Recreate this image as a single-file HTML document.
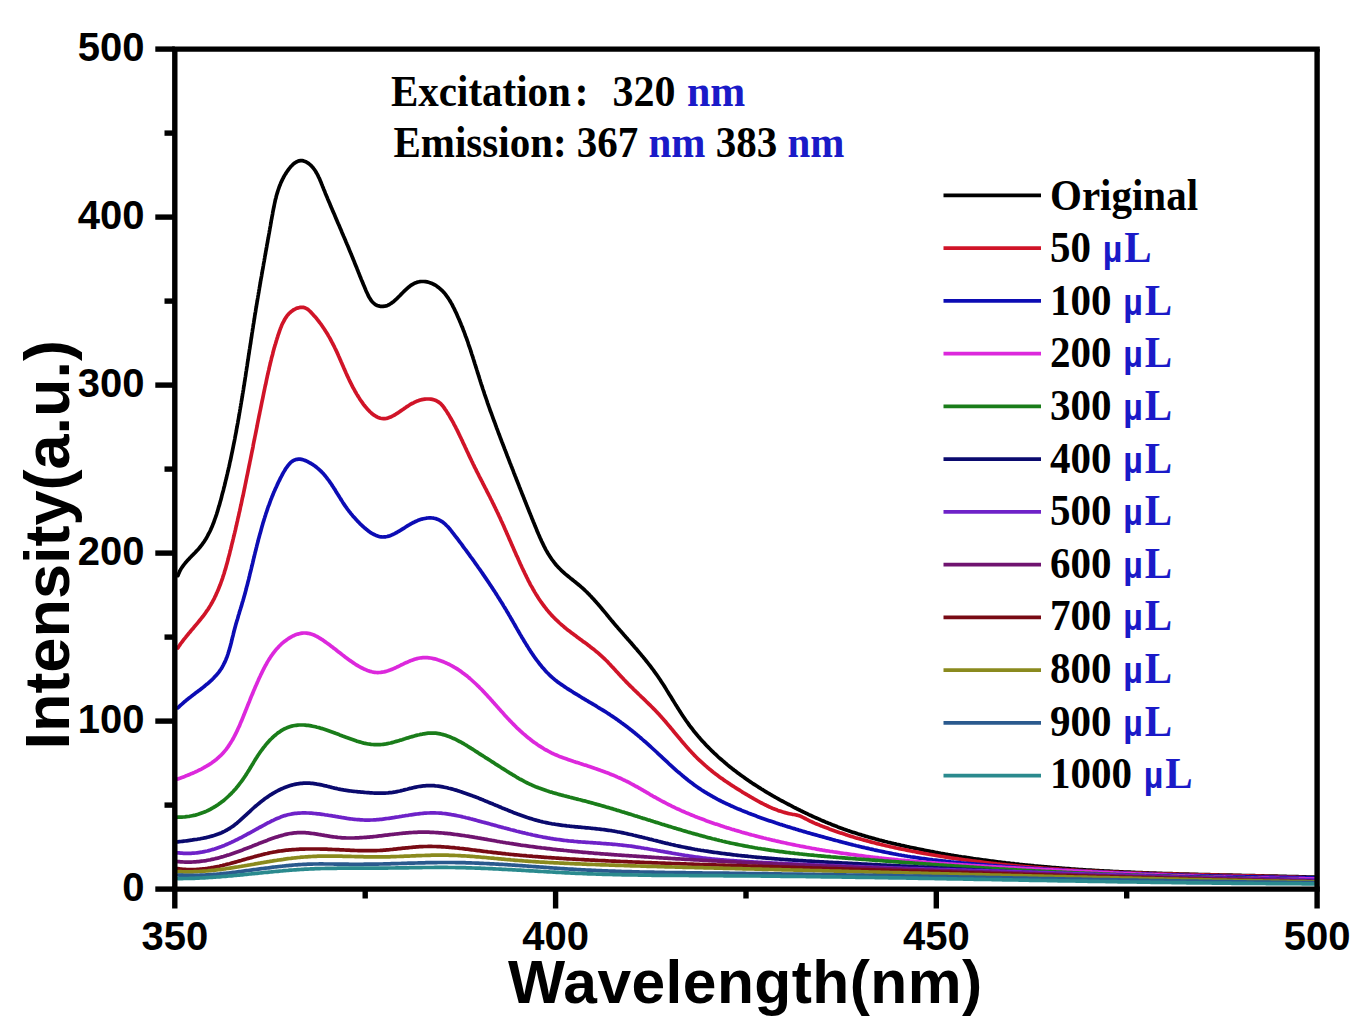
<!DOCTYPE html>
<html><head><meta charset="utf-8"><style>
html,body{margin:0;padding:0;background:#fff;}
body{width:1360px;height:1030px;overflow:hidden;}
svg{display:block;}
.sans{font-family:"Liberation Sans",sans-serif;font-weight:bold;}
.serif{font-family:"Liberation Serif",serif;font-weight:bold;}
.mu{font-family:"Liberation Sans",sans-serif;font-size:34px;}
</style></head><body>
<svg width="1360" height="1030" viewBox="0 0 1360 1030">
<rect width="1360" height="1030" fill="#fff"/>
<g fill="none" stroke-width="3.7" stroke-linejoin="round" stroke-linecap="round">
<path d="M177.9 575.7L178.4 574.3 179.0 572.9 179.6 571.5 180.3 570.2 181.0 568.9 181.8 567.6 182.7 566.4 183.6 565.2 184.5 564.0 185.4 562.8 186.4 561.7 187.4 560.6 188.4 559.5 189.4 558.4 190.5 557.3 191.5 556.2 192.6 555.2 193.6 554.1 194.7 553.0 195.7 551.9 196.7 550.9 197.8 549.8 198.8 548.6 199.7 547.5 200.7 546.3 201.6 545.2 202.5 543.9 203.4 542.7 204.2 541.5 205.0 540.2 205.8 539.0 206.6 537.7 207.3 536.4 208.0 535.0 208.7 533.7 209.4 532.4 210.1 531.0 210.7 529.7 211.3 528.3 211.9 526.9 212.5 525.5 213.0 524.2 213.6 522.8 214.1 521.4 214.6 519.9 215.1 518.5 215.6 517.1 216.1 515.7 216.6 514.3 217.0 512.8 217.5 511.4 217.9 510.0 218.3 508.5 218.7 507.1 219.2 505.7 219.6 504.2 220.0 502.8 220.4 501.3 220.8 499.9 221.2 498.4 221.6 497.0 221.9 495.5 222.3 494.1 222.7 492.6 223.1 491.2 223.5 489.7 223.8 488.3 224.2 486.8 224.6 485.4 224.9 483.9 225.3 482.5 225.6 481.0 226.0 479.6 226.4 478.1 226.7 476.6 227.0 475.2 227.4 473.7 227.7 472.3 228.1 470.8 228.4 469.3 228.7 467.9 229.1 466.4 229.4 465.0 229.7 463.5 230.0 462.0 230.4 460.6 230.7 459.1 231.0 457.6 231.3 456.2 231.6 454.7 231.9 453.2 232.2 451.8 232.5 450.3 232.8 448.8 233.1 447.4 233.4 445.9 233.7 444.4 234.0 442.9 234.3 441.5 234.6 440.0 234.9 438.5 235.1 437.1 235.4 435.6 235.7 434.1 236.0 432.6 236.3 431.2 236.5 429.7 236.8 428.2 237.1 426.7 237.3 425.3 237.6 423.8 237.9 422.3 238.1 420.8 238.4 419.4 238.7 417.9 238.9 416.4 239.2 414.9 239.4 413.5 239.7 412.0 239.9 410.5 240.2 409.0 240.4 407.5 240.7 406.1 240.9 404.6 241.2 403.1 241.4 401.6 241.7 400.2 241.9 398.7 242.2 397.2 242.4 395.7 242.6 394.2 242.9 392.8 243.1 391.3 243.4 389.8 243.6 388.3 243.8 386.8 244.1 385.4 244.3 383.9 244.5 382.4 244.8 380.9 245.0 379.4 245.2 378.0 245.5 376.5 245.7 375.0 245.9 373.5 246.1 372.0 246.4 370.5 246.6 369.1 246.8 367.6 247.1 366.1 247.3 364.6 247.5 363.1 247.7 361.7 248.0 360.2 248.2 358.7 248.4 357.2 248.6 355.7 248.9 354.2 249.1 352.8 249.3 351.3 249.5 349.8 249.8 348.3 250.0 346.8 250.2 345.4 250.5 343.9 250.7 342.4 250.9 340.9 251.1 339.4 251.4 337.9 251.6 336.5 251.8 335.0 252.0 333.5 252.3 332.0 252.5 330.5 252.7 329.1 253.0 327.6 253.2 326.1 253.4 324.6 253.7 323.1 253.9 321.7 254.1 320.2 254.4 318.7 254.6 317.2 254.8 315.7 255.1 314.2 255.3 312.8 255.6 311.3 255.8 309.8 256.0 308.3 256.3 306.9 256.5 305.4 256.8 303.9 257.0 302.4 257.3 300.9 257.5 299.5 257.8 298.0 258.0 296.5 258.3 295.0 258.5 293.5 258.8 292.1 259.0 290.6 259.3 289.1 259.5 287.6 259.8 286.2 260.0 284.7 260.3 283.2 260.5 281.7 260.8 280.2 261.0 278.8 261.3 277.3 261.6 275.8 261.8 274.3 262.1 272.9 262.3 271.4 262.6 269.9 262.9 268.4 263.1 267.0 263.4 265.5 263.6 264.0 263.9 262.5 264.2 261.1 264.4 259.6 264.7 258.1 264.9 256.6 265.2 255.1 265.5 253.7 265.7 252.2 266.0 250.7 266.3 249.2 266.5 247.8 266.8 246.3 267.0 244.8 267.3 243.3 267.6 241.9 267.8 240.4 268.1 238.9 268.4 237.4 268.6 236.0 268.9 234.5 269.2 233.0 269.4 231.5 269.7 230.1 269.9 228.6 270.2 227.1 270.5 225.6 270.7 224.2 271.0 222.7 271.2 221.2 271.5 219.7 271.8 218.2 272.0 216.8 272.3 215.3 272.6 213.8 272.8 212.3 273.1 210.9 273.4 209.4 273.7 207.9 274.0 206.5 274.3 205.0 274.6 203.5 274.9 202.1 275.2 200.6 275.6 199.1 276.0 197.7 276.3 196.2 276.7 194.8 277.1 193.4 277.6 191.9 278.0 190.5 278.5 189.1 279.0 187.7 279.5 186.2 280.1 184.9 280.6 183.5 281.2 182.1 281.9 180.7 282.5 179.4 283.2 178.0 283.9 176.7 284.6 175.4 285.4 174.1 286.2 172.9 287.0 171.6 287.9 170.4 288.8 169.2 289.7 168.0 290.6 166.8 291.7 165.7 292.7 164.7 293.8 163.7 295.0 162.8 296.3 162.0 297.7 161.3 299.1 160.9 300.6 160.6 302.1 160.7 303.5 160.9 305.0 161.4 306.3 162.0 307.6 162.8 308.8 163.6 310.0 164.6 311.1 165.6 312.1 166.7 313.1 167.8 314.0 169.0 314.9 170.3 315.7 171.5 316.4 172.8 317.2 174.1 317.9 175.4 318.5 176.8 319.2 178.1 319.8 179.5 320.4 180.9 321.0 182.3 321.5 183.7 322.1 185.1 322.6 186.4 323.2 187.8 323.7 189.2 324.3 190.6 324.9 192.0 325.4 193.4 326.0 194.8 326.6 196.2 327.2 197.6 327.7 198.9 328.3 200.3 328.9 201.7 329.5 203.1 330.1 204.5 330.6 205.8 331.2 207.2 331.8 208.6 332.4 210.0 333.0 211.4 333.6 212.7 334.2 214.1 334.8 215.5 335.4 216.9 335.9 218.3 336.5 219.6 337.1 221.0 337.7 222.4 338.3 223.8 338.9 225.1 339.5 226.5 340.1 227.9 340.7 229.3 341.3 230.7 341.8 232.0 342.4 233.4 343.0 234.8 343.6 236.2 344.2 237.5 344.8 238.9 345.4 240.3 345.9 241.7 346.5 243.1 347.1 244.5 347.7 245.8 348.3 247.2 348.8 248.6 349.4 250.0 350.0 251.4 350.6 252.8 351.1 254.1 351.7 255.5 352.3 256.9 352.8 258.3 353.4 259.7 354.0 261.1 354.5 262.5 355.1 263.9 355.6 265.3 356.2 266.6 356.8 268.0 357.3 269.4 357.9 270.8 358.4 272.2 359.0 273.6 359.5 275.0 360.1 276.4 360.7 277.8 361.2 279.2 361.8 280.6 362.4 281.9 362.9 283.3 363.5 284.7 364.1 286.1 364.7 287.5 365.3 288.9 365.8 290.2 366.4 291.6 367.1 293.0 367.7 294.3 368.3 295.7 369.0 297.0 369.8 298.3 370.6 299.6 371.5 300.8 372.4 302.0 373.5 303.0 374.6 304.0 375.9 304.8 377.2 305.5 378.6 305.9 380.1 306.3 381.6 306.4 383.1 306.4 384.6 306.2 386.0 305.9 387.5 305.4 388.8 304.8 390.1 304.0 391.4 303.2 392.6 302.3 393.8 301.4 394.9 300.4 396.0 299.4 397.1 298.4 398.2 297.3 399.2 296.3 400.3 295.2 401.3 294.1 402.4 293.0 403.4 292.0 404.5 290.9 405.6 289.9 406.7 288.9 407.8 287.9 408.9 286.9 410.1 286.0 411.3 285.1 412.6 284.3 413.9 283.6 415.2 282.9 416.7 282.4 418.1 282.0 419.6 281.7 421.1 281.5 422.6 281.5 424.0 281.5 425.5 281.7 427.0 281.9 428.5 282.3 429.9 282.7 431.3 283.2 432.7 283.8 434.0 284.5 435.3 285.2 436.6 286.0 437.8 286.9 439.0 287.8 440.2 288.8 441.3 289.8 442.4 290.8 443.4 291.9 444.4 293.0 445.3 294.2 446.2 295.4 447.1 296.6 448.0 297.8 448.8 299.1 449.6 300.4 450.4 301.6 451.1 302.9 451.9 304.2 452.6 305.6 453.2 306.9 453.9 308.2 454.6 309.6 455.2 310.9 455.9 312.3 456.5 313.6 457.1 315.0 457.7 316.4 458.3 317.8 458.9 319.1 459.5 320.5 460.1 321.9 460.7 323.3 461.2 324.7 461.8 326.1 462.4 327.4 462.9 328.8 463.4 330.2 464.0 331.6 464.5 333.0 465.0 334.4 465.5 335.9 466.1 337.3 466.6 338.7 467.1 340.1 467.6 341.5 468.1 342.9 468.5 344.3 469.0 345.8 469.5 347.2 470.0 348.6 470.5 350.0 470.9 351.4 471.4 352.9 471.8 354.3 472.3 355.7 472.8 357.1 473.2 358.6 473.7 360.0 474.1 361.4 474.6 362.9 475.0 364.3 475.5 365.7 475.9 367.2 476.4 368.6 476.8 370.0 477.3 371.4 477.7 372.9 478.2 374.3 478.6 375.7 479.1 377.2 479.5 378.6 480.0 380.0 480.4 381.5 480.9 382.9 481.3 384.3 481.8 385.7 482.3 387.2 482.7 388.6 483.2 390.0 483.7 391.4 484.2 392.9 484.6 394.3 485.1 395.7 485.6 397.1 486.1 398.5 486.6 400.0 487.1 401.4 487.5 402.8 488.0 404.2 488.5 405.6 489.0 407.0 489.5 408.4 490.0 409.9 490.5 411.3 491.1 412.7 491.6 414.1 492.1 415.5 492.6 416.9 493.1 418.3 493.6 419.7 494.1 421.1 494.7 422.5 495.2 423.9 495.7 425.3 496.2 426.7 496.7 428.2 497.3 429.6 497.8 431.0 498.3 432.4 498.8 433.8 499.4 435.2 499.9 436.6 500.4 438.0 501.0 439.4 501.5 440.8 502.0 442.2 502.6 443.6 503.1 445.0 503.7 446.4 504.2 447.8 504.7 449.2 505.3 450.6 505.8 452.0 506.4 453.4 506.9 454.8 507.4 456.2 508.0 457.6 508.5 459.0 509.1 460.4 509.6 461.8 510.1 463.2 510.7 464.5 511.2 465.9 511.8 467.3 512.3 468.7 512.9 470.1 513.4 471.5 513.9 472.9 514.5 474.3 515.0 475.7 515.6 477.1 516.1 478.5 516.7 479.9 517.2 481.3 517.8 482.7 518.3 484.1 518.9 485.5 519.4 486.9 520.0 488.3 520.5 489.7 521.1 491.1 521.6 492.5 522.2 493.9 522.7 495.3 523.3 496.6 523.8 498.0 524.4 499.4 524.9 500.8 525.5 502.2 526.0 503.6 526.6 505.0 527.2 506.4 527.7 507.8 528.3 509.2 528.8 510.6 529.4 512.0 530.0 513.4 530.5 514.7 531.1 516.1 531.6 517.5 532.2 518.9 532.8 520.3 533.3 521.7 533.9 523.1 534.5 524.5 535.0 525.8 535.6 527.2 536.2 528.6 536.7 530.0 537.3 531.4 537.9 532.8 538.5 534.2 539.1 535.5 539.7 536.9 540.3 538.3 540.9 539.6 541.5 541.0 542.2 542.4 542.8 543.7 543.5 545.1 544.1 546.4 544.8 547.7 545.5 549.1 546.2 550.4 547.0 551.7 547.7 553.0 548.5 554.3 549.3 555.5 550.1 556.8 550.9 558.0 551.8 559.3 552.7 560.5 553.6 561.7 554.5 562.9 555.4 564.0 556.4 565.2 557.4 566.3 558.4 567.4 559.5 568.5 560.5 569.5 561.6 570.6 562.7 571.6 563.8 572.6 564.9 573.6 566.1 574.6 567.2 575.5 568.4 576.5 569.5 577.4 570.7 578.4 571.9 579.3 573.0 580.2 574.2 581.2 575.4 582.1 576.5 583.1 577.7 584.0 578.9 585.0 580.0 585.9 581.1 586.9 582.3 587.9 583.4 588.9 584.5 589.9 585.6 591.0 586.7 592.0 587.7 593.1 588.8 594.1 589.8 595.2 590.9 596.3 591.9 597.4 592.9 598.5 593.9 599.6 594.9 600.7 595.9 601.8 596.9 602.9 597.9 604.1 598.9 605.2 599.9 606.3 600.8 607.5 601.8 608.6 602.7 609.8 603.7 610.9 604.7 612.1 605.6 613.2 606.6 614.4 607.5 615.6 608.5 616.7 609.4 617.9 610.4 619.0 611.3 620.2 612.3 621.3 613.3 622.5 614.2 623.6 615.2 624.8 616.2 625.9 617.2 627.0 618.1 628.2 619.1 629.3 620.1 630.4 621.1 631.6 622.1 632.7 623.1 633.8 624.0 635.0 625.0 636.1 626.0 637.2 627.0 638.3 628.0 639.5 629.0 640.6 630.0 641.7 631.0 642.8 632.0 644.0 632.9 645.1 633.9 646.2 634.9 647.4 635.9 648.5 636.9 649.6 637.8 650.8 638.8 651.9 639.8 653.1 640.7 654.2 641.7 655.4 642.7 656.5 643.6 657.7 644.6 658.8 645.5 660.0 646.5 661.2 647.4 662.3 648.3 663.5 649.2 664.7 650.2 665.9 651.1 667.1 652.0 668.3 652.9 669.5 653.8 670.7 654.6 671.9 655.5 673.1 656.4 674.3 657.2 675.5 658.1 676.8 658.9 678.0 659.8 679.3 660.6 680.5 661.4 681.8 662.2 683.0 663.1 684.3 663.9 685.5 664.7 686.8 665.5 688.1 666.3 689.4 667.0 690.6 667.8 691.9 668.6 693.2 669.4 694.5 670.2 695.7 671.0 697.0 671.8 698.3 672.5 699.6 673.3 700.8 674.1 702.1 674.9 703.4 675.7 704.7 676.5 705.9 677.3 707.2 678.1 708.5 678.9 709.8 679.7 711.0 680.5 712.3 681.3 713.5 682.1 714.8 682.9 716.0 683.8 717.3 684.6 718.5 685.5 719.8 686.3 721.0 687.2 722.2 688.1 723.4 688.9 724.6 689.8 725.9 690.7 727.0 691.7 728.2 692.6 729.4 693.5 730.6 694.4 731.8 695.4 732.9 696.3 734.1 697.3 735.2 698.3 736.4 699.3 737.5 700.2 738.6 701.2 739.8 702.2 740.9 703.3 742.0 704.3 743.1 705.3 744.2 706.3 745.3 707.4 746.3 708.4 747.4 709.5 748.5 710.5 749.5 711.6 750.6 712.7 751.6 713.8 752.7 714.8 753.7 715.9 754.7 717.0 755.7 718.1 756.8 719.3 757.8 720.4 758.8 721.5 759.7 722.6 760.7 723.8 761.7 724.9 762.7 726.1 763.6 727.2 764.6 728.4 765.6 729.5 766.5 730.7 767.4 731.9 768.4 733.1 769.3 734.2 770.2 735.4 771.1 736.6 772.0 737.8 772.9 739.0 773.8 740.2 774.7 741.4 775.6 742.7 776.5 743.9 777.3 745.1 778.2 746.3 779.1 747.6 779.9 748.8 780.8 750.0 781.6 751.3 782.5 752.5 783.3 753.8 784.1 755.0 784.9 756.3 785.7 757.6 786.6 758.8 787.4 760.1 788.2 761.4 789.0 762.6 789.7 763.9 790.5 765.2 791.3 766.5 792.1 767.8 792.9 769.1 793.6 770.4 794.4 771.6 795.1 772.9 795.9 774.2 796.6 775.5 797.4 776.9 798.1 778.2 798.8 779.5 799.6 780.8 800.3 782.1 801.0 783.4 801.7 784.7 802.4 786.1 803.1 787.4 803.8 788.7 804.5 790.0 805.2 791.4 805.9 792.7 806.6 794.0 807.3 795.4 808.0 796.7 808.7 798.0 809.3 799.4 810.0 800.7 810.7 802.1 811.3 803.4 812.0 804.8 812.6 806.1 813.3 807.5 813.9 808.8 814.6 810.2 815.2 811.6 815.8 812.9 816.5 814.3 817.1 815.7 817.7 817.0 818.3 818.4 818.9 819.8 819.5 821.1 820.1 822.5 820.7 823.9 821.3 825.3 821.9 826.7 822.4 828.0 823.0 829.4 823.6 830.8 824.1 832.2 824.7 833.6 825.2 835.0 825.8 836.4 826.3 837.8 826.9 839.2 827.4 840.6 827.9 842.0 828.4 843.4 829.0 844.8 829.5 846.3 830.0 847.7 830.5 849.1 830.9 850.5 831.4 851.9 831.9 853.3 832.4 854.8 832.8 856.2 833.3 857.6 833.8 859.1 834.2 860.5 834.6 861.9 835.1 863.4 835.5 864.8 835.9 866.2 836.4 867.7 836.8 869.1 837.2 870.6 837.6 872.0 838.0 873.4 838.4 874.9 838.8 876.3 839.2 877.8 839.6 879.2 840.0 880.7 840.3 882.1 840.7 883.6 841.1 885.0 841.5 886.5 841.8 888.0 842.2 889.4 842.5 890.9 842.9 892.3 843.2 893.8 843.6 895.2 843.9 896.7 844.3 898.2 844.6 899.6 844.9 901.1 845.3 902.6 845.6 904.0 845.9 905.5 846.2 906.9 846.6 908.4 846.9 909.9 847.2 911.3 847.5 912.8 847.8 914.3 848.1 915.7 848.4 917.2 848.7 918.7 849.0 920.1 849.3 921.6 849.6 923.1 849.9 924.6 850.2 926.0 850.5 927.5 850.8 929.0 851.1 930.4 851.4 931.9 851.6 933.4 851.9 934.9 852.2 936.3 852.5 937.8 852.7 939.3 853.0 940.8 853.3 942.2 853.5 943.7 853.8 945.2 854.1 946.7 854.3 948.1 854.6 949.6 854.8 951.1 855.1 952.6 855.3 954.1 855.6 955.5 855.8 957.0 856.0 958.5 856.3 960.0 856.5 961.5 856.8 962.9 857.0 964.4 857.2 965.9 857.4 967.4 857.7 968.9 857.9 970.3 858.1 971.8 858.3 973.3 858.6 974.8 858.8 976.3 859.0 977.8 859.2 979.3 859.4 980.7 859.6 982.2 859.8 983.7 860.0 985.2 860.2 986.7 860.4 988.2 860.6 989.6 860.8 991.1 861.0 992.6 861.2 994.1 861.4 995.6 861.6 997.1 861.8 998.6 862.0 1000.1 862.1 1001.5 862.3 1003.0 862.5 1004.5 862.7 1006.0 862.9 1007.5 863.0 1009.0 863.2 1010.5 863.4 1012.0 863.5 1013.5 863.7 1014.9 863.9 1016.4 864.0 1017.9 864.2 1019.4 864.4 1020.9 864.5 1022.4 864.7 1023.9 864.8 1025.4 865.0 1026.9 865.1 1028.4 865.3 1029.9 865.4 1031.4 865.6 1032.8 865.7 1034.3 865.9 1035.8 866.0 1037.3 866.1 1038.8 866.3 1040.3 866.4 1041.8 866.6 1043.3 866.7 1044.8 866.8 1046.3 866.9 1047.8 867.1 1049.3 867.2 1050.8 867.3 1052.3 867.5 1053.7 867.6 1055.2 867.7 1056.7 867.8 1058.2 867.9 1059.7 868.1 1061.2 868.2 1062.7 868.3 1064.2 868.4 1065.7 868.5 1067.2 868.6 1068.7 868.7 1070.2 868.8 1071.7 869.0 1073.2 869.1 1074.7 869.2 1076.2 869.3 1077.7 869.4 1079.2 869.5 1080.7 869.6 1082.2 869.7 1083.6 869.8 1085.1 869.9 1086.6 870.0 1088.1 870.1 1089.6 870.1 1091.1 870.2 1092.6 870.3 1094.1 870.4 1095.6 870.5 1097.1 870.6 1098.6 870.7 1100.1 870.8 1101.6 870.8 1103.1 870.9 1104.6 871.0 1106.1 871.1 1107.6 871.2 1109.1 871.2 1110.6 871.3 1112.1 871.4 1113.6 871.5 1115.1 871.5 1116.6 871.6 1118.1 871.7 1119.6 871.8 1121.1 871.8 1122.6 871.9 1124.1 872.0 1125.6 872.0 1127.1 872.1 1128.6 872.2 1130.1 872.2 1131.6 872.3 1133.1 872.4 1134.5 872.4 1136.0 872.5 1137.5 872.5 1139.0 872.6 1140.5 872.7 1142.0 872.7 1143.5 872.8 1145.0 872.8 1146.5 872.9 1148.0 872.9 1149.5 873.0 1151.0 873.1 1152.5 873.1 1154.0 873.2 1155.5 873.2 1157.0 873.3 1158.5 873.3 1160.0 873.4 1161.5 873.4 1163.0 873.5 1164.5 873.5 1166.0 873.6 1167.5 873.6 1169.0 873.7 1170.5 873.7 1172.0 873.7 1173.5 873.8 1175.0 873.8 1176.5 873.9 1178.0 873.9 1179.5 874.0 1181.0 874.0 1182.5 874.0 1184.0 874.1 1185.5 874.1 1187.0 874.2 1188.5 874.2 1190.0 874.3 1191.5 874.3 1193.0 874.3 1194.5 874.4 1196.0 874.4 1197.5 874.4 1199.0 874.5 1200.5 874.5 1202.0 874.6 1203.5 874.6 1205.0 874.6 1206.5 874.7 1208.0 874.7 1209.5 874.7 1211.0 874.8 1212.5 874.8 1214.0 874.8 1215.5 874.9 1217.0 874.9 1218.5 874.9 1220.0 875.0 1221.5 875.0 1223.0 875.0 1224.5 875.1 1226.0 875.1 1227.5 875.1 1228.9 875.2 1230.4 875.2 1231.9 875.2 1233.4 875.3 1234.9 875.3 1236.4 875.3 1237.9 875.4 1239.4 875.4 1240.9 875.4 1242.4 875.5 1243.9 875.5 1245.4 875.5 1246.9 875.6 1248.4 875.6 1249.9 875.6 1251.4 875.7 1252.9 875.7 1254.4 875.7 1255.9 875.8 1257.4 875.8 1258.9 875.8 1260.4 875.9 1261.9 875.9 1263.4 875.9 1264.9 876.0 1266.4 876.0 1267.9 876.0 1269.4 876.1 1270.9 876.1 1272.4 876.1 1273.9 876.2 1275.4 876.2 1276.9 876.2 1278.4 876.3 1279.9 876.3 1281.4 876.3 1282.9 876.4 1284.4 876.4 1285.9 876.4 1287.4 876.5 1288.9 876.5 1290.4 876.6 1291.9 876.6 1293.4 876.6 1294.9 876.7 1296.4 876.7 1297.9 876.7 1299.4 876.8 1300.9 876.8 1302.4 876.9 1303.9 876.9 1305.4 876.9 1306.9 877.0 1308.4 877.0 1309.9 877.1 1311.4 877.1 1312.9 877.2 1314.4 877.2 1315.9 877.3" stroke="#000000"/>
<path d="M177.8 648.0L178.6 646.7 179.5 645.5 180.3 644.2 181.2 643.0 182.1 641.8 183.0 640.6 183.9 639.4 184.8 638.3 185.8 637.1 186.7 635.9 187.7 634.8 188.6 633.6 189.6 632.5 190.6 631.3 191.5 630.2 192.5 629.0 193.5 627.9 194.4 626.7 195.4 625.6 196.4 624.4 197.3 623.3 198.3 622.1 199.2 621.0 200.2 619.8 201.1 618.6 202.0 617.5 203.0 616.3 203.9 615.1 204.8 613.9 205.6 612.7 206.5 611.4 207.4 610.2 208.2 609.0 209.0 607.7 209.8 606.4 210.6 605.1 211.3 603.8 212.1 602.5 212.8 601.2 213.5 599.9 214.2 598.6 214.8 597.2 215.5 595.9 216.1 594.5 216.7 593.1 217.3 591.8 217.9 590.4 218.5 589.0 219.1 587.6 219.6 586.2 220.2 584.8 220.7 583.4 221.2 582.0 221.7 580.6 222.2 579.2 222.7 577.8 223.1 576.3 223.6 574.9 224.1 573.5 224.5 572.0 224.9 570.6 225.4 569.2 225.8 567.7 226.2 566.3 226.6 564.8 227.0 563.4 227.4 562.0 227.8 560.5 228.2 559.1 228.5 557.6 228.9 556.2 229.3 554.7 229.7 553.2 230.0 551.8 230.4 550.3 230.8 548.9 231.1 547.4 231.5 546.0 231.8 544.5 232.2 543.1 232.6 541.6 232.9 540.1 233.3 538.7 233.6 537.2 234.0 535.8 234.3 534.3 234.7 532.9 235.0 531.4 235.4 529.9 235.7 528.5 236.0 527.0 236.4 525.6 236.7 524.1 237.0 522.6 237.4 521.2 237.7 519.7 238.0 518.2 238.4 516.8 238.7 515.3 239.0 513.9 239.3 512.4 239.7 510.9 240.0 509.5 240.3 508.0 240.6 506.5 241.0 505.1 241.3 503.6 241.6 502.1 241.9 500.7 242.2 499.2 242.5 497.7 242.9 496.3 243.2 494.8 243.5 493.3 243.8 491.9 244.1 490.4 244.4 488.9 244.7 487.5 245.0 486.0 245.3 484.5 245.6 483.1 245.9 481.6 246.2 480.1 246.5 478.7 246.8 477.2 247.1 475.7 247.4 474.3 247.7 472.8 248.0 471.3 248.3 469.8 248.6 468.4 248.9 466.9 249.2 465.4 249.5 464.0 249.8 462.5 250.1 461.0 250.4 459.6 250.7 458.1 251.0 456.6 251.3 455.1 251.6 453.7 251.9 452.2 252.2 450.7 252.5 449.3 252.8 447.8 253.1 446.3 253.3 444.8 253.6 443.4 253.9 441.9 254.2 440.4 254.5 439.0 254.8 437.5 255.1 436.0 255.4 434.6 255.7 433.1 256.0 431.6 256.3 430.1 256.6 428.7 256.9 427.2 257.2 425.7 257.4 424.3 257.7 422.8 258.0 421.3 258.3 419.8 258.6 418.4 258.9 416.9 259.2 415.4 259.5 414.0 259.8 412.5 260.1 411.0 260.4 409.6 260.7 408.1 261.0 406.6 261.3 405.1 261.6 403.7 261.9 402.2 262.2 400.7 262.5 399.3 262.8 397.8 263.1 396.3 263.4 394.9 263.7 393.4 264.0 391.9 264.3 390.5 264.6 389.0 264.9 387.5 265.2 386.1 265.6 384.6 265.9 383.1 266.2 381.7 266.5 380.2 266.8 378.7 267.1 377.3 267.4 375.8 267.8 374.3 268.1 372.9 268.4 371.4 268.8 369.9 269.1 368.5 269.4 367.0 269.8 365.6 270.1 364.1 270.5 362.6 270.8 361.2 271.2 359.7 271.5 358.3 271.9 356.8 272.3 355.4 272.7 353.9 273.0 352.5 273.4 351.0 273.8 349.6 274.2 348.1 274.6 346.7 275.0 345.2 275.5 343.8 275.9 342.4 276.3 340.9 276.8 339.5 277.2 338.1 277.7 336.6 278.1 335.2 278.6 333.8 279.1 332.4 279.6 330.9 280.1 329.5 280.6 328.1 281.2 326.7 281.7 325.3 282.3 324.0 283.0 322.6 283.7 321.3 284.4 320.0 285.1 318.7 286.0 317.4 286.8 316.2 287.7 315.0 288.7 313.9 289.8 312.8 290.9 311.8 292.1 310.9 293.3 310.0 294.6 309.3 296.0 308.6 297.4 308.1 298.8 307.7 300.3 307.4 301.8 307.3 303.3 307.4 304.7 307.8 306.1 308.4 307.4 309.1 308.6 310.0 309.7 311.0 310.8 312.1 311.8 313.2 312.8 314.3 313.8 315.4 314.8 316.5 315.8 317.6 316.8 318.8 317.7 320.0 318.6 321.1 319.5 322.3 320.4 323.5 321.3 324.7 322.2 326.0 323.0 327.2 323.9 328.5 324.7 329.7 325.5 331.0 326.3 332.2 327.1 333.5 327.9 334.8 328.6 336.1 329.4 337.4 330.1 338.7 330.8 340.0 331.5 341.3 332.2 342.7 332.9 344.0 333.6 345.3 334.3 346.7 334.9 348.0 335.6 349.4 336.2 350.7 336.9 352.1 337.5 353.4 338.1 354.8 338.7 356.2 339.3 357.5 339.9 358.9 340.5 360.3 341.1 361.7 341.7 363.0 342.3 364.4 342.9 365.8 343.5 367.2 344.1 368.6 344.7 369.9 345.3 371.3 345.9 372.7 346.5 374.0 347.1 375.4 347.8 376.8 348.4 378.1 349.0 379.5 349.7 380.9 350.3 382.2 351.0 383.5 351.7 384.9 352.3 386.2 353.0 387.5 353.8 388.9 354.5 390.2 355.2 391.5 356.0 392.8 356.7 394.1 357.5 395.4 358.3 396.6 359.1 397.9 359.9 399.2 360.7 400.4 361.6 401.6 362.5 402.9 363.3 404.1 364.2 405.3 365.2 406.5 366.1 407.6 367.1 408.7 368.1 409.9 369.2 410.9 370.2 412.0 371.3 413.0 372.5 414.0 373.7 414.9 374.9 415.7 376.2 416.5 377.5 417.2 378.9 417.7 380.4 418.2 381.8 418.5 383.3 418.6 384.8 418.6 386.3 418.4 387.8 418.1 389.2 417.6 390.6 417.1 391.9 416.4 393.3 415.7 394.6 415.0 395.8 414.2 397.1 413.4 398.4 412.6 399.6 411.7 400.8 410.9 402.1 410.0 403.3 409.2 404.5 408.3 405.8 407.5 407.0 406.6 408.3 405.8 409.5 405.0 410.8 404.2 412.1 403.5 413.5 402.8 414.8 402.1 416.2 401.5 417.5 400.9 419.0 400.4 420.4 400.0 421.9 399.6 423.3 399.4 424.8 399.2 426.3 399.0 427.8 399.0 429.3 399.0 430.8 399.2 432.3 399.4 433.7 399.8 435.2 400.3 436.5 400.8 437.9 401.6 439.1 402.4 440.3 403.3 441.4 404.4 442.4 405.5 443.3 406.6 444.2 407.9 445.0 409.1 445.9 410.3 446.7 411.6 447.5 412.9 448.3 414.1 449.1 415.4 449.8 416.7 450.6 418.0 451.3 419.3 452.1 420.6 452.8 421.9 453.5 423.2 454.2 424.6 454.9 425.9 455.6 427.2 456.3 428.6 457.0 429.9 457.6 431.2 458.3 432.6 458.9 433.9 459.6 435.3 460.2 436.6 460.9 438.0 461.5 439.3 462.2 440.7 462.8 442.1 463.4 443.4 464.1 444.8 464.7 446.1 465.3 447.5 466.0 448.9 466.6 450.2 467.2 451.6 467.9 452.9 468.5 454.3 469.1 455.7 469.8 457.0 470.4 458.4 471.1 459.7 471.7 461.1 472.4 462.4 473.0 463.8 473.7 465.1 474.3 466.5 475.0 467.8 475.7 469.1 476.3 470.5 477.0 471.8 477.7 473.2 478.4 474.5 479.0 475.8 479.7 477.2 480.4 478.5 481.1 479.8 481.8 481.2 482.5 482.5 483.1 483.9 483.8 485.2 484.5 486.5 485.2 487.9 485.9 489.2 486.6 490.5 487.2 491.9 487.9 493.2 488.6 494.5 489.3 495.9 490.0 497.2 490.6 498.5 491.3 499.9 492.0 501.2 492.6 502.6 493.3 503.9 494.0 505.3 494.6 506.6 495.3 508.0 495.9 509.3 496.6 510.7 497.2 512.0 497.9 513.4 498.5 514.7 499.1 516.1 499.8 517.4 500.4 518.8 501.0 520.2 501.6 521.5 502.3 522.9 502.9 524.3 503.5 525.6 504.1 527.0 504.7 528.4 505.3 529.8 505.9 531.1 506.5 532.5 507.1 533.9 507.7 535.2 508.3 536.6 508.9 538.0 509.5 539.4 510.1 540.7 510.7 542.1 511.3 543.5 511.9 544.9 512.5 546.2 513.1 547.6 513.7 549.0 514.3 550.4 514.9 551.7 515.5 553.1 516.1 554.5 516.7 555.9 517.4 557.2 518.0 558.6 518.6 560.0 519.2 561.3 519.8 562.7 520.4 564.1 521.1 565.4 521.7 566.8 522.3 568.1 523.0 569.5 523.6 570.9 524.3 572.2 524.9 573.6 525.6 574.9 526.2 576.2 526.9 577.6 527.6 578.9 528.2 580.3 528.9 581.6 529.6 582.9 530.3 584.3 531.0 585.6 531.8 586.9 532.5 588.2 533.2 589.5 534.0 590.8 534.7 592.1 535.5 593.4 536.3 594.7 537.1 595.9 537.9 597.2 538.7 598.5 539.5 599.7 540.4 601.0 541.2 602.2 542.1 603.4 543.0 604.6 543.8 605.8 544.8 607.0 545.7 608.2 546.6 609.4 547.6 610.5 548.5 611.7 549.5 612.8 550.5 613.9 551.5 615.1 552.5 616.1 553.6 617.2 554.6 618.3 555.7 619.4 556.8 620.4 557.9 621.4 559.0 622.5 560.1 623.5 561.2 624.5 562.3 625.4 563.5 626.4 564.6 627.4 565.8 628.3 567.0 629.3 568.1 630.2 569.3 631.1 570.5 632.0 571.7 632.9 572.9 633.8 574.1 634.7 575.3 635.6 576.5 636.5 577.7 637.4 578.9 638.3 580.1 639.2 581.3 640.1 582.5 641.0 583.7 641.9 585.0 642.7 586.2 643.6 587.4 644.5 588.6 645.4 589.8 646.3 590.9 647.3 592.1 648.2 593.3 649.1 594.5 650.0 595.6 651.0 596.8 651.9 598.0 652.9 599.1 653.9 600.2 654.9 601.3 655.9 602.4 656.9 603.5 657.9 604.6 658.9 605.7 660.0 606.8 661.0 607.8 662.1 608.8 663.2 609.9 664.3 610.9 665.4 611.9 666.5 613.0 667.6 614.0 668.7 615.0 669.8 616.0 670.9 617.0 672.0 618.0 673.1 619.0 674.2 620.0 675.3 621.0 676.4 622.1 677.5 623.1 678.6 624.1 679.7 625.2 680.8 626.2 681.9 627.2 682.9 628.3 684.0 629.4 685.1 630.4 686.1 631.5 687.2 632.6 688.2 633.6 689.3 634.7 690.3 635.8 691.4 636.9 692.4 637.9 693.4 639.0 694.5 640.1 695.5 641.2 696.6 642.3 697.6 643.4 698.6 644.4 699.7 645.5 700.7 646.6 701.8 647.7 702.8 648.7 703.9 649.8 704.9 650.9 706.0 651.9 707.0 653.0 708.1 654.0 709.2 655.1 710.2 656.1 711.3 657.2 712.4 658.2 713.5 659.2 714.6 660.2 715.7 661.2 716.8 662.2 717.9 663.2 719.1 664.2 720.2 665.2 721.3 666.2 722.5 667.1 723.6 668.1 724.8 669.1 725.9 670.0 727.0 671.0 728.2 672.0 729.3 672.9 730.5 673.9 731.7 674.8 732.8 675.8 734.0 676.7 735.1 677.7 736.3 678.7 737.4 679.6 738.6 680.6 739.7 681.5 740.9 682.5 742.0 683.5 743.2 684.5 744.3 685.4 745.4 686.4 746.6 687.4 747.7 688.4 748.8 689.4 749.9 690.4 751.0 691.4 752.1 692.5 753.2 693.5 754.3 694.5 755.4 695.6 756.5 696.6 757.5 697.7 758.6 698.8 759.6 699.9 760.7 701.0 761.7 702.1 762.7 703.2 763.7 704.3 764.7 705.4 765.7 706.6 766.7 707.7 767.7 708.9 768.6 710.0 769.6 711.2 770.5 712.4 771.5 713.5 772.4 714.7 773.3 715.9 774.2 717.1 775.1 718.3 776.0 719.5 776.9 720.7 777.8 722.0 778.6 723.2 779.5 724.4 780.4 725.6 781.2 726.9 782.1 728.1 782.9 729.4 783.7 730.6 784.6 731.9 785.4 733.1 786.2 734.4 787.0 735.7 787.8 736.9 788.6 738.2 789.4 739.5 790.2 740.8 791.0 742.0 791.8 743.3 792.6 744.6 793.3 745.9 794.1 747.2 794.9 748.5 795.6 749.7 796.4 751.0 797.2 752.3 797.9 753.6 798.7 754.9 799.4 756.2 800.1 757.6 800.9 758.9 801.6 760.2 802.3 761.5 803.0 762.8 803.7 764.2 804.4 765.5 805.0 766.9 805.7 768.2 806.3 769.6 807.0 771.0 807.6 772.3 808.2 773.7 808.7 775.1 809.3 776.5 809.8 777.9 810.4 779.3 810.9 780.8 811.3 782.2 811.8 783.6 812.2 785.1 812.6 786.5 813.0 788.0 813.4 789.4 813.7 790.9 814.0 792.4 814.3 793.9 814.5 795.3 814.8 796.8 815.1 798.3 815.5 799.7 815.9 801.1 816.5 802.4 817.1 803.8 817.8 805.1 818.5 806.4 819.2 807.8 819.9 809.1 820.6 810.4 821.2 811.8 821.8 813.2 822.5 814.5 823.1 815.9 823.7 817.3 824.3 818.7 824.8 820.1 825.4 821.5 825.9 822.9 826.5 824.3 827.0 825.7 827.6 827.1 828.1 828.5 828.6 829.9 829.2 831.3 829.7 832.7 830.2 834.1 830.7 835.5 831.2 836.9 831.7 838.3 832.2 839.8 832.7 841.2 833.1 842.6 833.6 844.0 834.1 845.5 834.6 846.9 835.0 848.3 835.5 849.7 835.9 851.2 836.4 852.6 836.8 854.0 837.2 855.5 837.7 856.9 838.1 858.4 838.5 859.8 838.9 861.2 839.3 862.7 839.7 864.1 840.1 865.6 840.5 867.0 840.9 868.5 841.3 869.9 841.7 871.4 842.1 872.8 842.5 874.3 842.8 875.7 843.2 877.2 843.6 878.6 843.9 880.1 844.3 881.6 844.6 883.0 845.0 884.5 845.3 885.9 845.7 887.4 846.0 888.9 846.3 890.3 846.7 891.8 847.0 893.2 847.3 894.7 847.6 896.2 848.0 897.6 848.3 899.1 848.6 900.6 848.9 902.0 849.2 903.5 849.5 905.0 849.8 906.5 850.1 907.9 850.4 909.4 850.7 910.9 851.0 912.3 851.3 913.8 851.5 915.3 851.8 916.8 852.1 918.2 852.4 919.7 852.6 921.2 852.9 922.7 853.2 924.1 853.5 925.6 853.7 927.1 854.0 928.6 854.2 930.0 854.5 931.5 854.7 933.0 855.0 934.5 855.2 936.0 855.5 937.4 855.7 938.9 856.0 940.4 856.2 941.9 856.5 943.4 856.7 944.8 856.9 946.3 857.2 947.8 857.4 949.3 857.6 950.8 857.9 952.3 858.1 953.7 858.3 955.2 858.5 956.7 858.7 958.2 858.9 959.7 859.2 961.2 859.4 962.6 859.6 964.1 859.8 965.6 860.0 967.1 860.2 968.6 860.4 970.1 860.6 971.6 860.8 973.0 861.0 974.5 861.2 976.0 861.4 977.5 861.6 979.0 861.7 980.5 861.9 982.0 862.1 983.5 862.3 984.9 862.5 986.4 862.7 987.9 862.8 989.4 863.0 990.9 863.2 992.4 863.3 993.9 863.5 995.4 863.7 996.9 863.9 998.4 864.0 999.8 864.2 1001.3 864.3 1002.8 864.5 1004.3 864.6 1005.8 864.8 1007.3 865.0 1008.8 865.1 1010.3 865.3 1011.8 865.4 1013.3 865.6 1014.8 865.7 1016.3 865.8 1017.8 866.0 1019.2 866.1 1020.7 866.3 1022.2 866.4 1023.7 866.5 1025.2 866.7 1026.7 866.8 1028.2 866.9 1029.7 867.1 1031.2 867.2 1032.7 867.3 1034.2 867.4 1035.7 867.6 1037.2 867.7 1038.7 867.8 1040.2 867.9 1041.7 868.0 1043.2 868.2 1044.6 868.3 1046.1 868.4 1047.6 868.5 1049.1 868.6 1050.6 868.7 1052.1 868.8 1053.6 868.9 1055.1 869.0 1056.6 869.1 1058.1 869.2 1059.6 869.3 1061.1 869.4 1062.6 869.5 1064.1 869.6 1065.6 869.7 1067.1 869.8 1068.6 869.9 1070.1 870.0 1071.6 870.1 1073.1 870.2 1074.6 870.3 1076.1 870.4 1077.6 870.5 1079.1 870.5 1080.6 870.6 1082.1 870.7 1083.6 870.8 1085.1 870.9 1086.6 871.0 1088.0 871.0 1089.5 871.1 1091.0 871.2 1092.5 871.3 1094.0 871.3 1095.5 871.4 1097.0 871.5 1098.5 871.6 1100.0 871.6 1101.5 871.7 1103.0 871.8 1104.5 871.8 1106.0 871.9 1107.5 872.0 1109.0 872.0 1110.5 872.1 1112.0 872.2 1113.5 872.2 1115.0 872.3 1116.5 872.4 1118.0 872.4 1119.5 872.5 1121.0 872.5 1122.5 872.6 1124.0 872.7 1125.5 872.7 1127.0 872.8 1128.5 872.8 1130.0 872.9 1131.5 872.9 1133.0 873.0 1134.5 873.0 1136.0 873.1 1137.5 873.1 1139.0 873.2 1140.5 873.2 1142.0 873.3 1143.5 873.3 1145.0 873.4 1146.5 873.4 1148.0 873.5 1149.5 873.5 1151.0 873.6 1152.5 873.6 1154.0 873.7 1155.5 873.7 1157.0 873.8 1158.5 873.8 1160.0 873.8 1161.5 873.9 1163.0 873.9 1164.5 874.0 1166.0 874.0 1167.5 874.0 1169.0 874.1 1170.5 874.1 1172.0 874.2 1173.5 874.2 1175.0 874.2 1176.5 874.3 1178.0 874.3 1179.5 874.4 1181.0 874.4 1182.5 874.4 1184.0 874.5 1185.5 874.5 1187.0 874.5 1188.5 874.6 1190.0 874.6 1191.5 874.7 1193.0 874.7 1194.5 874.7 1196.0 874.8 1197.5 874.8 1199.0 874.8 1200.5 874.9 1201.9 874.9 1203.4 874.9 1204.9 875.0 1206.4 875.0 1207.9 875.0 1209.4 875.1 1210.9 875.1 1212.4 875.1 1213.9 875.2 1215.4 875.2 1216.9 875.2 1218.4 875.3 1219.9 875.3 1221.4 875.3 1222.9 875.4 1224.4 875.4 1225.9 875.4 1227.4 875.5 1228.9 875.5 1230.4 875.5 1231.9 875.6 1233.4 875.6 1234.9 875.6 1236.4 875.7 1237.9 875.7 1239.4 875.7 1240.9 875.8 1242.4 875.8 1243.9 875.8 1245.4 875.9 1246.9 875.9 1248.4 875.9 1249.9 876.0 1251.4 876.0 1252.9 876.1 1254.4 876.1 1255.9 876.1 1257.4 876.2 1258.9 876.2 1260.4 876.2 1261.9 876.3 1263.4 876.3 1264.9 876.4 1266.4 876.4 1267.9 876.4 1269.4 876.5 1270.9 876.5 1272.4 876.6 1273.9 876.6 1275.4 876.6 1276.9 876.7 1278.4 876.7 1279.9 876.8 1281.4 876.8 1282.9 876.9 1284.4 876.9 1285.9 876.9 1287.4 877.0 1288.9 877.0 1290.4 877.1 1291.9 877.1 1293.4 877.2 1294.9 877.2 1296.4 877.3 1297.9 877.3 1299.4 877.4 1300.9 877.4 1302.4 877.5 1303.9 877.5 1305.4 877.6 1306.9 877.6 1308.4 877.7 1309.9 877.7 1311.4 877.8 1312.9 877.9 1314.4 877.9 1315.9 878.0" stroke="#d01428"/>
<path d="M177.8 707.9L178.9 706.9 179.9 705.8 181.0 704.8 182.2 703.8 183.3 702.8 184.4 701.8 185.6 700.9 186.7 699.9 187.9 699.0 189.1 698.1 190.3 697.2 191.5 696.2 192.7 695.3 193.8 694.4 195.0 693.5 196.2 692.6 197.4 691.7 198.6 690.8 199.8 689.9 201.0 689.0 202.2 688.1 203.4 687.1 204.5 686.2 205.7 685.2 206.8 684.3 208.0 683.3 209.1 682.3 210.2 681.3 211.3 680.3 212.4 679.3 213.5 678.2 214.5 677.1 215.5 676.0 216.5 674.9 217.5 673.8 218.5 672.6 219.4 671.4 220.2 670.2 221.1 669.0 221.9 667.7 222.6 666.4 223.3 665.1 224.0 663.7 224.7 662.4 225.3 661.0 225.9 659.7 226.4 658.3 227.0 656.9 227.5 655.5 228.0 654.0 228.4 652.6 228.9 651.2 229.3 649.7 229.7 648.3 230.1 646.9 230.5 645.4 230.9 644.0 231.3 642.5 231.6 641.1 232.0 639.6 232.3 638.1 232.7 636.7 233.1 635.2 233.4 633.8 233.8 632.3 234.1 630.9 234.5 629.4 234.9 628.0 235.3 626.5 235.7 625.1 236.1 623.6 236.5 622.2 236.9 620.8 237.4 619.3 237.8 617.9 238.2 616.4 238.6 615.0 239.1 613.6 239.5 612.1 239.9 610.7 240.4 609.3 240.8 607.8 241.3 606.4 241.7 605.0 242.1 603.5 242.5 602.1 243.0 600.6 243.4 599.2 243.8 597.8 244.2 596.3 244.6 594.9 245.0 593.4 245.4 592.0 245.8 590.5 246.2 589.1 246.5 587.6 246.9 586.2 247.3 584.7 247.7 583.3 248.0 581.8 248.4 580.4 248.8 578.9 249.1 577.5 249.5 576.0 249.8 574.6 250.2 573.1 250.6 571.6 250.9 570.2 251.3 568.7 251.6 567.3 252.0 565.8 252.3 564.4 252.7 562.9 253.0 561.5 253.4 560.0 253.7 558.5 254.1 557.1 254.4 555.6 254.8 554.2 255.1 552.7 255.5 551.3 255.9 549.8 256.2 548.3 256.6 546.9 256.9 545.4 257.3 544.0 257.7 542.5 258.1 541.1 258.4 539.6 258.8 538.2 259.2 536.7 259.6 535.3 260.0 533.8 260.4 532.4 260.8 530.9 261.2 529.5 261.6 528.1 262.0 526.6 262.4 525.2 262.8 523.7 263.2 522.3 263.7 520.9 264.1 519.4 264.6 518.0 265.0 516.6 265.5 515.1 265.9 513.7 266.4 512.3 266.9 510.9 267.4 509.4 267.8 508.0 268.3 506.6 268.9 505.2 269.4 503.8 269.9 502.4 270.4 501.0 270.9 499.6 271.5 498.2 272.0 496.8 272.6 495.4 273.2 494.0 273.7 492.6 274.3 491.3 274.9 489.9 275.5 488.5 276.2 487.1 276.8 485.8 277.4 484.4 278.0 483.1 278.7 481.7 279.4 480.4 280.0 479.0 280.7 477.7 281.4 476.4 282.1 475.0 282.8 473.7 283.5 472.4 284.3 471.1 285.1 469.8 285.8 468.5 286.7 467.3 287.6 466.1 288.5 464.9 289.5 463.8 290.5 462.7 291.7 461.7 292.9 460.9 294.2 460.2 295.6 459.6 297.1 459.3 298.5 459.1 300.0 459.2 301.5 459.4 303.0 459.8 304.4 460.2 305.8 460.8 307.2 461.4 308.5 462.1 309.8 462.8 311.1 463.5 312.4 464.3 313.7 465.2 314.9 466.0 316.1 466.9 317.2 467.9 318.4 468.9 319.5 469.9 320.6 470.9 321.6 471.9 322.7 473.0 323.7 474.1 324.7 475.3 325.6 476.4 326.6 477.6 327.5 478.8 328.4 480.0 329.3 481.2 330.1 482.4 331.0 483.6 331.8 484.9 332.6 486.1 333.4 487.4 334.3 488.7 335.1 489.9 335.8 491.2 336.6 492.5 337.4 493.8 338.2 495.0 339.0 496.3 339.8 497.6 340.6 498.9 341.4 500.1 342.2 501.4 343.0 502.7 343.8 503.9 344.6 505.1 345.5 506.4 346.4 507.6 347.2 508.8 348.1 510.0 349.0 511.2 350.0 512.4 350.9 513.6 351.8 514.7 352.8 515.9 353.8 517.0 354.8 518.1 355.8 519.2 356.8 520.3 357.8 521.4 358.9 522.5 359.9 523.6 361.0 524.6 362.1 525.6 363.2 526.7 364.3 527.7 365.5 528.6 366.6 529.6 367.8 530.5 369.0 531.4 370.2 532.3 371.5 533.1 372.8 533.8 374.1 534.5 375.5 535.2 376.9 535.7 378.3 536.2 379.7 536.6 381.2 536.8 382.7 537.0 384.2 536.9 385.7 536.8 387.2 536.5 388.6 536.1 390.0 535.7 391.4 535.1 392.8 534.5 394.2 533.9 395.5 533.2 396.8 532.5 398.1 531.7 399.4 531.0 400.7 530.2 401.9 529.4 403.2 528.6 404.5 527.8 405.7 527.0 407.0 526.2 408.3 525.4 409.6 524.7 410.9 523.9 412.2 523.2 413.5 522.5 414.9 521.8 416.2 521.2 417.6 520.6 419.0 520.1 420.4 519.6 421.9 519.1 423.3 518.8 424.8 518.5 426.3 518.2 427.7 518.0 429.2 517.9 430.7 517.9 432.2 518.0 433.7 518.2 435.2 518.5 436.6 518.9 438.0 519.4 439.4 520.1 440.7 520.8 442.0 521.6 443.2 522.5 444.3 523.4 445.5 524.4 446.5 525.5 447.6 526.5 448.6 527.6 449.6 528.8 450.5 529.9 451.5 531.1 452.4 532.3 453.3 533.5 454.2 534.6 455.1 535.8 456.0 537.0 457.0 538.2 457.9 539.4 458.8 540.6 459.7 541.8 460.6 543.0 461.5 544.2 462.4 545.4 463.2 546.6 464.1 547.8 465.0 549.0 465.9 550.2 466.8 551.4 467.7 552.7 468.6 553.9 469.5 555.1 470.3 556.3 471.2 557.5 472.1 558.7 473.0 559.9 473.9 561.1 474.7 562.4 475.6 563.6 476.5 564.8 477.3 566.0 478.2 567.3 479.1 568.5 479.9 569.7 480.8 570.9 481.6 572.2 482.5 573.4 483.3 574.6 484.2 575.9 485.0 577.1 485.9 578.4 486.7 579.6 487.5 580.8 488.4 582.1 489.2 583.3 490.0 584.6 490.9 585.8 491.7 587.1 492.5 588.3 493.3 589.6 494.2 590.8 495.0 592.1 495.8 593.4 496.6 594.6 497.4 595.9 498.2 597.2 499.0 598.4 499.8 599.7 500.6 601.0 501.4 602.2 502.2 603.5 503.0 604.8 503.7 606.1 504.5 607.4 505.3 608.6 506.1 609.9 506.8 611.2 507.6 612.5 508.4 613.8 509.1 615.1 509.9 616.4 510.6 617.7 511.4 619.0 512.1 620.3 512.9 621.6 513.6 622.9 514.4 624.2 515.1 625.5 515.8 626.8 516.6 628.1 517.3 629.4 518.1 630.7 518.8 632.0 519.6 633.3 520.3 634.6 521.1 635.9 521.8 637.2 522.6 638.4 523.4 639.7 524.1 641.0 524.9 642.3 525.7 643.6 526.5 644.9 527.3 646.1 528.1 647.4 528.9 648.7 529.7 649.9 530.5 651.2 531.3 652.4 532.2 653.7 533.0 654.9 533.9 656.2 534.7 657.4 535.6 658.6 536.5 659.8 537.4 661.0 538.3 662.2 539.2 663.4 540.1 664.6 541.1 665.7 542.0 666.9 543.0 668.0 544.0 669.1 545.0 670.3 546.0 671.4 547.0 672.5 548.1 673.5 549.1 674.6 550.2 675.6 551.3 676.7 552.4 677.7 553.6 678.7 554.7 679.6 555.9 680.6 557.1 681.5 558.3 682.4 559.5 683.2 560.7 684.1 561.9 684.9 563.2 685.8 564.4 686.6 565.7 687.5 566.9 688.3 568.2 689.1 569.4 689.9 570.7 690.7 572.0 691.5 573.2 692.3 574.5 693.1 575.8 693.9 577.1 694.7 578.4 695.4 579.6 696.2 580.9 697.0 582.2 697.8 583.5 698.5 584.8 699.3 586.1 700.1 587.4 700.8 588.6 701.6 589.9 702.4 591.2 703.1 592.5 703.9 593.8 704.7 595.1 705.4 596.4 706.2 597.6 707.0 598.9 707.8 600.2 708.6 601.5 709.3 602.8 710.1 604.0 710.9 605.3 711.7 606.6 712.5 607.8 713.3 609.1 714.1 610.3 715.0 611.6 715.8 612.8 716.6 614.1 717.5 615.3 718.3 616.5 719.2 617.8 720.0 619.0 720.9 620.2 721.8 621.4 722.7 622.6 723.5 623.8 724.4 625.0 725.3 626.2 726.2 627.4 727.1 628.6 728.1 629.8 729.0 631.0 729.9 632.1 730.8 633.3 731.8 634.5 732.7 635.6 733.7 636.8 734.6 638.0 735.6 639.1 736.5 640.2 737.5 641.4 738.5 642.5 739.5 643.6 740.5 644.8 741.4 645.9 742.4 647.0 743.4 648.1 744.4 649.2 745.4 650.3 746.4 651.5 747.5 652.6 748.5 653.7 749.5 654.8 750.5 655.9 751.5 657.0 752.5 658.1 753.6 659.2 754.6 660.3 755.6 661.4 756.6 662.4 757.7 663.5 758.7 664.6 759.7 665.7 760.7 666.8 761.7 667.9 762.7 669.0 763.8 670.2 764.8 671.3 765.8 672.4 766.8 673.5 767.8 674.6 768.8 675.7 769.8 676.8 770.8 678.0 771.8 679.1 772.7 680.2 773.7 681.4 774.7 682.5 775.7 683.7 776.6 684.8 777.6 686.0 778.5 687.2 779.5 688.3 780.4 689.5 781.3 690.7 782.2 691.9 783.1 693.1 784.0 694.3 784.9 695.5 785.8 696.8 786.7 698.0 787.5 699.2 788.4 700.5 789.2 701.7 790.0 703.0 790.8 704.2 791.6 705.5 792.4 706.8 793.2 708.1 794.0 709.4 794.7 710.7 795.5 712.0 796.2 713.3 797.0 714.6 797.7 715.9 798.4 717.2 799.1 718.6 799.8 719.9 800.5 721.2 801.2 722.6 801.8 723.9 802.5 725.3 803.1 726.6 803.8 728.0 804.4 729.4 805.0 730.7 805.7 732.1 806.3 733.5 806.9 734.8 807.5 736.2 808.1 737.6 808.7 739.0 809.2 740.4 809.8 741.7 810.4 743.1 811.0 744.5 811.5 745.9 812.1 747.3 812.6 748.7 813.2 750.1 813.7 751.5 814.3 752.9 814.8 754.3 815.3 755.7 815.8 757.1 816.4 758.5 816.9 759.9 817.4 761.3 817.9 762.7 818.4 764.2 818.9 765.6 819.4 767.0 819.9 768.4 820.4 769.8 820.9 771.2 821.3 772.7 821.8 774.1 822.3 775.5 822.8 776.9 823.2 778.4 823.7 779.8 824.2 781.2 824.6 782.6 825.1 784.1 825.5 785.5 826.0 786.9 826.4 788.4 826.9 789.8 827.3 791.2 827.8 792.7 828.2 794.1 828.6 795.5 829.1 797.0 829.5 798.4 829.9 799.8 830.4 801.3 830.8 802.7 831.2 804.1 831.6 805.6 832.0 807.0 832.5 808.5 832.9 809.9 833.3 811.4 833.7 812.8 834.1 814.2 834.5 815.7 834.9 817.1 835.3 818.6 835.7 820.0 836.1 821.5 836.5 822.9 836.9 824.3 837.3 825.8 837.7 827.2 838.1 828.7 838.5 830.1 838.9 831.6 839.3 833.0 839.7 834.5 840.1 835.9 840.5 837.4 840.8 838.8 841.2 840.3 841.6 841.7 842.0 843.2 842.4 844.6 842.7 846.1 843.1 847.5 843.5 849.0 843.9 850.4 844.2 851.9 844.6 853.3 845.0 854.8 845.3 856.2 845.7 857.7 846.0 859.2 846.4 860.6 846.7 862.1 847.1 863.5 847.4 865.0 847.8 866.5 848.1 867.9 848.4 869.4 848.8 870.8 849.1 872.3 849.4 873.8 849.8 875.2 850.1 876.7 850.4 878.2 850.7 879.6 851.0 881.1 851.3 882.6 851.6 884.0 851.9 885.5 852.2 887.0 852.5 888.4 852.8 889.9 853.1 891.4 853.4 892.9 853.7 894.3 854.0 895.8 854.2 897.3 854.5 898.7 854.8 900.2 855.0 901.7 855.3 903.2 855.5 904.7 855.8 906.1 856.0 907.6 856.3 909.1 856.5 910.6 856.8 912.1 857.0 913.5 857.2 915.0 857.4 916.5 857.7 918.0 857.9 919.5 858.1 921.0 858.3 922.4 858.5 923.9 858.7 925.4 858.9 926.9 859.1 928.4 859.3 929.9 859.5 931.4 859.7 932.8 859.9 934.3 860.0 935.8 860.2 937.3 860.4 938.8 860.6 940.3 860.7 941.8 860.9 943.3 861.1 944.8 861.2 946.2 861.4 947.7 861.5 949.2 861.7 950.7 861.9 952.2 862.0 953.7 862.2 955.2 862.3 956.7 862.4 958.2 862.6 959.7 862.7 961.2 862.9 962.7 863.0 964.1 863.2 965.6 863.3 967.1 863.4 968.6 863.6 970.1 863.7 971.6 863.8 973.1 863.9 974.6 864.1 976.1 864.2 977.6 864.3 979.1 864.4 980.6 864.6 982.1 864.7 983.6 864.8 985.1 864.9 986.6 865.0 988.0 865.2 989.5 865.3 991.0 865.4 992.5 865.5 994.0 865.6 995.5 865.7 997.0 865.9 998.5 866.0 1000.0 866.1 1001.5 866.2 1003.0 866.3 1004.5 866.4 1006.0 866.5 1007.5 866.6 1009.0 866.7 1010.5 866.9 1012.0 867.0 1013.5 867.1 1015.0 867.2 1016.4 867.3 1017.9 867.4 1019.4 867.5 1020.9 867.6 1022.4 867.7 1023.9 867.8 1025.4 867.9 1026.9 868.0 1028.4 868.1 1029.9 868.2 1031.4 868.3 1032.9 868.4 1034.4 868.5 1035.9 868.6 1037.4 868.7 1038.9 868.8 1040.4 868.9 1041.9 869.0 1043.4 869.1 1044.9 869.1 1046.4 869.2 1047.9 869.3 1049.4 869.4 1050.9 869.5 1052.3 869.6 1053.8 869.7 1055.3 869.8 1056.8 869.9 1058.3 869.9 1059.8 870.0 1061.3 870.1 1062.8 870.2 1064.3 870.3 1065.8 870.4 1067.3 870.5 1068.8 870.5 1070.3 870.6 1071.8 870.7 1073.3 870.8 1074.8 870.9 1076.3 870.9 1077.8 871.0 1079.3 871.1 1080.8 871.2 1082.3 871.3 1083.8 871.3 1085.3 871.4 1086.8 871.5 1088.3 871.6 1089.8 871.6 1091.3 871.7 1092.8 871.8 1094.3 871.8 1095.8 871.9 1097.3 872.0 1098.8 872.1 1100.2 872.1 1101.7 872.2 1103.2 872.3 1104.7 872.3 1106.2 872.4 1107.7 872.5 1109.2 872.5 1110.7 872.6 1112.2 872.7 1113.7 872.7 1115.2 872.8 1116.7 872.9 1118.2 872.9 1119.7 873.0 1121.2 873.1 1122.7 873.1 1124.2 873.2 1125.7 873.2 1127.2 873.3 1128.7 873.4 1130.2 873.4 1131.7 873.5 1133.2 873.5 1134.7 873.6 1136.2 873.7 1137.7 873.7 1139.2 873.8 1140.7 873.8 1142.2 873.9 1143.7 873.9 1145.2 874.0 1146.7 874.1 1148.2 874.1 1149.7 874.2 1151.2 874.2 1152.7 874.3 1154.2 874.3 1155.7 874.4 1157.2 874.4 1158.7 874.5 1160.2 874.5 1161.7 874.6 1163.2 874.6 1164.7 874.7 1166.2 874.7 1167.7 874.8 1169.1 874.8 1170.6 874.9 1172.1 874.9 1173.6 875.0 1175.1 875.0 1176.6 875.0 1178.1 875.1 1179.6 875.1 1181.1 875.2 1182.6 875.2 1184.1 875.3 1185.6 875.3 1187.1 875.4 1188.6 875.4 1190.1 875.4 1191.6 875.5 1193.1 875.5 1194.6 875.6 1196.1 875.6 1197.6 875.6 1199.1 875.7 1200.6 875.7 1202.1 875.8 1203.6 875.8 1205.1 875.8 1206.6 875.9 1208.1 875.9 1209.6 875.9 1211.1 876.0 1212.6 876.0 1214.1 876.1 1215.6 876.1 1217.1 876.1 1218.6 876.2 1220.1 876.2 1221.6 876.2 1223.1 876.3 1224.6 876.3 1226.1 876.3 1227.6 876.4 1229.1 876.4 1230.6 876.4 1232.1 876.5 1233.6 876.5 1235.1 876.5 1236.6 876.6 1238.1 876.6 1239.6 876.6 1241.1 876.6 1242.6 876.7 1244.1 876.7 1245.6 876.7 1247.1 876.8 1248.6 876.8 1250.1 876.8 1251.6 876.8 1253.1 876.9 1254.6 876.9 1256.1 876.9 1257.6 877.0 1259.1 877.0 1260.6 877.0 1262.1 877.0 1263.6 877.1 1265.1 877.1 1266.6 877.1 1268.1 877.1 1269.6 877.2 1271.1 877.2 1272.6 877.2 1274.0 877.2 1275.5 877.3 1277.0 877.3 1278.5 877.3 1280.0 877.3 1281.5 877.4 1283.0 877.4 1284.5 877.4 1286.0 877.4 1287.5 877.4 1289.0 877.5 1290.5 877.5 1292.0 877.5 1293.5 877.5 1295.0 877.5 1296.5 877.6 1298.0 877.6 1299.5 877.6 1301.0 877.6 1302.5 877.6 1304.0 877.7 1305.5 877.7 1307.0 877.7 1308.5 877.7 1310.0 877.7 1311.5 877.8 1313.0 877.8 1314.5 877.8 1316.0 877.8" stroke="#0c0cb4"/>
<path d="M177.8 779.0L179.2 778.5 180.6 778.0 182.0 777.4 183.4 776.9 184.8 776.4 186.2 775.8 187.6 775.3 189.0 774.7 190.4 774.1 191.8 773.6 193.1 773.0 194.5 772.4 195.9 771.7 197.2 771.1 198.6 770.4 199.9 769.8 201.3 769.1 202.6 768.4 203.9 767.7 205.2 766.9 206.5 766.2 207.8 765.4 209.1 764.6 210.3 763.8 211.6 763.0 212.8 762.1 214.0 761.2 215.2 760.3 216.4 759.4 217.5 758.4 218.6 757.4 219.7 756.4 220.8 755.4 221.9 754.3 222.9 753.2 223.9 752.1 224.9 750.9 225.8 749.8 226.7 748.6 227.6 747.4 228.5 746.1 229.3 744.9 230.1 743.6 230.9 742.4 231.7 741.1 232.5 739.8 233.2 738.5 233.9 737.2 234.6 735.8 235.3 734.5 236.0 733.2 236.6 731.8 237.3 730.5 237.9 729.1 238.5 727.7 239.2 726.4 239.8 725.0 240.3 723.6 240.9 722.2 241.5 720.9 242.1 719.5 242.7 718.1 243.2 716.7 243.8 715.3 244.3 713.9 244.9 712.5 245.5 711.1 246.0 709.7 246.6 708.4 247.1 707.0 247.7 705.6 248.2 704.2 248.8 702.8 249.4 701.4 249.9 700.0 250.5 698.6 251.0 697.2 251.6 695.8 252.2 694.4 252.8 693.1 253.3 691.7 253.9 690.3 254.5 688.9 255.1 687.5 255.7 686.1 256.3 684.8 256.9 683.4 257.5 682.0 258.1 680.7 258.7 679.3 259.3 677.9 260.0 676.6 260.6 675.2 261.3 673.9 261.9 672.5 262.6 671.2 263.2 669.8 263.9 668.5 264.6 667.2 265.3 665.8 266.1 664.5 266.8 663.2 267.5 661.9 268.3 660.6 269.1 659.3 269.9 658.1 270.7 656.8 271.5 655.6 272.4 654.4 273.3 653.1 274.2 652.0 275.1 650.8 276.1 649.6 277.1 648.5 278.1 647.4 279.1 646.3 280.2 645.2 281.2 644.2 282.4 643.2 283.5 642.2 284.7 641.3 285.9 640.4 287.1 639.5 288.3 638.7 289.6 637.9 290.9 637.1 292.2 636.4 293.6 635.7 294.9 635.1 296.3 634.6 297.8 634.1 299.2 633.7 300.7 633.4 302.1 633.2 303.6 633.0 305.1 633.0 306.6 633.1 308.1 633.3 309.6 633.6 311.0 634.0 312.5 634.5 313.9 635.0 315.2 635.7 316.6 636.3 317.9 637.0 319.2 637.8 320.5 638.6 321.7 639.4 323.0 640.2 324.2 641.1 325.4 641.9 326.6 642.8 327.9 643.7 329.1 644.6 330.3 645.5 331.5 646.4 332.7 647.3 333.8 648.2 335.0 649.1 336.2 650.0 337.4 651.0 338.6 651.9 339.8 652.8 341.0 653.7 342.1 654.6 343.3 655.6 344.5 656.5 345.7 657.4 346.9 658.3 348.1 659.2 349.3 660.1 350.5 660.9 351.8 661.8 353.0 662.6 354.3 663.5 355.5 664.3 356.8 665.1 358.1 665.9 359.4 666.6 360.7 667.3 362.0 668.0 363.4 668.7 364.7 669.3 366.1 669.9 367.5 670.5 368.9 670.9 370.3 671.4 371.8 671.8 373.3 672.1 374.7 672.3 376.2 672.5 377.7 672.6 379.2 672.5 380.7 672.4 382.2 672.2 383.7 672.0 385.1 671.6 386.6 671.2 388.0 670.8 389.4 670.3 390.8 669.8 392.2 669.2 393.6 668.6 395.0 668.0 396.3 667.4 397.7 666.7 399.0 666.1 400.4 665.4 401.7 664.7 403.1 664.1 404.4 663.4 405.8 662.8 407.2 662.2 408.5 661.6 409.9 661.0 411.3 660.4 412.7 659.9 414.1 659.4 415.6 659.0 417.0 658.6 418.5 658.3 419.9 658.0 421.4 657.8 422.9 657.7 424.4 657.6 425.9 657.6 427.4 657.7 428.9 657.8 430.4 658.0 431.9 658.3 433.3 658.6 434.8 658.9 436.3 659.3 437.7 659.8 439.1 660.2 440.5 660.7 441.9 661.2 443.3 661.8 444.7 662.4 446.1 663.0 447.5 663.6 448.8 664.2 450.1 664.9 451.5 665.6 452.8 666.3 454.1 667.1 455.4 667.8 456.7 668.6 457.9 669.4 459.2 670.3 460.4 671.1 461.6 672.0 462.8 672.9 464.0 673.8 465.2 674.7 466.4 675.6 467.6 676.5 468.7 677.5 469.9 678.5 471.0 679.5 472.1 680.5 473.2 681.5 474.3 682.5 475.4 683.5 476.5 684.5 477.6 685.6 478.7 686.6 479.7 687.7 480.8 688.8 481.8 689.8 482.9 690.9 483.9 692.0 484.9 693.1 486.0 694.2 487.0 695.3 488.0 696.4 489.0 697.5 490.0 698.6 491.0 699.7 492.0 700.8 493.0 702.0 494.0 703.1 495.0 704.2 496.0 705.3 497.0 706.4 498.0 707.6 499.0 708.7 500.0 709.8 501.0 710.9 502.0 712.0 503.0 713.1 504.0 714.3 505.0 715.4 506.0 716.5 507.0 717.6 508.1 718.7 509.1 719.8 510.1 720.9 511.2 721.9 512.2 723.0 513.3 724.1 514.3 725.1 515.4 726.2 516.4 727.3 517.5 728.3 518.6 729.3 519.7 730.4 520.8 731.4 521.9 732.4 523.0 733.4 524.2 734.4 525.3 735.3 526.5 736.3 527.6 737.3 528.8 738.2 530.0 739.1 531.1 740.1 532.3 741.0 533.5 741.9 534.7 742.7 536.0 743.6 537.2 744.5 538.4 745.3 539.7 746.1 541.0 746.9 542.2 747.7 543.5 748.5 544.8 749.3 546.1 750.0 547.4 750.7 548.7 751.4 550.1 752.1 551.4 752.8 552.8 753.5 554.1 754.1 555.5 754.7 556.9 755.3 558.2 755.9 559.6 756.5 561.0 757.0 562.4 757.5 563.8 758.1 565.3 758.6 566.7 759.1 568.1 759.6 569.5 760.0 570.9 760.5 572.4 761.0 573.8 761.5 575.2 761.9 576.6 762.4 578.1 762.8 579.5 763.3 580.9 763.7 582.3 764.2 583.8 764.7 585.2 765.1 586.6 765.6 588.0 766.1 589.5 766.5 590.9 767.0 592.3 767.5 593.7 768.0 595.2 768.5 596.6 768.9 598.0 769.4 599.4 769.9 600.8 770.5 602.2 771.0 603.6 771.5 605.0 772.0 606.4 772.6 607.8 773.1 609.2 773.6 610.6 774.2 612.0 774.8 613.4 775.3 614.8 775.9 616.2 776.5 617.5 777.1 618.9 777.7 620.3 778.3 621.6 778.9 623.0 779.6 624.3 780.2 625.7 780.9 627.0 781.5 628.4 782.2 629.7 782.9 631.0 783.6 632.4 784.3 633.7 785.0 635.0 785.8 636.3 786.5 637.6 787.2 638.9 788.0 640.2 788.7 641.5 789.5 642.8 790.2 644.1 791.0 645.4 791.7 646.7 792.5 648.0 793.2 649.3 794.0 650.6 794.8 651.9 795.5 653.2 796.3 654.5 797.0 655.8 797.7 657.1 798.5 658.4 799.2 659.7 799.9 661.0 800.6 662.4 801.3 663.7 802.0 665.0 802.7 666.3 803.4 667.7 804.1 669.0 804.8 670.4 805.4 671.7 806.1 673.1 806.8 674.4 807.4 675.8 808.1 677.1 808.7 678.5 809.3 679.8 809.9 681.2 810.6 682.6 811.2 684.0 811.8 685.3 812.4 686.7 813.0 688.1 813.5 689.5 814.1 690.9 814.7 692.2 815.3 693.6 815.8 695.0 816.4 696.4 816.9 697.8 817.5 699.2 818.0 700.6 818.6 702.0 819.1 703.4 819.6 704.8 820.1 706.2 820.7 707.6 821.2 709.1 821.7 710.5 822.2 711.9 822.7 713.3 823.2 714.7 823.7 716.1 824.1 717.6 824.6 719.0 825.1 720.4 825.6 721.8 826.0 723.3 826.5 724.7 827.0 726.1 827.4 727.5 827.9 729.0 828.3 730.4 828.7 731.8 829.2 733.3 829.6 734.7 830.1 736.2 830.5 737.6 830.9 739.0 831.3 740.5 831.7 741.9 832.2 743.4 832.6 744.8 833.0 746.2 833.4 747.7 833.8 749.1 834.2 750.6 834.6 752.0 835.0 753.5 835.3 754.9 835.7 756.4 836.1 757.8 836.5 759.3 836.9 760.7 837.2 762.2 837.6 763.6 838.0 765.1 838.3 766.6 838.7 768.0 839.0 769.5 839.4 770.9 839.7 772.4 840.1 773.9 840.4 775.3 840.8 776.8 841.1 778.2 841.4 779.7 841.7 781.2 842.1 782.6 842.4 784.1 842.7 785.6 843.0 787.0 843.4 788.5 843.7 790.0 844.0 791.4 844.3 792.9 844.6 794.4 844.9 795.8 845.2 797.3 845.5 798.8 845.8 800.3 846.1 801.7 846.3 803.2 846.6 804.7 846.9 806.1 847.2 807.6 847.5 809.1 847.7 810.6 848.0 812.0 848.3 813.5 848.5 815.0 848.8 816.5 849.1 818.0 849.3 819.4 849.6 820.9 849.8 822.4 850.1 823.9 850.3 825.3 850.6 826.8 850.8 828.3 851.0 829.8 851.3 831.3 851.5 832.7 851.7 834.2 852.0 835.7 852.2 837.2 852.4 838.7 852.6 840.2 852.9 841.6 853.1 843.1 853.3 844.6 853.5 846.1 853.7 847.6 853.9 849.1 854.1 850.6 854.3 852.0 854.5 853.5 854.7 855.0 854.9 856.5 855.1 858.0 855.3 859.5 855.5 861.0 855.7 862.5 855.9 863.9 856.1 865.4 856.3 866.9 856.5 868.4 856.6 869.9 856.8 871.4 857.0 872.9 857.2 874.4 857.3 875.9 857.5 877.3 857.7 878.8 857.9 880.3 858.0 881.8 858.2 883.3 858.3 884.8 858.5 886.3 858.7 887.8 858.8 889.3 859.0 890.8 859.1 892.3 859.3 893.7 859.4 895.2 859.6 896.7 859.7 898.2 859.9 899.7 860.0 901.2 860.2 902.7 860.3 904.2 860.4 905.7 860.6 907.2 860.7 908.7 860.8 910.2 861.0 911.7 861.1 913.2 861.2 914.6 861.4 916.1 861.5 917.6 861.6 919.1 861.8 920.6 861.9 922.1 862.0 923.6 862.1 925.1 862.2 926.6 862.4 928.1 862.5 929.6 862.6 931.1 862.7 932.6 862.8 934.1 862.9 935.6 863.1 937.1 863.2 938.6 863.3 940.1 863.4 941.6 863.5 943.1 863.6 944.6 863.7 946.0 863.8 947.5 863.9 949.0 864.0 950.5 864.1 952.0 864.2 953.5 864.3 955.0 864.4 956.5 864.5 958.0 864.6 959.5 864.7 961.0 864.8 962.5 864.9 964.0 865.0 965.5 865.1 967.0 865.2 968.5 865.3 970.0 865.4 971.5 865.5 973.0 865.6 974.5 865.7 976.0 865.8 977.5 865.8 979.0 865.9 980.5 866.0 982.0 866.1 983.5 866.2 985.0 866.3 986.5 866.4 988.0 866.5 989.5 866.5 990.9 866.6 992.4 866.7 993.9 866.8 995.4 866.9 996.9 867.0 998.4 867.0 999.9 867.1 1001.4 867.2 1002.9 867.3 1004.4 867.4 1005.9 867.5 1007.4 867.5 1008.9 867.6 1010.4 867.7 1011.9 867.8 1013.4 867.9 1014.9 867.9 1016.4 868.0 1017.9 868.1 1019.4 868.2 1020.9 868.3 1022.4 868.3 1023.9 868.4 1025.4 868.5 1026.9 868.6 1028.4 868.7 1029.9 868.7 1031.4 868.8 1032.9 868.9 1034.4 869.0 1035.9 869.1 1037.4 869.1 1038.9 869.2 1040.4 869.3 1041.9 869.4 1043.4 869.5 1044.9 869.5 1046.4 869.6 1047.9 869.7 1049.4 869.8 1050.8 869.9 1052.3 869.9 1053.8 870.0 1055.3 870.1 1056.8 870.2 1058.3 870.2 1059.8 870.3 1061.3 870.4 1062.8 870.5 1064.3 870.6 1065.8 870.6 1067.3 870.7 1068.8 870.8 1070.3 870.9 1071.8 870.9 1073.3 871.0 1074.8 871.1 1076.3 871.2 1077.8 871.2 1079.3 871.3 1080.8 871.4 1082.3 871.5 1083.8 871.5 1085.3 871.6 1086.8 871.7 1088.3 871.8 1089.8 871.8 1091.3 871.9 1092.8 872.0 1094.3 872.1 1095.8 872.1 1097.3 872.2 1098.8 872.3 1100.3 872.3 1101.8 872.4 1103.3 872.5 1104.8 872.6 1106.3 872.6 1107.8 872.7 1109.3 872.8 1110.8 872.8 1112.3 872.9 1113.8 873.0 1115.3 873.1 1116.8 873.1 1118.3 873.2 1119.7 873.3 1121.2 873.3 1122.7 873.4 1124.2 873.5 1125.7 873.5 1127.2 873.6 1128.7 873.7 1130.2 873.7 1131.7 873.8 1133.2 873.9 1134.7 873.9 1136.2 874.0 1137.7 874.1 1139.2 874.1 1140.7 874.2 1142.2 874.3 1143.7 874.3 1145.2 874.4 1146.7 874.5 1148.2 874.5 1149.7 874.6 1151.2 874.6 1152.7 874.7 1154.2 874.8 1155.7 874.8 1157.2 874.9 1158.7 874.9 1160.2 875.0 1161.7 875.1 1163.2 875.1 1164.7 875.2 1166.2 875.2 1167.7 875.3 1169.2 875.4 1170.7 875.4 1172.2 875.5 1173.7 875.5 1175.2 875.6 1176.7 875.6 1178.2 875.7 1179.7 875.8 1181.2 875.8 1182.7 875.9 1184.2 875.9 1185.7 876.0 1187.2 876.0 1188.7 876.1 1190.2 876.1 1191.7 876.2 1193.2 876.2 1194.7 876.3 1196.2 876.3 1197.7 876.4 1199.2 876.4 1200.7 876.5 1202.2 876.5 1203.7 876.6 1205.2 876.6 1206.7 876.7 1208.2 876.7 1209.7 876.8 1211.2 876.8 1212.7 876.9 1214.2 876.9 1215.7 877.0 1217.2 877.0 1218.7 877.1 1220.2 877.1 1221.7 877.1 1223.2 877.2 1224.6 877.2 1226.1 877.3 1227.6 877.3 1229.1 877.4 1230.6 877.4 1232.1 877.4 1233.6 877.5 1235.1 877.5 1236.6 877.6 1238.1 877.6 1239.6 877.6 1241.1 877.7 1242.6 877.7 1244.1 877.7 1245.6 877.8 1247.1 877.8 1248.6 877.8 1250.1 877.9 1251.6 877.9 1253.1 877.9 1254.6 878.0 1256.1 878.0 1257.6 878.0 1259.1 878.1 1260.6 878.1 1262.1 878.1 1263.6 878.2 1265.1 878.2 1266.6 878.2 1268.1 878.2 1269.6 878.3 1271.1 878.3 1272.6 878.3 1274.1 878.4 1275.6 878.4 1277.1 878.4 1278.6 878.4 1280.1 878.5 1281.6 878.5 1283.1 878.5 1284.6 878.5 1286.1 878.5 1287.6 878.6 1289.1 878.6 1290.6 878.6 1292.1 878.6 1293.6 878.6 1295.1 878.6 1296.6 878.7 1298.1 878.7 1299.6 878.7 1301.1 878.7 1302.6 878.7 1304.1 878.7 1305.6 878.8 1307.1 878.8 1308.6 878.8 1310.1 878.8 1311.6 878.8 1313.1 878.8 1314.6 878.8 1316.1 878.8" stroke="#dc28dc"/>
<path d="M177.4 817.2L178.9 817.2 180.4 817.2 181.9 817.1 183.4 817.0 184.9 816.9 186.4 816.7 187.9 816.5 189.4 816.3 190.9 816.0 192.3 815.7 193.8 815.4 195.3 815.1 196.7 814.7 198.1 814.3 199.6 813.8 201.0 813.3 202.4 812.8 203.8 812.3 205.2 811.7 206.6 811.1 207.9 810.5 209.3 809.8 210.6 809.2 211.9 808.4 213.2 807.7 214.5 806.9 215.8 806.1 217.0 805.3 218.3 804.5 219.5 803.6 220.7 802.7 221.9 801.8 223.1 800.9 224.3 800.0 225.4 799.0 226.5 798.0 227.6 797.0 228.7 796.0 229.8 794.9 230.9 793.9 231.9 792.8 233.0 791.7 234.0 790.6 235.0 789.5 236.0 788.4 236.9 787.2 237.9 786.1 238.8 784.9 239.7 783.7 240.6 782.5 241.5 781.3 242.4 780.1 243.3 778.9 244.1 777.6 245.0 776.4 245.8 775.1 246.6 773.9 247.4 772.6 248.2 771.3 249.0 770.1 249.8 768.8 250.5 767.5 251.3 766.2 252.1 764.9 252.9 763.7 253.6 762.4 254.4 761.1 255.2 759.8 256.0 758.5 256.8 757.3 257.6 756.0 258.4 754.8 259.3 753.5 260.1 752.3 261.0 751.0 261.9 749.8 262.8 748.6 263.7 747.4 264.6 746.3 265.5 745.1 266.5 743.9 267.5 742.8 268.5 741.7 269.5 740.6 270.5 739.5 271.6 738.5 272.7 737.4 273.8 736.4 274.9 735.4 276.1 734.5 277.2 733.5 278.4 732.6 279.7 731.8 280.9 730.9 282.2 730.1 283.5 729.4 284.8 728.7 286.2 728.1 287.6 727.5 289.0 727.0 290.4 726.5 291.8 726.1 293.3 725.8 294.8 725.5 296.2 725.3 297.7 725.1 299.2 725.0 300.7 725.0 302.2 725.0 303.7 725.0 305.2 725.1 306.7 725.3 308.2 725.4 309.7 725.6 311.2 725.9 312.6 726.2 314.1 726.5 315.6 726.8 317.0 727.2 318.5 727.5 319.9 727.9 321.4 728.4 322.8 728.8 324.2 729.2 325.7 729.7 327.1 730.2 328.5 730.7 329.9 731.2 331.3 731.7 332.7 732.2 334.1 732.7 335.5 733.3 336.9 733.8 338.3 734.3 339.7 734.9 341.1 735.4 342.5 736.0 343.9 736.5 345.3 737.0 346.7 737.6 348.1 738.1 349.5 738.6 350.9 739.1 352.4 739.6 353.8 740.1 355.2 740.6 356.6 741.1 358.1 741.5 359.5 741.9 360.9 742.3 362.4 742.7 363.8 743.1 365.3 743.4 366.8 743.7 368.3 744.0 369.7 744.2 371.2 744.4 372.7 744.5 374.2 744.6 375.7 744.7 377.2 744.7 378.7 744.7 380.2 744.6 381.7 744.5 383.2 744.3 384.7 744.1 386.1 743.9 387.6 743.6 389.1 743.3 390.6 743.0 392.0 742.6 393.5 742.2 394.9 741.8 396.3 741.4 397.8 741.0 399.2 740.6 400.7 740.1 402.1 739.7 403.5 739.2 404.9 738.8 406.4 738.3 407.8 737.9 409.2 737.4 410.7 737.0 412.1 736.6 413.6 736.2 415.0 735.8 416.4 735.4 417.9 735.0 419.4 734.7 420.8 734.3 422.3 734.1 423.8 733.8 425.3 733.6 426.7 733.4 428.2 733.2 429.7 733.1 431.2 733.1 432.7 733.1 434.2 733.1 435.7 733.2 437.2 733.4 438.7 733.6 440.2 733.9 441.6 734.2 443.1 734.6 444.5 735.0 446.0 735.4 447.4 735.9 448.8 736.4 450.2 737.0 451.6 737.6 452.9 738.2 454.3 738.8 455.7 739.4 457.0 740.1 458.3 740.8 459.6 741.5 461.0 742.2 462.3 743.0 463.6 743.7 464.9 744.5 466.1 745.2 467.4 746.0 468.7 746.8 470.0 747.6 471.2 748.4 472.5 749.2 473.8 750.0 475.0 750.8 476.3 751.6 477.5 752.4 478.8 753.3 480.1 754.1 481.3 754.9 482.6 755.7 483.9 756.5 485.1 757.3 486.4 758.1 487.7 758.9 488.9 759.7 490.2 760.5 491.4 761.3 492.7 762.1 494.0 762.9 495.2 763.8 496.5 764.6 497.8 765.4 499.0 766.2 500.3 767.0 501.5 767.8 502.8 768.6 504.1 769.4 505.3 770.2 506.6 771.0 507.9 771.8 509.1 772.6 510.4 773.4 511.7 774.2 513.0 775.0 514.3 775.7 515.6 776.5 516.8 777.3 518.1 778.0 519.4 778.8 520.8 779.5 522.1 780.2 523.4 780.9 524.7 781.6 526.1 782.3 527.4 783.0 528.7 783.6 530.1 784.3 531.5 784.9 532.8 785.5 534.2 786.1 535.6 786.7 537.0 787.2 538.4 787.8 539.8 788.3 541.2 788.8 542.6 789.3 544.0 789.8 545.4 790.3 546.9 790.8 548.3 791.2 549.7 791.7 551.1 792.1 552.6 792.6 554.0 793.0 555.5 793.4 556.9 793.8 558.3 794.2 559.8 794.6 561.2 795.0 562.7 795.4 564.1 795.8 565.6 796.1 567.0 796.5 568.5 796.9 569.9 797.3 571.4 797.6 572.9 798.0 574.3 798.4 575.8 798.7 577.2 799.1 578.7 799.5 580.1 799.8 581.6 800.2 583.0 800.6 584.5 800.9 585.9 801.3 587.4 801.7 588.8 802.1 590.3 802.5 591.7 802.9 593.2 803.3 594.6 803.7 596.1 804.1 597.5 804.5 598.9 804.9 600.4 805.3 601.8 805.7 603.3 806.1 604.7 806.5 606.1 807.0 607.6 807.4 609.0 807.8 610.5 808.2 611.9 808.6 613.3 809.1 614.8 809.5 616.2 809.9 617.6 810.4 619.1 810.8 620.5 811.2 621.9 811.7 623.4 812.1 624.8 812.6 626.2 813.0 627.7 813.4 629.1 813.9 630.5 814.3 632.0 814.8 633.4 815.2 634.8 815.7 636.3 816.1 637.7 816.6 639.1 817.0 640.6 817.5 642.0 817.9 643.4 818.4 644.9 818.8 646.3 819.2 647.7 819.7 649.1 820.1 650.6 820.6 652.0 821.0 653.4 821.5 654.9 821.9 656.3 822.4 657.7 822.8 659.2 823.3 660.6 823.7 662.0 824.2 663.5 824.6 664.9 825.1 666.3 825.5 667.8 825.9 669.2 826.4 670.6 826.8 672.1 827.3 673.5 827.7 674.9 828.1 676.4 828.6 677.8 829.0 679.2 829.4 680.7 829.8 682.1 830.3 683.5 830.7 685.0 831.1 686.4 831.5 687.9 832.0 689.3 832.4 690.7 832.8 692.2 833.2 693.6 833.6 695.1 834.0 696.5 834.4 698.0 834.8 699.4 835.2 700.9 835.6 702.3 836.0 703.7 836.4 705.2 836.8 706.6 837.2 708.1 837.6 709.5 837.9 711.0 838.3 712.4 838.7 713.9 839.0 715.4 839.4 716.8 839.8 718.3 840.1 719.7 840.5 721.2 840.8 722.6 841.2 724.1 841.5 725.6 841.9 727.0 842.2 728.5 842.5 729.9 842.9 731.4 843.2 732.9 843.5 734.3 843.8 735.8 844.1 737.3 844.4 738.7 844.7 740.2 845.0 741.7 845.3 743.2 845.6 744.6 845.9 746.1 846.2 747.6 846.4 749.1 846.7 750.5 847.0 752.0 847.2 753.5 847.5 755.0 847.8 756.4 848.0 757.9 848.3 759.4 848.5 760.9 848.7 762.4 849.0 763.8 849.2 765.3 849.4 766.8 849.7 768.3 849.9 769.8 850.1 771.2 850.3 772.7 850.5 774.2 850.7 775.7 851.0 777.2 851.2 778.7 851.4 780.2 851.6 781.6 851.7 783.1 851.9 784.6 852.1 786.1 852.3 787.6 852.5 789.1 852.7 790.6 852.9 792.1 853.0 793.6 853.2 795.0 853.4 796.5 853.5 798.0 853.7 799.5 853.9 801.0 854.0 802.5 854.2 804.0 854.3 805.5 854.5 807.0 854.7 808.5 854.8 809.9 855.0 811.4 855.1 812.9 855.2 814.4 855.4 815.9 855.5 817.4 855.7 818.9 855.8 820.4 855.9 821.9 856.1 823.4 856.2 824.9 856.3 826.4 856.5 827.9 856.6 829.4 856.7 830.9 856.9 832.3 857.0 833.8 857.1 835.3 857.2 836.8 857.3 838.3 857.5 839.8 857.6 841.3 857.7 842.8 857.8 844.3 857.9 845.8 858.1 847.3 858.2 848.8 858.3 850.3 858.4 851.8 858.5 853.3 858.6 854.8 858.7 856.3 858.9 857.8 859.0 859.3 859.1 860.7 859.2 862.2 859.3 863.7 859.4 865.2 859.5 866.7 859.6 868.2 859.7 869.7 859.8 871.2 860.0 872.7 860.1 874.2 860.2 875.7 860.3 877.2 860.4 878.7 860.5 880.2 860.6 881.7 860.7 883.2 860.8 884.7 861.0 886.2 861.1 887.7 861.2 889.2 861.3 890.7 861.4 892.1 861.5 893.6 861.6 895.1 861.7 896.6 861.8 898.1 861.9 899.6 862.1 901.1 862.2 902.6 862.3 904.1 862.4 905.6 862.5 907.1 862.6 908.6 862.7 910.1 862.8 911.6 862.9 913.1 863.0 914.6 863.2 916.1 863.3 917.6 863.4 919.1 863.5 920.6 863.6 922.1 863.7 923.5 863.8 925.0 863.9 926.5 864.0 928.0 864.1 929.5 864.2 931.0 864.3 932.5 864.5 934.0 864.6 935.5 864.7 937.0 864.8 938.5 864.9 940.0 865.0 941.5 865.1 943.0 865.2 944.5 865.3 946.0 865.4 947.5 865.5 949.0 865.6 950.5 865.7 952.0 865.8 953.5 865.9 955.0 866.0 956.4 866.1 957.9 866.2 959.4 866.3 960.9 866.4 962.4 866.5 963.9 866.6 965.4 866.7 966.9 866.8 968.4 866.9 969.9 867.0 971.4 867.1 972.9 867.2 974.4 867.3 975.9 867.4 977.4 867.5 978.9 867.6 980.4 867.7 981.9 867.8 983.4 867.9 984.9 868.0 986.4 868.1 987.9 868.2 989.4 868.3 990.9 868.4 992.4 868.5 993.8 868.6 995.3 868.7 996.8 868.8 998.3 868.9 999.8 869.0 1001.3 869.0 1002.8 869.1 1004.3 869.2 1005.8 869.3 1007.3 869.4 1008.8 869.5 1010.3 869.6 1011.8 869.7 1013.3 869.7 1014.8 869.8 1016.3 869.9 1017.8 870.0 1019.3 870.1 1020.8 870.2 1022.3 870.3 1023.8 870.3 1025.3 870.4 1026.8 870.5 1028.3 870.6 1029.8 870.7 1031.3 870.7 1032.8 870.8 1034.3 870.9 1035.8 871.0 1037.3 871.0 1038.8 871.1 1040.3 871.2 1041.7 871.3 1043.2 871.4 1044.7 871.4 1046.2 871.5 1047.7 871.6 1049.2 871.6 1050.7 871.7 1052.2 871.8 1053.7 871.9 1055.2 871.9 1056.7 872.0 1058.2 872.1 1059.7 872.1 1061.2 872.2 1062.7 872.3 1064.2 872.4 1065.7 872.4 1067.2 872.5 1068.7 872.6 1070.2 872.6 1071.7 872.7 1073.2 872.8 1074.7 872.8 1076.2 872.9 1077.7 872.9 1079.2 873.0 1080.7 873.1 1082.2 873.1 1083.7 873.2 1085.2 873.3 1086.7 873.3 1088.2 873.4 1089.7 873.4 1091.2 873.5 1092.7 873.6 1094.2 873.6 1095.7 873.7 1097.2 873.7 1098.7 873.8 1100.2 873.9 1101.7 873.9 1103.2 874.0 1104.7 874.0 1106.2 874.1 1107.7 874.2 1109.2 874.2 1110.7 874.3 1112.1 874.3 1113.6 874.4 1115.1 874.4 1116.6 874.5 1118.1 874.5 1119.6 874.6 1121.1 874.6 1122.6 874.7 1124.1 874.8 1125.6 874.8 1127.1 874.9 1128.6 874.9 1130.1 875.0 1131.6 875.0 1133.1 875.1 1134.6 875.1 1136.1 875.2 1137.6 875.2 1139.1 875.3 1140.6 875.3 1142.1 875.4 1143.6 875.4 1145.1 875.5 1146.6 875.5 1148.1 875.6 1149.6 875.6 1151.1 875.7 1152.6 875.7 1154.1 875.7 1155.6 875.8 1157.1 875.8 1158.6 875.9 1160.1 875.9 1161.6 876.0 1163.1 876.0 1164.6 876.1 1166.1 876.1 1167.6 876.2 1169.1 876.2 1170.6 876.3 1172.1 876.3 1173.6 876.3 1175.1 876.4 1176.6 876.4 1178.1 876.5 1179.6 876.5 1181.1 876.6 1182.6 876.6 1184.1 876.7 1185.6 876.7 1187.1 876.7 1188.6 876.8 1190.1 876.8 1191.6 876.9 1193.1 876.9 1194.6 877.0 1196.1 877.0 1197.6 877.0 1199.1 877.1 1200.6 877.1 1202.1 877.2 1203.6 877.2 1205.1 877.2 1206.6 877.3 1208.1 877.3 1209.6 877.4 1211.1 877.4 1212.5 877.4 1214.0 877.5 1215.5 877.5 1217.0 877.6 1218.5 877.6 1220.0 877.7 1221.5 877.7 1223.0 877.7 1224.5 877.8 1226.0 877.8 1227.5 877.9 1229.0 877.9 1230.5 877.9 1232.0 878.0 1233.5 878.0 1235.0 878.1 1236.5 878.1 1238.0 878.1 1239.5 878.2 1241.0 878.2 1242.5 878.2 1244.0 878.3 1245.5 878.3 1247.0 878.4 1248.5 878.4 1250.0 878.4 1251.5 878.5 1253.0 878.5 1254.5 878.6 1256.0 878.6 1257.5 878.6 1259.0 878.7 1260.5 878.7 1262.0 878.8 1263.5 878.8 1265.0 878.8 1266.5 878.9 1268.0 878.9 1269.5 879.0 1271.0 879.0 1272.5 879.0 1274.0 879.1 1275.5 879.1 1277.0 879.2 1278.5 879.2 1280.0 879.2 1281.5 879.3 1283.0 879.3 1284.5 879.4 1286.0 879.4 1287.5 879.4 1289.0 879.5 1290.5 879.5 1292.0 879.6 1293.5 879.6 1295.0 879.7 1296.5 879.7 1298.0 879.7 1299.5 879.8 1301.0 879.8 1302.5 879.9 1304.0 879.9 1305.5 879.9 1307.0 880.0 1308.5 880.0 1310.0 880.1 1311.5 880.1 1313.0 880.2 1314.5 880.2 1316.0 880.2" stroke="#1a7d1a"/>
<path d="M177.8 841.9L179.3 841.7 180.8 841.5 182.3 841.3 183.8 841.1 185.2 841.0 186.7 840.8 188.2 840.6 189.7 840.4 191.2 840.2 192.7 839.9 194.2 839.7 195.6 839.5 197.1 839.3 198.6 839.0 200.1 838.8 201.5 838.5 203.0 838.2 204.5 837.9 206.0 837.6 207.4 837.2 208.9 836.9 210.3 836.5 211.8 836.1 213.2 835.7 214.6 835.3 216.1 834.8 217.5 834.3 218.9 833.8 220.3 833.2 221.7 832.7 223.0 832.0 224.4 831.4 225.7 830.7 227.0 830.0 228.3 829.2 229.6 828.5 230.9 827.6 232.1 826.8 233.3 825.9 234.5 825.0 235.7 824.1 236.9 823.2 238.0 822.2 239.2 821.2 240.3 820.2 241.4 819.2 242.5 818.2 243.6 817.2 244.7 816.2 245.8 815.2 246.9 814.1 248.0 813.1 249.1 812.1 250.2 811.1 251.3 810.0 252.4 809.0 253.5 808.0 254.6 807.0 255.8 806.0 256.9 805.1 258.1 804.1 259.2 803.2 260.4 802.2 261.6 801.3 262.7 800.4 263.9 799.5 265.1 798.6 266.4 797.7 267.6 796.9 268.8 796.0 270.1 795.2 271.4 794.4 272.6 793.6 273.9 792.8 275.2 792.1 276.5 791.4 277.9 790.7 279.2 790.0 280.5 789.3 281.9 788.7 283.3 788.1 284.7 787.5 286.1 787.0 287.5 786.5 288.9 786.0 290.3 785.5 291.8 785.1 293.2 784.7 294.7 784.4 296.1 784.1 297.6 783.8 299.1 783.6 300.6 783.4 302.1 783.3 303.6 783.1 305.1 783.1 306.6 783.1 308.1 783.1 309.6 783.2 311.1 783.3 312.6 783.4 314.0 783.6 315.5 783.8 317.0 784.1 318.5 784.3 319.9 784.6 321.4 784.9 322.9 785.2 324.3 785.6 325.8 785.9 327.3 786.3 328.7 786.6 330.2 787.0 331.6 787.4 333.1 787.7 334.5 788.1 336.0 788.4 337.5 788.8 338.9 789.1 340.4 789.4 341.9 789.7 343.3 789.9 344.8 790.2 346.3 790.4 347.8 790.6 349.3 790.8 350.8 791.0 352.2 791.2 353.7 791.3 355.2 791.5 356.7 791.6 358.2 791.8 359.7 791.9 361.2 792.1 362.7 792.2 364.2 792.3 365.7 792.5 367.2 792.6 368.7 792.7 370.2 792.8 371.7 792.9 373.1 793.0 374.6 793.1 376.1 793.1 377.6 793.2 379.1 793.2 380.6 793.2 382.1 793.2 383.6 793.1 385.1 793.1 386.6 793.0 388.1 792.9 389.6 792.7 391.1 792.6 392.6 792.4 394.1 792.1 395.6 791.9 397.0 791.6 398.5 791.3 400.0 791.0 401.4 790.6 402.9 790.3 404.3 789.9 405.8 789.5 407.2 789.2 408.7 788.8 410.1 788.4 411.6 788.1 413.1 787.7 414.5 787.4 416.0 787.1 417.5 786.8 418.9 786.5 420.4 786.3 421.9 786.1 423.4 785.9 424.9 785.8 426.4 785.7 427.9 785.6 429.4 785.6 430.9 785.6 432.4 785.7 433.9 785.7 435.4 785.9 436.9 786.0 438.3 786.2 439.8 786.4 441.3 786.6 442.8 786.9 444.3 787.2 445.7 787.5 447.2 787.8 448.6 788.2 450.1 788.5 451.5 788.9 453.0 789.3 454.4 789.7 455.9 790.1 457.3 790.6 458.7 791.0 460.2 791.5 461.6 791.9 463.0 792.4 464.4 792.9 465.9 793.4 467.3 793.9 468.7 794.4 470.1 794.9 471.5 795.4 472.9 796.0 474.3 796.5 475.7 797.0 477.1 797.6 478.5 798.1 479.9 798.7 481.3 799.3 482.7 799.8 484.0 800.4 485.4 801.0 486.8 801.5 488.2 802.1 489.6 802.7 491.0 803.3 492.4 803.8 493.7 804.4 495.1 805.0 496.5 805.6 497.9 806.1 499.3 806.7 500.7 807.3 502.0 807.9 503.4 808.4 504.8 809.0 506.2 809.6 507.6 810.1 509.0 810.7 510.4 811.3 511.8 811.8 513.2 812.4 514.6 812.9 516.0 813.4 517.4 814.0 518.8 814.5 520.2 815.0 521.6 815.5 523.0 816.0 524.4 816.5 525.8 817.0 527.3 817.5 528.7 817.9 530.1 818.4 531.5 818.8 533.0 819.3 534.4 819.7 535.9 820.1 537.3 820.5 538.7 820.9 540.2 821.3 541.7 821.6 543.1 822.0 544.6 822.3 546.0 822.6 547.5 822.9 549.0 823.2 550.5 823.5 551.9 823.8 553.4 824.0 554.9 824.2 556.4 824.5 557.8 824.7 559.3 824.9 560.8 825.1 562.3 825.3 563.8 825.5 565.3 825.7 566.8 825.9 568.3 826.0 569.8 826.2 571.2 826.3 572.7 826.5 574.2 826.6 575.7 826.8 577.2 826.9 578.7 827.1 580.2 827.2 581.7 827.3 583.2 827.5 584.7 827.6 586.2 827.8 587.7 827.9 589.2 828.0 590.6 828.2 592.1 828.3 593.6 828.5 595.1 828.6 596.6 828.8 598.1 829.0 599.6 829.1 601.1 829.3 602.6 829.5 604.1 829.7 605.5 829.9 607.0 830.1 608.5 830.3 610.0 830.5 611.5 830.7 613.0 831.0 614.4 831.2 615.9 831.5 617.4 831.8 618.9 832.0 620.3 832.3 621.8 832.6 623.3 832.9 624.7 833.2 626.2 833.5 627.7 833.9 629.1 834.2 630.6 834.5 632.1 834.8 633.5 835.2 635.0 835.5 636.4 835.9 637.9 836.2 639.4 836.6 640.8 836.9 642.3 837.3 643.7 837.6 645.2 838.0 646.6 838.3 648.1 838.7 649.5 839.1 651.0 839.4 652.4 839.8 653.9 840.2 655.4 840.5 656.8 840.9 658.3 841.3 659.7 841.6 661.2 842.0 662.6 842.4 664.1 842.7 665.5 843.1 667.0 843.4 668.5 843.8 669.9 844.1 671.4 844.5 672.8 844.8 674.3 845.1 675.8 845.5 677.2 845.8 678.7 846.1 680.2 846.4 681.6 846.7 683.1 847.0 684.6 847.3 686.0 847.6 687.5 847.9 689.0 848.2 690.5 848.4 691.9 848.7 693.4 849.0 694.9 849.3 696.4 849.5 697.8 849.8 699.3 850.0 700.8 850.3 702.3 850.5 703.7 850.7 705.2 851.0 706.7 851.2 708.2 851.4 709.7 851.7 711.2 851.9 712.6 852.1 714.1 852.3 715.6 852.5 717.1 852.7 718.6 852.9 720.1 853.1 721.6 853.3 723.0 853.5 724.5 853.7 726.0 853.9 727.5 854.1 729.0 854.2 730.5 854.4 732.0 854.6 733.5 854.8 734.9 855.0 736.4 855.1 737.9 855.3 739.4 855.5 740.9 855.6 742.4 855.8 743.9 855.9 745.4 856.1 746.9 856.2 748.4 856.4 749.9 856.5 751.3 856.7 752.8 856.8 754.3 857.0 755.8 857.1 757.3 857.3 758.8 857.4 760.3 857.5 761.8 857.7 763.3 857.8 764.8 857.9 766.3 858.1 767.8 858.2 769.3 858.3 770.8 858.4 772.3 858.6 773.7 858.7 775.2 858.8 776.7 858.9 778.2 859.0 779.7 859.1 781.2 859.3 782.7 859.4 784.2 859.5 785.7 859.6 787.2 859.7 788.7 859.8 790.2 859.9 791.7 860.0 793.2 860.1 794.7 860.2 796.2 860.3 797.7 860.4 799.2 860.5 800.7 860.6 802.2 860.7 803.7 860.8 805.2 860.9 806.6 861.0 808.1 861.1 809.6 861.2 811.1 861.2 812.6 861.3 814.1 861.4 815.6 861.5 817.1 861.6 818.6 861.7 820.1 861.8 821.6 861.9 823.1 861.9 824.6 862.0 826.1 862.1 827.6 862.2 829.1 862.3 830.6 862.3 832.1 862.4 833.6 862.5 835.1 862.6 836.6 862.7 838.1 862.7 839.6 862.8 841.1 862.9 842.6 863.0 844.1 863.0 845.6 863.1 847.1 863.2 848.6 863.3 850.1 863.3 851.6 863.4 853.1 863.5 854.6 863.6 856.1 863.7 857.5 863.7 859.0 863.8 860.5 863.9 862.0 864.0 863.5 864.0 865.0 864.1 866.5 864.2 868.0 864.3 869.5 864.3 871.0 864.4 872.5 864.5 874.0 864.6 875.5 864.6 877.0 864.7 878.5 864.8 880.0 864.9 881.5 865.0 883.0 865.0 884.5 865.1 886.0 865.2 887.5 865.3 889.0 865.4 890.5 865.4 892.0 865.5 893.5 865.6 895.0 865.7 896.5 865.8 898.0 865.8 899.5 865.9 901.0 866.0 902.5 866.1 904.0 866.2 905.5 866.2 907.0 866.3 908.5 866.4 909.9 866.5 911.4 866.6 912.9 866.6 914.4 866.7 915.9 866.8 917.4 866.9 918.9 867.0 920.4 867.0 921.9 867.1 923.4 867.2 924.9 867.3 926.4 867.4 927.9 867.4 929.4 867.5 930.9 867.6 932.4 867.7 933.9 867.8 935.4 867.8 936.9 867.9 938.4 868.0 939.9 868.1 941.4 868.2 942.9 868.3 944.4 868.3 945.9 868.4 947.4 868.5 948.9 868.6 950.4 868.6 951.9 868.7 953.4 868.8 954.9 868.9 956.4 869.0 957.9 869.0 959.4 869.1 960.9 869.2 962.3 869.3 963.8 869.4 965.3 869.4 966.8 869.5 968.3 869.6 969.8 869.7 971.3 869.7 972.8 869.8 974.3 869.9 975.8 870.0 977.3 870.0 978.8 870.1 980.3 870.2 981.8 870.3 983.3 870.3 984.8 870.4 986.3 870.5 987.8 870.6 989.3 870.6 990.8 870.7 992.3 870.8 993.8 870.9 995.3 870.9 996.8 871.0 998.3 871.1 999.8 871.1 1001.3 871.2 1002.8 871.3 1004.3 871.3 1005.8 871.4 1007.3 871.5 1008.8 871.6 1010.3 871.6 1011.8 871.7 1013.3 871.8 1014.8 871.8 1016.3 871.9 1017.8 871.9 1019.3 872.0 1020.8 872.1 1022.2 872.1 1023.7 872.2 1025.2 872.3 1026.7 872.3 1028.2 872.4 1029.7 872.5 1031.2 872.5 1032.7 872.6 1034.2 872.6 1035.7 872.7 1037.2 872.8 1038.7 872.8 1040.2 872.9 1041.7 872.9 1043.2 873.0 1044.7 873.0 1046.2 873.1 1047.7 873.2 1049.2 873.2 1050.7 873.3 1052.2 873.3 1053.7 873.4 1055.2 873.4 1056.7 873.5 1058.2 873.5 1059.7 873.6 1061.2 873.6 1062.7 873.7 1064.2 873.7 1065.7 873.8 1067.2 873.9 1068.7 873.9 1070.2 874.0 1071.7 874.0 1073.2 874.1 1074.7 874.1 1076.2 874.2 1077.7 874.2 1079.2 874.2 1080.7 874.3 1082.2 874.3 1083.7 874.4 1085.2 874.4 1086.7 874.5 1088.2 874.5 1089.7 874.6 1091.2 874.6 1092.7 874.7 1094.2 874.7 1095.7 874.8 1097.2 874.8 1098.7 874.9 1100.2 874.9 1101.7 874.9 1103.2 875.0 1104.7 875.0 1106.2 875.1 1107.7 875.1 1109.2 875.2 1110.7 875.2 1112.1 875.2 1113.6 875.3 1115.1 875.3 1116.6 875.4 1118.1 875.4 1119.6 875.4 1121.1 875.5 1122.6 875.5 1124.1 875.6 1125.6 875.6 1127.1 875.7 1128.6 875.7 1130.1 875.7 1131.6 875.8 1133.1 875.8 1134.6 875.8 1136.1 875.9 1137.6 875.9 1139.1 876.0 1140.6 876.0 1142.1 876.0 1143.6 876.1 1145.1 876.1 1146.6 876.2 1148.1 876.2 1149.6 876.2 1151.1 876.3 1152.6 876.3 1154.1 876.3 1155.6 876.4 1157.1 876.4 1158.6 876.4 1160.1 876.5 1161.6 876.5 1163.1 876.6 1164.6 876.6 1166.1 876.6 1167.6 876.7 1169.1 876.7 1170.6 876.7 1172.1 876.8 1173.6 876.8 1175.1 876.8 1176.6 876.9 1178.1 876.9 1179.6 876.9 1181.1 877.0 1182.6 877.0 1184.1 877.0 1185.6 877.1 1187.1 877.1 1188.6 877.2 1190.1 877.2 1191.6 877.2 1193.1 877.3 1194.6 877.3 1196.1 877.3 1197.6 877.4 1199.1 877.4 1200.6 877.4 1202.1 877.5 1203.6 877.5 1205.1 877.5 1206.6 877.6 1208.1 877.6 1209.6 877.6 1211.1 877.7 1212.6 877.7 1214.1 877.7 1215.6 877.8 1217.1 877.8 1218.6 877.8 1220.1 877.9 1221.6 877.9 1223.1 877.9 1224.6 878.0 1226.1 878.0 1227.6 878.0 1229.1 878.1 1230.6 878.1 1232.1 878.1 1233.6 878.2 1235.1 878.2 1236.6 878.2 1238.0 878.3 1239.5 878.3 1241.0 878.3 1242.5 878.4 1244.0 878.4 1245.5 878.4 1247.0 878.5 1248.5 878.5 1250.0 878.6 1251.5 878.6 1253.0 878.6 1254.5 878.7 1256.0 878.7 1257.5 878.7 1259.0 878.8 1260.5 878.8 1262.0 878.8 1263.5 878.9 1265.0 878.9 1266.5 878.9 1268.0 879.0 1269.5 879.0 1271.0 879.1 1272.5 879.1 1274.0 879.1 1275.5 879.2 1277.0 879.2 1278.5 879.2 1280.0 879.3 1281.5 879.3 1283.0 879.4 1284.5 879.4 1286.0 879.4 1287.5 879.5 1289.0 879.5 1290.5 879.5 1292.0 879.6 1293.5 879.6 1295.0 879.7 1296.5 879.7 1298.0 879.7 1299.5 879.8 1301.0 879.8 1302.5 879.9 1304.0 879.9 1305.5 879.9 1307.0 880.0 1308.5 880.0 1310.0 880.1 1311.5 880.1 1313.0 880.2 1314.5 880.2 1316.0 880.2" stroke="#0a0a6e"/>
<path d="M177.5 852.8L179.0 852.9 180.5 853.1 182.0 853.2 183.5 853.3 185.0 853.3 186.5 853.4 188.0 853.4 189.5 853.3 191.0 853.3 192.5 853.2 194.0 853.1 195.5 853.0 197.0 852.8 198.5 852.6 200.0 852.4 201.4 852.2 202.9 851.9 204.4 851.6 205.8 851.3 207.3 851.0 208.8 850.6 210.2 850.2 211.7 849.8 213.1 849.4 214.5 849.0 216.0 848.5 217.4 848.0 218.8 847.5 220.2 847.0 221.6 846.5 223.0 845.9 224.4 845.4 225.8 844.8 227.1 844.2 228.5 843.6 229.9 843.0 231.3 842.4 232.6 841.7 234.0 841.1 235.3 840.4 236.7 839.8 238.0 839.1 239.3 838.4 240.7 837.8 242.0 837.1 243.3 836.4 244.6 835.7 246.0 835.0 247.3 834.2 248.6 833.5 249.9 832.8 251.2 832.1 252.5 831.4 253.9 830.6 255.2 829.9 256.5 829.2 257.8 828.5 259.1 827.7 260.4 827.0 261.7 826.3 263.0 825.6 264.4 824.9 265.7 824.1 267.0 823.4 268.3 822.7 269.7 822.1 271.0 821.4 272.3 820.7 273.7 820.1 275.1 819.4 276.4 818.8 277.8 818.2 279.2 817.7 280.6 817.1 282.0 816.6 283.4 816.1 284.8 815.6 286.3 815.2 287.7 814.8 289.2 814.5 290.6 814.2 292.1 813.9 293.6 813.6 295.1 813.4 296.6 813.3 298.1 813.2 299.6 813.1 301.1 813.0 302.5 812.9 304.0 812.9 305.5 812.9 307.0 813.0 308.5 813.0 310.0 813.1 311.5 813.2 313.0 813.3 314.5 813.5 316.0 813.6 317.5 813.8 319.0 813.9 320.5 814.1 322.0 814.3 323.4 814.5 324.9 814.8 326.4 815.0 327.9 815.2 329.4 815.5 330.9 815.7 332.3 815.9 333.8 816.2 335.3 816.4 336.8 816.7 338.2 816.9 339.7 817.2 341.2 817.4 342.7 817.7 344.2 817.9 345.6 818.1 347.1 818.4 348.6 818.6 350.1 818.8 351.6 819.0 353.1 819.2 354.6 819.3 356.0 819.5 357.5 819.6 359.0 819.7 360.5 819.9 362.0 819.9 363.5 820.0 365.0 820.1 366.5 820.1 368.0 820.1 369.5 820.1 371.0 820.0 372.5 820.0 374.0 819.9 375.5 819.8 377.0 819.7 378.5 819.6 380.0 819.4 381.5 819.3 383.0 819.1 384.5 818.9 385.9 818.7 387.4 818.5 388.9 818.3 390.4 818.1 391.9 817.9 393.4 817.7 394.8 817.4 396.3 817.2 397.8 817.0 399.3 816.7 400.8 816.5 402.2 816.2 403.7 816.0 405.2 815.7 406.7 815.5 408.2 815.3 409.6 815.0 411.1 814.8 412.6 814.6 414.1 814.4 415.6 814.2 417.1 814.0 418.5 813.8 420.0 813.6 421.5 813.5 423.0 813.3 424.5 813.2 426.0 813.1 427.5 813.0 429.0 813.0 430.5 812.9 432.0 812.9 433.5 812.9 435.0 812.9 436.5 813.0 438.0 813.0 439.5 813.1 441.0 813.2 442.5 813.4 444.0 813.5 445.4 813.7 446.9 813.9 448.4 814.1 449.9 814.3 451.4 814.6 452.9 814.8 454.3 815.1 455.8 815.4 457.3 815.7 458.7 816.0 460.2 816.3 461.7 816.6 463.1 817.0 464.6 817.3 466.0 817.7 467.5 818.0 469.0 818.4 470.4 818.8 471.9 819.1 473.3 819.5 474.8 819.9 476.2 820.3 477.6 820.7 479.1 821.1 480.5 821.5 482.0 821.9 483.4 822.2 484.9 822.6 486.3 823.0 487.8 823.4 489.2 823.8 490.7 824.2 492.1 824.6 493.6 825.0 495.0 825.4 496.5 825.8 497.9 826.2 499.3 826.6 500.8 827.0 502.2 827.4 503.7 827.8 505.1 828.1 506.6 828.5 508.0 828.9 509.5 829.3 510.9 829.7 512.4 830.0 513.8 830.4 515.3 830.8 516.7 831.2 518.2 831.5 519.6 831.9 521.1 832.2 522.6 832.6 524.0 832.9 525.5 833.3 526.9 833.6 528.4 834.0 529.9 834.3 531.3 834.6 532.8 835.0 534.2 835.3 535.7 835.6 537.2 835.9 538.6 836.2 540.1 836.5 541.6 836.8 543.1 837.1 544.5 837.3 546.0 837.6 547.5 837.9 549.0 838.1 550.4 838.4 551.9 838.6 553.4 838.9 554.9 839.1 556.4 839.3 557.8 839.5 559.3 839.7 560.8 839.9 562.3 840.1 563.8 840.3 565.3 840.5 566.8 840.6 568.3 840.8 569.7 841.0 571.2 841.1 572.7 841.2 574.2 841.4 575.7 841.5 577.2 841.6 578.7 841.8 580.2 841.9 581.7 842.0 583.2 842.1 584.7 842.2 586.2 842.3 587.7 842.4 589.2 842.5 590.7 842.6 592.2 842.7 593.7 842.8 595.2 842.9 596.6 843.0 598.1 843.1 599.6 843.2 601.1 843.3 602.6 843.5 604.1 843.6 605.6 843.7 607.1 843.8 608.6 843.9 610.1 844.0 611.6 844.1 613.1 844.3 614.6 844.4 616.1 844.5 617.6 844.7 619.1 844.8 620.5 845.0 622.0 845.1 623.5 845.3 625.0 845.5 626.5 845.7 628.0 845.8 629.5 846.0 631.0 846.2 632.4 846.4 633.9 846.6 635.4 846.9 636.9 847.1 638.4 847.3 639.9 847.5 641.3 847.8 642.8 848.0 644.3 848.3 645.8 848.5 647.3 848.7 648.7 849.0 650.2 849.3 651.7 849.5 653.2 849.8 654.6 850.0 656.1 850.3 657.6 850.6 659.1 850.8 660.5 851.1 662.0 851.3 663.5 851.6 665.0 851.9 666.4 852.1 667.9 852.4 669.4 852.7 670.9 852.9 672.3 853.2 673.8 853.5 675.3 853.7 676.8 854.0 678.3 854.2 679.7 854.5 681.2 854.7 682.7 855.0 684.2 855.2 685.6 855.5 687.1 855.7 688.6 855.9 690.1 856.2 691.6 856.4 693.1 856.6 694.5 856.8 696.0 857.0 697.5 857.2 699.0 857.4 700.5 857.6 702.0 857.8 703.5 858.0 704.9 858.1 706.4 858.3 707.9 858.5 709.4 858.6 710.9 858.8 712.4 859.0 713.9 859.1 715.4 859.3 716.9 859.4 718.4 859.5 719.9 859.7 721.3 859.8 722.8 859.9 724.3 860.1 725.8 860.2 727.3 860.3 728.8 860.4 730.3 860.5 731.8 860.6 733.3 860.7 734.8 860.8 736.3 860.9 737.8 861.0 739.3 861.1 740.8 861.2 742.3 861.3 743.8 861.4 745.3 861.5 746.8 861.6 748.3 861.7 749.8 861.8 751.3 861.9 752.7 861.9 754.2 862.0 755.7 862.1 757.2 862.2 758.7 862.3 760.2 862.4 761.7 862.4 763.2 862.5 764.7 862.6 766.2 862.7 767.7 862.7 769.2 862.8 770.7 862.9 772.2 863.0 773.7 863.0 775.2 863.1 776.7 863.2 778.2 863.3 779.7 863.3 781.2 863.4 782.7 863.5 784.2 863.6 785.7 863.6 787.2 863.7 788.7 863.8 790.2 863.8 791.7 863.9 793.2 864.0 794.7 864.1 796.2 864.1 797.7 864.2 799.2 864.3 800.7 864.3 802.1 864.4 803.6 864.5 805.1 864.5 806.6 864.6 808.1 864.7 809.6 864.7 811.1 864.8 812.6 864.9 814.1 864.9 815.6 865.0 817.1 865.1 818.6 865.1 820.1 865.2 821.6 865.2 823.1 865.3 824.6 865.4 826.1 865.4 827.6 865.5 829.1 865.6 830.6 865.6 832.1 865.7 833.6 865.7 835.1 865.8 836.6 865.9 838.1 865.9 839.6 866.0 841.1 866.0 842.6 866.1 844.1 866.2 845.6 866.2 847.1 866.3 848.6 866.3 850.1 866.4 851.6 866.4 853.1 866.5 854.6 866.6 856.1 866.6 857.6 866.7 859.1 866.7 860.6 866.8 862.1 866.8 863.6 866.9 865.0 867.0 866.5 867.0 868.0 867.1 869.5 867.1 871.0 867.2 872.5 867.2 874.0 867.3 875.5 867.3 877.0 867.4 878.5 867.4 880.0 867.5 881.5 867.5 883.0 867.6 884.5 867.6 886.0 867.7 887.5 867.8 889.0 867.8 890.5 867.9 892.0 867.9 893.5 868.0 895.0 868.0 896.5 868.1 898.0 868.1 899.5 868.2 901.0 868.2 902.5 868.3 904.0 868.3 905.5 868.4 907.0 868.4 908.5 868.5 910.0 868.5 911.5 868.6 913.0 868.6 914.5 868.7 916.0 868.7 917.5 868.7 919.0 868.8 920.5 868.8 922.0 868.9 923.5 868.9 925.0 869.0 926.5 869.0 928.0 869.1 929.5 869.1 931.0 869.2 932.5 869.2 934.0 869.3 935.5 869.3 937.0 869.4 938.5 869.4 939.9 869.5 941.4 869.5 942.9 869.6 944.4 869.6 945.9 869.6 947.4 869.7 948.9 869.7 950.4 869.8 951.9 869.8 953.4 869.9 954.9 869.9 956.4 870.0 957.9 870.0 959.4 870.1 960.9 870.1 962.4 870.1 963.9 870.2 965.4 870.2 966.9 870.3 968.4 870.3 969.9 870.4 971.4 870.4 972.9 870.5 974.4 870.5 975.9 870.6 977.4 870.6 978.9 870.6 980.4 870.7 981.9 870.7 983.4 870.8 984.9 870.8 986.4 870.9 987.9 870.9 989.4 871.0 990.9 871.0 992.4 871.1 993.9 871.1 995.4 871.1 996.9 871.2 998.4 871.2 999.9 871.3 1001.4 871.3 1002.9 871.4 1004.4 871.4 1005.9 871.5 1007.4 871.5 1008.9 871.5 1010.4 871.6 1011.9 871.6 1013.4 871.7 1014.9 871.7 1016.4 871.8 1017.9 871.8 1019.4 871.9 1020.9 871.9 1022.3 872.0 1023.8 872.0 1025.3 872.1 1026.8 872.1 1028.3 872.1 1029.8 872.2 1031.3 872.2 1032.8 872.3 1034.3 872.3 1035.8 872.4 1037.3 872.4 1038.8 872.5 1040.3 872.5 1041.8 872.6 1043.3 872.6 1044.8 872.7 1046.3 872.7 1047.8 872.7 1049.3 872.8 1050.8 872.8 1052.3 872.9 1053.8 872.9 1055.3 873.0 1056.8 873.0 1058.3 873.1 1059.8 873.1 1061.3 873.2 1062.8 873.2 1064.3 873.3 1065.8 873.3 1067.3 873.4 1068.8 873.4 1070.3 873.5 1071.8 873.5 1073.3 873.6 1074.8 873.6 1076.3 873.7 1077.8 873.7 1079.3 873.8 1080.8 873.8 1082.3 873.9 1083.8 873.9 1085.3 874.0 1086.8 874.0 1088.3 874.1 1089.8 874.1 1091.3 874.2 1092.8 874.2 1094.3 874.3 1095.8 874.3 1097.3 874.4 1098.8 874.4 1100.2 874.5 1101.7 874.5 1103.2 874.5 1104.7 874.6 1106.2 874.6 1107.7 874.7 1109.2 874.7 1110.7 874.8 1112.2 874.8 1113.7 874.9 1115.2 874.9 1116.7 875.0 1118.2 875.0 1119.7 875.1 1121.2 875.1 1122.7 875.2 1124.2 875.2 1125.7 875.3 1127.2 875.3 1128.7 875.4 1130.2 875.4 1131.7 875.5 1133.2 875.5 1134.7 875.6 1136.2 875.6 1137.7 875.7 1139.2 875.7 1140.7 875.8 1142.2 875.8 1143.7 875.9 1145.2 875.9 1146.7 876.0 1148.2 876.0 1149.7 876.1 1151.2 876.1 1152.7 876.1 1154.2 876.2 1155.7 876.2 1157.2 876.3 1158.7 876.3 1160.2 876.4 1161.7 876.4 1163.2 876.5 1164.7 876.5 1166.2 876.6 1167.7 876.6 1169.2 876.7 1170.7 876.7 1172.2 876.7 1173.7 876.8 1175.2 876.8 1176.7 876.9 1178.2 876.9 1179.6 877.0 1181.1 877.0 1182.6 877.1 1184.1 877.1 1185.6 877.1 1187.1 877.2 1188.6 877.2 1190.1 877.3 1191.6 877.3 1193.1 877.4 1194.6 877.4 1196.1 877.4 1197.6 877.5 1199.1 877.5 1200.6 877.6 1202.1 877.6 1203.6 877.6 1205.1 877.7 1206.6 877.7 1208.1 877.8 1209.6 877.8 1211.1 877.8 1212.6 877.9 1214.1 877.9 1215.6 878.0 1217.1 878.0 1218.6 878.0 1220.1 878.1 1221.6 878.1 1223.1 878.1 1224.6 878.2 1226.1 878.2 1227.6 878.3 1229.1 878.3 1230.6 878.3 1232.1 878.4 1233.6 878.4 1235.1 878.4 1236.6 878.5 1238.1 878.5 1239.6 878.5 1241.1 878.6 1242.6 878.6 1244.1 878.6 1245.6 878.7 1247.1 878.7 1248.6 878.7 1250.1 878.8 1251.6 878.8 1253.1 878.8 1254.6 878.9 1256.1 878.9 1257.6 878.9 1259.1 878.9 1260.6 879.0 1262.1 879.0 1263.6 879.0 1265.1 879.1 1266.6 879.1 1268.1 879.1 1269.6 879.1 1271.1 879.2 1272.6 879.2 1274.0 879.2 1275.5 879.2 1277.0 879.3 1278.5 879.3 1280.0 879.3 1281.5 879.3 1283.0 879.4 1284.5 879.4 1286.0 879.4 1287.5 879.4 1289.0 879.4 1290.5 879.5 1292.0 879.5 1293.5 879.5 1295.0 879.5 1296.5 879.5 1298.0 879.6 1299.5 879.6 1301.0 879.6 1302.5 879.6 1304.0 879.6 1305.5 879.6 1307.0 879.7 1308.5 879.7 1310.0 879.7 1311.5 879.7 1313.0 879.7 1314.5 879.7 1316.0 879.7" stroke="#6e22c8"/>
<path d="M177.6 861.6L179.1 861.7 180.6 861.8 182.1 861.9 183.6 862.0 185.1 862.1 186.6 862.1 188.1 862.1 189.6 862.1 191.1 862.1 192.6 862.0 194.1 861.9 195.6 861.8 197.1 861.7 198.6 861.6 200.1 861.4 201.6 861.2 203.1 861.0 204.5 860.8 206.0 860.6 207.5 860.3 209.0 860.0 210.4 859.8 211.9 859.4 213.4 859.1 214.8 858.8 216.3 858.4 217.7 858.1 219.2 857.7 220.6 857.3 222.1 856.9 223.5 856.5 225.0 856.0 226.4 855.6 227.8 855.1 229.3 854.7 230.7 854.2 232.1 853.7 233.5 853.2 234.9 852.7 236.3 852.2 237.8 851.7 239.2 851.2 240.6 850.7 242.0 850.2 243.4 849.6 244.8 849.1 246.2 848.6 247.6 848.0 249.0 847.5 250.4 846.9 251.8 846.4 253.2 845.8 254.5 845.3 255.9 844.7 257.3 844.2 258.7 843.6 260.1 843.1 261.5 842.5 262.9 842.0 264.3 841.4 265.7 840.9 267.1 840.4 268.5 839.8 269.9 839.3 271.3 838.8 272.7 838.3 274.2 837.8 275.6 837.3 277.0 836.9 278.4 836.4 279.9 836.0 281.3 835.6 282.8 835.2 284.2 834.8 285.7 834.4 287.1 834.1 288.6 833.8 290.1 833.5 291.6 833.3 293.0 833.1 294.5 832.9 296.0 832.8 297.5 832.7 299.0 832.6 300.5 832.6 302.0 832.6 303.5 832.6 305.0 832.7 306.5 832.8 308.0 832.9 309.5 833.1 311.0 833.3 312.5 833.5 314.0 833.7 315.4 833.9 316.9 834.1 318.4 834.4 319.9 834.6 321.4 834.9 322.8 835.1 324.3 835.4 325.8 835.7 327.3 835.9 328.7 836.1 330.2 836.4 331.7 836.6 333.2 836.8 334.7 837.0 336.2 837.2 337.7 837.4 339.2 837.5 340.6 837.6 342.1 837.8 343.6 837.8 345.1 837.9 346.6 838.0 348.1 838.0 349.6 838.0 351.1 838.0 352.6 838.0 354.1 838.0 355.6 837.9 357.1 837.9 358.6 837.8 360.1 837.7 361.6 837.6 363.1 837.5 364.6 837.4 366.1 837.3 367.6 837.2 369.1 837.1 370.6 836.9 372.1 836.8 373.6 836.6 375.1 836.5 376.6 836.3 378.0 836.1 379.5 835.9 381.0 835.8 382.5 835.6 384.0 835.4 385.5 835.2 387.0 835.1 388.5 834.9 390.0 834.7 391.4 834.5 392.9 834.3 394.4 834.2 395.9 834.0 397.4 833.8 398.9 833.7 400.4 833.5 401.9 833.3 403.4 833.2 404.9 833.1 406.4 832.9 407.8 832.8 409.3 832.7 410.8 832.6 412.3 832.5 413.8 832.4 415.3 832.3 416.8 832.3 418.3 832.2 419.8 832.2 421.3 832.2 422.8 832.1 424.3 832.1 425.8 832.2 427.3 832.2 428.8 832.2 430.3 832.3 431.8 832.3 433.3 832.4 434.8 832.5 436.3 832.6 437.8 832.7 439.3 832.8 440.8 832.9 442.3 833.0 443.8 833.1 445.3 833.3 446.8 833.4 448.3 833.6 449.8 833.7 451.2 833.9 452.7 834.1 454.2 834.3 455.7 834.5 457.2 834.7 458.7 834.9 460.2 835.1 461.7 835.3 463.1 835.5 464.6 835.7 466.1 836.0 467.6 836.2 469.1 836.4 470.5 836.7 472.0 836.9 473.5 837.1 475.0 837.4 476.5 837.6 477.9 837.9 479.4 838.1 480.9 838.4 482.4 838.7 483.8 838.9 485.3 839.2 486.8 839.4 488.3 839.7 489.8 840.0 491.2 840.2 492.7 840.5 494.2 840.7 495.7 841.0 497.1 841.3 498.6 841.5 500.1 841.8 501.6 842.0 503.1 842.3 504.5 842.5 506.0 842.8 507.5 843.0 509.0 843.2 510.5 843.5 511.9 843.7 513.4 843.9 514.9 844.2 516.4 844.4 517.9 844.6 519.3 844.8 520.8 845.1 522.3 845.3 523.8 845.5 525.3 845.7 526.8 845.9 528.3 846.1 529.7 846.3 531.2 846.5 532.7 846.7 534.2 846.9 535.7 847.1 537.2 847.3 538.7 847.5 540.1 847.7 541.6 847.9 543.1 848.0 544.6 848.2 546.1 848.4 547.6 848.6 549.1 848.7 550.6 848.9 552.1 849.1 553.5 849.3 555.0 849.4 556.5 849.6 558.0 849.8 559.5 849.9 561.0 850.1 562.5 850.2 564.0 850.4 565.5 850.5 567.0 850.7 568.5 850.8 570.0 851.0 571.4 851.1 572.9 851.3 574.4 851.4 575.9 851.6 577.4 851.7 578.9 851.8 580.4 852.0 581.9 852.1 583.4 852.3 584.9 852.4 586.4 852.5 587.9 852.6 589.4 852.8 590.9 852.9 592.4 853.0 593.8 853.2 595.3 853.3 596.8 853.4 598.3 853.5 599.8 853.6 601.3 853.8 602.8 853.9 604.3 854.0 605.8 854.1 607.3 854.2 608.8 854.3 610.3 854.4 611.8 854.6 613.3 854.7 614.8 854.8 616.3 854.9 617.8 855.0 619.3 855.1 620.8 855.2 622.3 855.3 623.8 855.4 625.2 855.5 626.7 855.6 628.2 855.7 629.7 855.8 631.2 855.9 632.7 856.0 634.2 856.1 635.7 856.2 637.2 856.3 638.7 856.4 640.2 856.5 641.7 856.6 643.2 856.7 644.7 856.8 646.2 856.9 647.7 857.0 649.2 857.1 650.7 857.2 652.2 857.3 653.7 857.4 655.2 857.5 656.7 857.6 658.2 857.7 659.7 857.8 661.2 857.9 662.7 858.0 664.2 858.1 665.6 858.1 667.1 858.2 668.6 858.3 670.1 858.4 671.6 858.5 673.1 858.6 674.6 858.7 676.1 858.8 677.6 858.9 679.1 858.9 680.6 859.0 682.1 859.1 683.6 859.2 685.1 859.3 686.6 859.4 688.1 859.5 689.6 859.5 691.1 859.6 692.6 859.7 694.1 859.8 695.6 859.9 697.1 860.0 698.6 860.0 700.1 860.1 701.6 860.2 703.1 860.3 704.6 860.4 706.1 860.4 707.6 860.5 709.1 860.6 710.6 860.7 712.1 860.8 713.6 860.8 715.1 860.9 716.6 861.0 718.0 861.1 719.5 861.2 721.0 861.2 722.5 861.3 724.0 861.4 725.5 861.5 727.0 861.5 728.5 861.6 730.0 861.7 731.5 861.8 733.0 861.8 734.5 861.9 736.0 862.0 737.5 862.1 739.0 862.1 740.5 862.2 742.0 862.3 743.5 862.4 745.0 862.4 746.5 862.5 748.0 862.6 749.5 862.7 751.0 862.7 752.5 862.8 754.0 862.9 755.5 862.9 757.0 863.0 758.5 863.1 760.0 863.2 761.5 863.2 763.0 863.3 764.5 863.4 766.0 863.4 767.5 863.5 769.0 863.6 770.5 863.6 772.0 863.7 773.5 863.8 775.0 863.9 776.5 863.9 778.0 864.0 779.5 864.1 781.0 864.1 782.5 864.2 784.0 864.3 785.4 864.3 786.9 864.4 788.4 864.5 789.9 864.5 791.4 864.6 792.9 864.7 794.4 864.7 795.9 864.8 797.4 864.9 798.9 864.9 800.4 865.0 801.9 865.1 803.4 865.1 804.9 865.2 806.4 865.3 807.9 865.3 809.4 865.4 810.9 865.5 812.4 865.5 813.9 865.6 815.4 865.7 816.9 865.7 818.4 865.8 819.9 865.8 821.4 865.9 822.9 866.0 824.4 866.0 825.9 866.1 827.4 866.2 828.9 866.2 830.4 866.3 831.9 866.4 833.4 866.4 834.9 866.5 836.4 866.5 837.9 866.6 839.4 866.7 840.9 866.7 842.4 866.8 843.9 866.8 845.4 866.9 846.9 867.0 848.4 867.0 849.9 867.1 851.4 867.2 852.9 867.2 854.4 867.3 855.9 867.3 857.4 867.4 858.9 867.5 860.4 867.5 861.9 867.6 863.4 867.6 864.9 867.7 866.4 867.8 867.8 867.8 869.3 867.9 870.8 867.9 872.3 868.0 873.8 868.1 875.3 868.1 876.8 868.2 878.3 868.2 879.8 868.3 881.3 868.3 882.8 868.4 884.3 868.5 885.8 868.5 887.3 868.6 888.8 868.6 890.3 868.7 891.8 868.7 893.3 868.8 894.8 868.9 896.3 868.9 897.8 869.0 899.3 869.0 900.8 869.1 902.3 869.1 903.8 869.2 905.3 869.3 906.8 869.3 908.3 869.4 909.8 869.4 911.3 869.5 912.8 869.5 914.3 869.6 915.8 869.6 917.3 869.7 918.8 869.8 920.3 869.8 921.8 869.9 923.3 869.9 924.8 870.0 926.3 870.0 927.8 870.1 929.3 870.1 930.8 870.2 932.3 870.2 933.8 870.3 935.3 870.3 936.8 870.4 938.3 870.5 939.8 870.5 941.3 870.6 942.8 870.6 944.3 870.7 945.8 870.7 947.3 870.8 948.8 870.8 950.3 870.9 951.8 870.9 953.3 871.0 954.8 871.0 956.3 871.1 957.8 871.1 959.3 871.2 960.8 871.2 962.3 871.3 963.8 871.3 965.3 871.4 966.8 871.4 968.3 871.5 969.7 871.5 971.2 871.6 972.7 871.6 974.2 871.7 975.7 871.7 977.2 871.8 978.7 871.8 980.2 871.9 981.7 871.9 983.2 872.0 984.7 872.0 986.2 872.1 987.7 872.1 989.2 872.2 990.7 872.2 992.2 872.3 993.7 872.3 995.2 872.4 996.7 872.4 998.2 872.5 999.7 872.5 1001.2 872.6 1002.7 872.6 1004.2 872.7 1005.7 872.7 1007.2 872.8 1008.7 872.8 1010.2 872.9 1011.7 872.9 1013.2 873.0 1014.7 873.0 1016.2 873.1 1017.7 873.1 1019.2 873.1 1020.7 873.2 1022.2 873.2 1023.7 873.3 1025.2 873.3 1026.7 873.4 1028.2 873.4 1029.7 873.5 1031.2 873.5 1032.7 873.6 1034.2 873.6 1035.7 873.7 1037.2 873.7 1038.7 873.8 1040.2 873.8 1041.7 873.8 1043.2 873.9 1044.7 873.9 1046.2 874.0 1047.7 874.0 1049.2 874.1 1050.7 874.1 1052.2 874.2 1053.7 874.2 1055.2 874.2 1056.7 874.3 1058.2 874.3 1059.7 874.4 1061.2 874.4 1062.7 874.5 1064.2 874.5 1065.7 874.6 1067.2 874.6 1068.7 874.6 1070.2 874.7 1071.7 874.7 1073.2 874.8 1074.7 874.8 1076.2 874.9 1077.7 874.9 1079.2 875.0 1080.7 875.0 1082.2 875.0 1083.7 875.1 1085.2 875.1 1086.7 875.2 1088.2 875.2 1089.7 875.3 1091.2 875.3 1092.7 875.3 1094.1 875.4 1095.6 875.4 1097.1 875.5 1098.6 875.5 1100.1 875.6 1101.6 875.6 1103.1 875.6 1104.6 875.7 1106.1 875.7 1107.6 875.8 1109.1 875.8 1110.6 875.8 1112.1 875.9 1113.6 875.9 1115.1 876.0 1116.6 876.0 1118.1 876.1 1119.6 876.1 1121.1 876.1 1122.6 876.2 1124.1 876.2 1125.6 876.3 1127.1 876.3 1128.6 876.3 1130.1 876.4 1131.6 876.4 1133.1 876.5 1134.6 876.5 1136.1 876.5 1137.6 876.6 1139.1 876.6 1140.6 876.7 1142.1 876.7 1143.6 876.7 1145.1 876.8 1146.6 876.8 1148.1 876.9 1149.6 876.9 1151.1 876.9 1152.6 877.0 1154.1 877.0 1155.6 877.1 1157.1 877.1 1158.6 877.1 1160.1 877.2 1161.6 877.2 1163.1 877.3 1164.6 877.3 1166.1 877.3 1167.6 877.4 1169.1 877.4 1170.6 877.5 1172.1 877.5 1173.6 877.5 1175.1 877.6 1176.6 877.6 1178.1 877.7 1179.6 877.7 1181.1 877.7 1182.6 877.8 1184.1 877.8 1185.6 877.8 1187.1 877.9 1188.6 877.9 1190.1 878.0 1191.6 878.0 1193.1 878.0 1194.6 878.1 1196.1 878.1 1197.6 878.1 1199.1 878.2 1200.6 878.2 1202.1 878.3 1203.6 878.3 1205.1 878.3 1206.6 878.4 1208.1 878.4 1209.6 878.5 1211.1 878.5 1212.6 878.5 1214.1 878.6 1215.6 878.6 1217.1 878.6 1218.6 878.7 1220.1 878.7 1221.6 878.8 1223.1 878.8 1224.6 878.8 1226.1 878.9 1227.6 878.9 1229.1 878.9 1230.6 879.0 1232.1 879.0 1233.6 879.0 1235.1 879.1 1236.6 879.1 1238.1 879.2 1239.6 879.2 1241.1 879.2 1242.6 879.3 1244.1 879.3 1245.5 879.3 1247.0 879.4 1248.5 879.4 1250.0 879.5 1251.5 879.5 1253.0 879.5 1254.5 879.6 1256.0 879.6 1257.5 879.6 1259.0 879.7 1260.5 879.7 1262.0 879.7 1263.5 879.8 1265.0 879.8 1266.5 879.9 1268.0 879.9 1269.5 879.9 1271.0 880.0 1272.5 880.0 1274.0 880.0 1275.5 880.1 1277.0 880.1 1278.5 880.1 1280.0 880.2 1281.5 880.2 1283.0 880.2 1284.5 880.3 1286.0 880.3 1287.5 880.4 1289.0 880.4 1290.5 880.4 1292.0 880.5 1293.5 880.5 1295.0 880.5 1296.5 880.6 1298.0 880.6 1299.5 880.6 1301.0 880.7 1302.5 880.7 1304.0 880.7 1305.5 880.8 1307.0 880.8 1308.5 880.9 1310.0 880.9 1311.5 880.9 1313.0 881.0 1314.5 881.0 1316.0 881.0" stroke="#701470"/>
<path d="M177.7 868.6L179.2 868.8 180.7 869.0 182.2 869.2 183.7 869.3 185.2 869.4 186.7 869.5 188.2 869.6 189.7 869.6 191.2 869.6 192.7 869.6 194.2 869.6 195.7 869.5 197.2 869.4 198.7 869.3 200.2 869.2 201.6 869.1 203.1 868.9 204.6 868.8 206.1 868.6 207.6 868.4 209.1 868.1 210.6 867.9 212.0 867.6 213.5 867.4 215.0 867.1 216.4 866.8 217.9 866.5 219.4 866.2 220.8 865.8 222.3 865.5 223.8 865.1 225.2 864.8 226.7 864.4 228.1 864.0 229.6 863.7 231.0 863.3 232.5 862.9 233.9 862.5 235.3 862.1 236.8 861.7 238.2 861.3 239.7 860.9 241.1 860.5 242.6 860.0 244.0 859.6 245.4 859.2 246.9 858.8 248.3 858.4 249.8 858.0 251.2 857.6 252.6 857.2 254.1 856.8 255.5 856.4 257.0 856.0 258.4 855.6 259.9 855.2 261.3 854.9 262.8 854.5 264.2 854.1 265.7 853.8 267.2 853.5 268.6 853.1 270.1 852.8 271.6 852.5 273.0 852.2 274.5 852.0 276.0 851.7 277.5 851.4 278.9 851.2 280.4 851.0 281.9 850.8 283.4 850.6 284.9 850.4 286.4 850.2 287.8 850.1 289.3 849.9 290.8 849.8 292.3 849.7 293.8 849.6 295.3 849.5 296.8 849.4 298.3 849.3 299.8 849.2 301.3 849.2 302.8 849.1 304.3 849.1 305.8 849.0 307.3 849.0 308.8 849.0 310.3 849.0 311.8 849.0 313.3 849.0 314.8 849.0 316.3 849.0 317.8 849.0 319.3 849.0 320.8 849.1 322.3 849.1 323.8 849.1 325.3 849.2 326.8 849.2 328.3 849.3 329.8 849.3 331.3 849.4 332.8 849.5 334.3 849.5 335.8 849.6 337.2 849.7 338.7 849.7 340.2 849.8 341.7 849.9 343.2 849.9 344.7 850.0 346.2 850.1 347.7 850.1 349.2 850.2 350.7 850.3 352.2 850.3 353.7 850.4 355.2 850.5 356.7 850.5 358.2 850.6 359.7 850.6 361.2 850.6 362.7 850.7 364.2 850.7 365.7 850.7 367.2 850.7 368.7 850.7 370.2 850.7 371.7 850.7 373.2 850.7 374.7 850.6 376.2 850.6 377.7 850.5 379.2 850.5 380.7 850.4 382.2 850.3 383.7 850.2 385.2 850.1 386.7 849.9 388.1 849.8 389.6 849.7 391.1 849.5 392.6 849.4 394.1 849.2 395.6 849.1 397.1 848.9 398.6 848.7 400.1 848.6 401.6 848.4 403.0 848.2 404.5 848.1 406.0 847.9 407.5 847.8 409.0 847.6 410.5 847.5 412.0 847.3 413.5 847.2 415.0 847.1 416.5 846.9 418.0 846.8 419.5 846.7 421.0 846.7 422.5 846.6 423.9 846.5 425.4 846.5 426.9 846.5 428.4 846.4 429.9 846.4 431.4 846.4 432.9 846.5 434.4 846.5 435.9 846.5 437.4 846.6 438.9 846.6 440.4 846.7 441.9 846.8 443.4 846.9 444.9 847.0 446.4 847.1 447.9 847.2 449.4 847.3 450.9 847.5 452.4 847.6 453.9 847.7 455.4 847.9 456.9 848.0 458.3 848.2 459.8 848.4 461.3 848.5 462.8 848.7 464.3 848.9 465.8 849.1 467.3 849.2 468.8 849.4 470.2 849.6 471.7 849.8 473.2 850.0 474.7 850.2 476.2 850.4 477.7 850.6 479.2 850.7 480.6 850.9 482.1 851.1 483.6 851.3 485.1 851.5 486.6 851.7 488.1 851.9 489.6 852.0 491.1 852.2 492.5 852.4 494.0 852.6 495.5 852.7 497.0 852.9 498.5 853.1 500.0 853.2 501.5 853.4 503.0 853.6 504.5 853.7 506.0 853.9 507.4 854.0 508.9 854.2 510.4 854.3 511.9 854.5 513.4 854.6 514.9 854.8 516.4 854.9 517.9 855.0 519.4 855.2 520.9 855.3 522.4 855.5 523.8 855.6 525.3 855.7 526.8 855.9 528.3 856.0 529.8 856.1 531.3 856.2 532.8 856.4 534.3 856.5 535.8 856.6 537.3 856.7 538.8 856.8 540.3 856.9 541.8 857.1 543.3 857.2 544.8 857.3 546.3 857.4 547.7 857.5 549.2 857.6 550.7 857.7 552.2 857.8 553.7 857.9 555.2 858.0 556.7 858.1 558.2 858.2 559.7 858.3 561.2 858.4 562.7 858.5 564.2 858.6 565.7 858.7 567.2 858.8 568.7 858.9 570.2 859.0 571.7 859.0 573.2 859.1 574.7 859.2 576.2 859.3 577.7 859.4 579.2 859.5 580.6 859.5 582.1 859.6 583.6 859.7 585.1 859.8 586.6 859.9 588.1 859.9 589.6 860.0 591.1 860.1 592.6 860.2 594.1 860.2 595.6 860.3 597.1 860.4 598.6 860.5 600.1 860.5 601.6 860.6 603.1 860.7 604.6 860.7 606.1 860.8 607.6 860.9 609.1 861.0 610.6 861.0 612.1 861.1 613.6 861.2 615.1 861.2 616.6 861.3 618.1 861.4 619.6 861.4 621.1 861.5 622.6 861.5 624.1 861.6 625.6 861.7 627.0 861.7 628.5 861.8 630.0 861.9 631.5 861.9 633.0 862.0 634.5 862.0 636.0 862.1 637.5 862.2 639.0 862.2 640.5 862.3 642.0 862.4 643.5 862.4 645.0 862.5 646.5 862.5 648.0 862.6 649.5 862.6 651.0 862.7 652.5 862.8 654.0 862.8 655.5 862.9 657.0 862.9 658.5 863.0 660.0 863.0 661.5 863.1 663.0 863.2 664.5 863.2 666.0 863.3 667.5 863.3 669.0 863.4 670.5 863.4 672.0 863.5 673.5 863.5 675.0 863.6 676.5 863.6 678.0 863.7 679.5 863.7 681.0 863.8 682.4 863.8 683.9 863.9 685.4 863.9 686.9 864.0 688.4 864.1 689.9 864.1 691.4 864.2 692.9 864.2 694.4 864.3 695.9 864.3 697.4 864.4 698.9 864.4 700.4 864.5 701.9 864.5 703.4 864.6 704.9 864.6 706.4 864.6 707.9 864.7 709.4 864.7 710.9 864.8 712.4 864.8 713.9 864.9 715.4 864.9 716.9 865.0 718.4 865.0 719.9 865.1 721.4 865.1 722.9 865.2 724.4 865.2 725.9 865.3 727.4 865.3 728.9 865.4 730.4 865.4 731.9 865.5 733.4 865.5 734.9 865.6 736.4 865.6 737.9 865.7 739.4 865.7 740.9 865.7 742.4 865.8 743.8 865.8 745.3 865.9 746.8 865.9 748.3 866.0 749.8 866.0 751.3 866.1 752.8 866.1 754.3 866.2 755.8 866.2 757.3 866.3 758.8 866.3 760.3 866.4 761.8 866.4 763.3 866.5 764.8 866.5 766.3 866.5 767.8 866.6 769.3 866.6 770.8 866.7 772.3 866.7 773.8 866.8 775.3 866.8 776.8 866.9 778.3 866.9 779.8 867.0 781.3 867.0 782.8 867.1 784.3 867.1 785.8 867.2 787.3 867.2 788.8 867.2 790.3 867.3 791.8 867.3 793.3 867.4 794.8 867.4 796.3 867.5 797.8 867.5 799.3 867.6 800.8 867.6 802.3 867.7 803.8 867.7 805.3 867.8 806.8 867.8 808.2 867.9 809.7 867.9 811.2 867.9 812.7 868.0 814.2 868.0 815.7 868.1 817.2 868.1 818.7 868.2 820.2 868.2 821.7 868.3 823.2 868.3 824.7 868.4 826.2 868.4 827.7 868.5 829.2 868.5 830.7 868.6 832.2 868.6 833.7 868.7 835.2 868.7 836.7 868.7 838.2 868.8 839.7 868.8 841.2 868.9 842.7 868.9 844.2 869.0 845.7 869.0 847.2 869.1 848.7 869.1 850.2 869.2 851.7 869.2 853.2 869.3 854.7 869.3 856.2 869.3 857.7 869.4 859.2 869.4 860.7 869.5 862.2 869.5 863.7 869.6 865.2 869.6 866.7 869.7 868.2 869.7 869.7 869.8 871.2 869.8 872.6 869.9 874.1 869.9 875.6 870.0 877.1 870.0 878.6 870.0 880.1 870.1 881.6 870.1 883.1 870.2 884.6 870.2 886.1 870.3 887.6 870.3 889.1 870.4 890.6 870.4 892.1 870.5 893.6 870.5 895.1 870.6 896.6 870.6 898.1 870.6 899.6 870.7 901.1 870.7 902.6 870.8 904.1 870.8 905.6 870.9 907.1 870.9 908.6 871.0 910.1 871.0 911.6 871.1 913.1 871.1 914.6 871.1 916.1 871.2 917.6 871.2 919.1 871.3 920.6 871.3 922.1 871.4 923.6 871.4 925.1 871.5 926.6 871.5 928.1 871.6 929.6 871.6 931.1 871.7 932.6 871.7 934.1 871.7 935.6 871.8 937.1 871.8 938.5 871.9 940.0 871.9 941.5 872.0 943.0 872.0 944.5 872.1 946.0 872.1 947.5 872.2 949.0 872.2 950.5 872.2 952.0 872.3 953.5 872.3 955.0 872.4 956.5 872.4 958.0 872.5 959.5 872.5 961.0 872.6 962.5 872.6 964.0 872.6 965.5 872.7 967.0 872.7 968.5 872.8 970.0 872.8 971.5 872.9 973.0 872.9 974.5 873.0 976.0 873.0 977.5 873.1 979.0 873.1 980.5 873.1 982.0 873.2 983.5 873.2 985.0 873.3 986.5 873.3 988.0 873.4 989.5 873.4 991.0 873.5 992.5 873.5 994.0 873.5 995.5 873.6 997.0 873.6 998.5 873.7 1000.0 873.7 1001.5 873.8 1003.0 873.8 1004.4 873.8 1005.9 873.9 1007.4 873.9 1008.9 874.0 1010.4 874.0 1011.9 874.1 1013.4 874.1 1014.9 874.2 1016.4 874.2 1017.9 874.2 1019.4 874.3 1020.9 874.3 1022.4 874.4 1023.9 874.4 1025.4 874.5 1026.9 874.5 1028.4 874.5 1029.9 874.6 1031.4 874.6 1032.9 874.7 1034.4 874.7 1035.9 874.8 1037.4 874.8 1038.9 874.9 1040.4 874.9 1041.9 874.9 1043.4 875.0 1044.9 875.0 1046.4 875.1 1047.9 875.1 1049.4 875.2 1050.9 875.2 1052.4 875.2 1053.9 875.3 1055.4 875.3 1056.9 875.4 1058.4 875.4 1059.9 875.5 1061.4 875.5 1062.9 875.5 1064.4 875.6 1065.9 875.6 1067.4 875.7 1068.9 875.7 1070.4 875.7 1071.8 875.8 1073.3 875.8 1074.8 875.9 1076.3 875.9 1077.8 876.0 1079.3 876.0 1080.8 876.0 1082.3 876.1 1083.8 876.1 1085.3 876.2 1086.8 876.2 1088.3 876.3 1089.8 876.3 1091.3 876.3 1092.8 876.4 1094.3 876.4 1095.8 876.5 1097.3 876.5 1098.8 876.5 1100.3 876.6 1101.8 876.6 1103.3 876.7 1104.8 876.7 1106.3 876.7 1107.8 876.8 1109.3 876.8 1110.8 876.9 1112.3 876.9 1113.8 877.0 1115.3 877.0 1116.8 877.0 1118.3 877.1 1119.8 877.1 1121.3 877.2 1122.8 877.2 1124.3 877.2 1125.8 877.3 1127.3 877.3 1128.8 877.4 1130.3 877.4 1131.8 877.4 1133.3 877.5 1134.8 877.5 1136.3 877.6 1137.8 877.6 1139.3 877.6 1140.7 877.7 1142.2 877.7 1143.7 877.8 1145.2 877.8 1146.7 877.8 1148.2 877.9 1149.7 877.9 1151.2 878.0 1152.7 878.0 1154.2 878.0 1155.7 878.1 1157.2 878.1 1158.7 878.1 1160.2 878.2 1161.7 878.2 1163.2 878.3 1164.7 878.3 1166.2 878.3 1167.7 878.4 1169.2 878.4 1170.7 878.5 1172.2 878.5 1173.7 878.5 1175.2 878.6 1176.7 878.6 1178.2 878.7 1179.7 878.7 1181.2 878.7 1182.7 878.8 1184.2 878.8 1185.7 878.8 1187.2 878.9 1188.7 878.9 1190.2 879.0 1191.7 879.0 1193.2 879.0 1194.7 879.1 1196.2 879.1 1197.7 879.1 1199.2 879.2 1200.7 879.2 1202.2 879.3 1203.7 879.3 1205.2 879.3 1206.7 879.4 1208.2 879.4 1209.7 879.4 1211.2 879.5 1212.6 879.5 1214.1 879.5 1215.6 879.6 1217.1 879.6 1218.6 879.7 1220.1 879.7 1221.6 879.7 1223.1 879.8 1224.6 879.8 1226.1 879.8 1227.6 879.9 1229.1 879.9 1230.6 879.9 1232.1 880.0 1233.6 880.0 1235.1 880.1 1236.6 880.1 1238.1 880.1 1239.6 880.2 1241.1 880.2 1242.6 880.2 1244.1 880.3 1245.6 880.3 1247.1 880.3 1248.6 880.4 1250.1 880.4 1251.6 880.4 1253.1 880.5 1254.6 880.5 1256.1 880.5 1257.6 880.6 1259.1 880.6 1260.6 880.7 1262.1 880.7 1263.6 880.7 1265.1 880.8 1266.6 880.8 1268.1 880.8 1269.6 880.9 1271.1 880.9 1272.6 880.9 1274.1 881.0 1275.6 881.0 1277.1 881.0 1278.6 881.1 1280.1 881.1 1281.6 881.1 1283.1 881.2 1284.6 881.2 1286.0 881.2 1287.5 881.3 1289.0 881.3 1290.5 881.3 1292.0 881.4 1293.5 881.4 1295.0 881.4 1296.5 881.5 1298.0 881.5 1299.5 881.5 1301.0 881.6 1302.5 881.6 1304.0 881.6 1305.5 881.6 1307.0 881.7 1308.5 881.7 1310.0 881.7 1311.5 881.8 1313.0 881.8 1314.5 881.8 1316.0 881.9" stroke="#780a14"/>
<path d="M177.8 871.6L179.3 871.7 180.8 871.7 182.3 871.8 183.8 871.8 185.3 871.8 186.8 871.8 188.3 871.8 189.8 871.8 191.3 871.8 192.8 871.8 194.3 871.7 195.8 871.6 197.3 871.6 198.8 871.5 200.3 871.4 201.8 871.3 203.2 871.2 204.7 871.1 206.2 871.0 207.7 870.9 209.2 870.7 210.7 870.6 212.2 870.4 213.7 870.3 215.2 870.1 216.7 869.9 218.2 869.7 219.7 869.6 221.1 869.4 222.6 869.2 224.1 869.0 225.6 868.8 227.1 868.5 228.6 868.3 230.1 868.1 231.5 867.9 233.0 867.7 234.5 867.4 236.0 867.2 237.5 867.0 239.0 866.7 240.4 866.5 241.9 866.2 243.4 866.0 244.9 865.7 246.3 865.5 247.8 865.2 249.3 865.0 250.8 864.7 252.3 864.5 253.7 864.2 255.2 863.9 256.7 863.7 258.2 863.4 259.6 863.2 261.1 862.9 262.6 862.7 264.1 862.4 265.6 862.2 267.0 861.9 268.5 861.7 270.0 861.4 271.5 861.2 273.0 860.9 274.4 860.7 275.9 860.5 277.4 860.2 278.9 860.0 280.4 859.8 281.9 859.6 283.3 859.4 284.8 859.1 286.3 858.9 287.8 858.7 289.3 858.5 290.8 858.4 292.3 858.2 293.8 858.0 295.2 857.8 296.7 857.7 298.2 857.5 299.7 857.4 301.2 857.2 302.7 857.1 304.2 857.0 305.7 856.9 307.2 856.8 308.7 856.7 310.2 856.6 311.7 856.5 313.2 856.4 314.7 856.4 316.2 856.3 317.7 856.2 319.2 856.2 320.7 856.2 322.2 856.1 323.7 856.1 325.2 856.1 326.7 856.1 328.2 856.1 329.7 856.1 331.2 856.1 332.7 856.1 334.2 856.1 335.7 856.1 337.2 856.1 338.7 856.2 340.2 856.2 341.7 856.2 343.2 856.3 344.7 856.3 346.2 856.3 347.7 856.4 349.2 856.4 350.7 856.4 352.2 856.5 353.7 856.5 355.2 856.6 356.7 856.6 358.2 856.6 359.7 856.7 361.2 856.7 362.7 856.7 364.2 856.8 365.7 856.8 367.2 856.8 368.7 856.9 370.2 856.9 371.7 856.9 373.2 856.9 374.7 856.9 376.2 856.9 377.7 856.9 379.2 856.9 380.7 856.9 382.2 856.9 383.7 856.9 385.2 856.9 386.7 856.8 388.2 856.8 389.7 856.8 391.2 856.7 392.7 856.7 394.2 856.6 395.7 856.6 397.2 856.5 398.7 856.5 400.2 856.4 401.6 856.4 403.1 856.3 404.6 856.2 406.1 856.2 407.6 856.1 409.1 856.1 410.6 856.0 412.1 855.9 413.6 855.9 415.1 855.8 416.6 855.7 418.1 855.7 419.6 855.6 421.1 855.6 422.6 855.5 424.1 855.5 425.6 855.4 427.1 855.4 428.6 855.3 430.1 855.3 431.6 855.2 433.1 855.2 434.6 855.2 436.1 855.2 437.6 855.2 439.1 855.1 440.6 855.1 442.1 855.1 443.6 855.2 445.1 855.2 446.6 855.2 448.1 855.2 449.6 855.3 451.1 855.3 452.6 855.3 454.1 855.4 455.6 855.5 457.1 855.5 458.6 855.6 460.1 855.7 461.6 855.8 463.1 855.8 464.6 855.9 466.1 856.0 467.6 856.1 469.1 856.2 470.6 856.3 472.1 856.4 473.6 856.5 475.1 856.7 476.6 856.8 478.1 856.9 479.6 857.0 481.1 857.2 482.6 857.3 484.0 857.4 485.5 857.5 487.0 857.7 488.5 857.8 490.0 858.0 491.5 858.1 493.0 858.2 494.5 858.4 496.0 858.5 497.5 858.6 499.0 858.8 500.5 858.9 502.0 859.1 503.5 859.2 505.0 859.3 506.4 859.5 507.9 859.6 509.4 859.7 510.9 859.9 512.4 860.0 513.9 860.1 515.4 860.3 516.9 860.4 518.4 860.5 519.9 860.6 521.4 860.7 522.9 860.8 524.4 861.0 525.9 861.1 527.4 861.2 528.9 861.3 530.4 861.4 531.9 861.5 533.4 861.6 534.9 861.7 536.4 861.8 537.9 861.9 539.4 862.0 540.8 862.1 542.3 862.1 543.8 862.2 545.3 862.3 546.8 862.4 548.3 862.5 549.8 862.6 551.3 862.6 552.8 862.7 554.3 862.8 555.8 862.9 557.3 862.9 558.8 863.0 560.3 863.1 561.8 863.2 563.3 863.2 564.8 863.3 566.3 863.4 567.8 863.4 569.3 863.5 570.8 863.6 572.3 863.6 573.8 863.7 575.3 863.8 576.8 863.8 578.3 863.9 579.8 863.9 581.3 864.0 582.8 864.1 584.3 864.1 585.8 864.2 587.3 864.3 588.8 864.3 590.3 864.4 591.8 864.4 593.3 864.5 594.8 864.5 596.3 864.6 597.8 864.7 599.3 864.7 600.8 864.8 602.3 864.8 603.8 864.9 605.3 864.9 606.8 865.0 608.3 865.0 609.8 865.1 611.3 865.1 612.8 865.2 614.3 865.2 615.8 865.3 617.3 865.3 618.8 865.4 620.3 865.4 621.8 865.5 623.3 865.5 624.8 865.6 626.3 865.6 627.8 865.7 629.3 865.7 630.8 865.8 632.3 865.8 633.8 865.9 635.3 865.9 636.8 866.0 638.3 866.0 639.8 866.0 641.3 866.1 642.8 866.1 644.3 866.2 645.8 866.2 647.3 866.3 648.8 866.3 650.2 866.4 651.7 866.4 653.2 866.4 654.7 866.5 656.2 866.5 657.7 866.6 659.2 866.6 660.7 866.7 662.2 866.7 663.7 866.7 665.2 866.8 666.7 866.8 668.2 866.9 669.7 866.9 671.2 866.9 672.7 867.0 674.2 867.0 675.7 867.1 677.2 867.1 678.7 867.1 680.2 867.2 681.7 867.2 683.2 867.3 684.7 867.3 686.2 867.3 687.7 867.4 689.2 867.4 690.7 867.4 692.2 867.5 693.7 867.5 695.2 867.6 696.7 867.6 698.2 867.6 699.7 867.7 701.2 867.7 702.7 867.7 704.2 867.8 705.7 867.8 707.2 867.9 708.7 867.9 710.2 867.9 711.7 868.0 713.2 868.0 714.7 868.1 716.2 868.1 717.7 868.1 719.2 868.2 720.7 868.2 722.2 868.2 723.7 868.3 725.2 868.3 726.7 868.4 728.2 868.4 729.7 868.4 731.2 868.5 732.7 868.5 734.2 868.5 735.7 868.6 737.2 868.6 738.7 868.7 740.2 868.7 741.7 868.7 743.2 868.8 744.7 868.8 746.2 868.8 747.7 868.9 749.2 868.9 750.7 869.0 752.2 869.0 753.7 869.0 755.2 869.1 756.7 869.1 758.2 869.1 759.7 869.2 761.2 869.2 762.7 869.3 764.2 869.3 765.7 869.3 767.2 869.4 768.7 869.4 770.2 869.5 771.7 869.5 773.2 869.5 774.7 869.6 776.2 869.6 777.7 869.6 779.2 869.7 780.7 869.7 782.2 869.8 783.7 869.8 785.2 869.8 786.7 869.9 788.2 869.9 789.7 869.9 791.2 870.0 792.7 870.0 794.2 870.1 795.7 870.1 797.2 870.1 798.7 870.2 800.2 870.2 801.7 870.2 803.2 870.3 804.7 870.3 806.2 870.4 807.7 870.4 809.2 870.4 810.7 870.5 812.2 870.5 813.7 870.6 815.2 870.6 816.7 870.6 818.2 870.7 819.7 870.7 821.2 870.7 822.7 870.8 824.2 870.8 825.7 870.9 827.2 870.9 828.7 870.9 830.2 871.0 831.7 871.0 833.2 871.0 834.7 871.1 836.2 871.1 837.7 871.2 839.2 871.2 840.7 871.2 842.2 871.3 843.7 871.3 845.2 871.3 846.7 871.4 848.2 871.4 849.7 871.5 851.2 871.5 852.7 871.5 854.2 871.6 855.7 871.6 857.2 871.7 858.7 871.7 860.2 871.7 861.7 871.8 863.2 871.8 864.7 871.8 866.2 871.9 867.7 871.9 869.2 872.0 870.7 872.0 872.2 872.0 873.7 872.1 875.2 872.1 876.7 872.1 878.2 872.2 879.7 872.2 881.2 872.3 882.7 872.3 884.2 872.3 885.7 872.4 887.2 872.4 888.7 872.4 890.1 872.5 891.6 872.5 893.1 872.6 894.6 872.6 896.1 872.6 897.6 872.7 899.1 872.7 900.6 872.7 902.1 872.8 903.6 872.8 905.1 872.9 906.6 872.9 908.1 872.9 909.6 873.0 911.1 873.0 912.6 873.0 914.1 873.1 915.6 873.1 917.1 873.2 918.6 873.2 920.1 873.2 921.6 873.3 923.1 873.3 924.6 873.3 926.1 873.4 927.6 873.4 929.1 873.5 930.6 873.5 932.1 873.5 933.6 873.6 935.1 873.6 936.6 873.6 938.1 873.7 939.6 873.7 941.1 873.8 942.6 873.8 944.1 873.8 945.6 873.9 947.1 873.9 948.6 873.9 950.1 874.0 951.6 874.0 953.1 874.0 954.6 874.1 956.1 874.1 957.6 874.2 959.1 874.2 960.6 874.2 962.1 874.3 963.6 874.3 965.1 874.3 966.6 874.4 968.1 874.4 969.6 874.5 971.1 874.5 972.6 874.5 974.1 874.6 975.6 874.6 977.1 874.6 978.6 874.7 980.1 874.7 981.6 874.7 983.1 874.8 984.6 874.8 986.1 874.9 987.6 874.9 989.1 874.9 990.6 875.0 992.1 875.0 993.6 875.0 995.1 875.1 996.6 875.1 998.1 875.1 999.6 875.2 1001.1 875.2 1002.6 875.3 1004.1 875.3 1005.6 875.3 1007.1 875.4 1008.6 875.4 1010.1 875.4 1011.6 875.5 1013.1 875.5 1014.6 875.5 1016.1 875.6 1017.6 875.6 1019.1 875.7 1020.6 875.7 1022.1 875.7 1023.6 875.8 1025.1 875.8 1026.6 875.8 1028.1 875.9 1029.6 875.9 1031.1 875.9 1032.6 876.0 1034.1 876.0 1035.6 876.0 1037.1 876.1 1038.6 876.1 1040.1 876.2 1041.6 876.2 1043.1 876.2 1044.6 876.3 1046.1 876.3 1047.6 876.3 1049.1 876.4 1050.6 876.4 1052.1 876.4 1053.6 876.5 1055.1 876.5 1056.6 876.5 1058.1 876.6 1059.6 876.6 1061.1 876.6 1062.6 876.7 1064.1 876.7 1065.6 876.7 1067.1 876.8 1068.6 876.8 1070.1 876.9 1071.6 876.9 1073.1 876.9 1074.6 877.0 1076.1 877.0 1077.6 877.0 1079.1 877.1 1080.6 877.1 1082.1 877.1 1083.6 877.2 1085.1 877.2 1086.6 877.2 1088.1 877.3 1089.6 877.3 1091.1 877.3 1092.6 877.4 1094.1 877.4 1095.6 877.4 1097.1 877.5 1098.6 877.5 1100.1 877.5 1101.6 877.6 1103.1 877.6 1104.6 877.6 1106.1 877.7 1107.6 877.7 1109.1 877.7 1110.6 877.8 1112.1 877.8 1113.6 877.8 1115.1 877.9 1116.6 877.9 1118.1 877.9 1119.6 878.0 1121.1 878.0 1122.6 878.0 1124.1 878.1 1125.6 878.1 1127.1 878.1 1128.6 878.2 1130.1 878.2 1131.6 878.2 1133.1 878.3 1134.6 878.3 1136.1 878.3 1137.6 878.4 1139.1 878.4 1140.6 878.4 1142.1 878.5 1143.6 878.5 1145.1 878.5 1146.6 878.6 1148.1 878.6 1149.6 878.6 1151.1 878.7 1152.6 878.7 1154.1 878.7 1155.6 878.8 1157.1 878.8 1158.5 878.8 1160.0 878.9 1161.5 878.9 1163.0 878.9 1164.5 879.0 1166.0 879.0 1167.5 879.0 1169.0 879.1 1170.5 879.1 1172.0 879.1 1173.5 879.2 1175.0 879.2 1176.5 879.2 1178.0 879.2 1179.5 879.3 1181.0 879.3 1182.5 879.3 1184.0 879.4 1185.5 879.4 1187.0 879.4 1188.5 879.5 1190.0 879.5 1191.5 879.5 1193.0 879.6 1194.5 879.6 1196.0 879.6 1197.5 879.7 1199.0 879.7 1200.5 879.7 1202.0 879.7 1203.5 879.8 1205.0 879.8 1206.5 879.8 1208.0 879.9 1209.5 879.9 1211.0 879.9 1212.5 880.0 1214.0 880.0 1215.5 880.0 1217.0 880.1 1218.5 880.1 1220.0 880.1 1221.5 880.1 1223.0 880.2 1224.5 880.2 1226.0 880.2 1227.5 880.3 1229.0 880.3 1230.5 880.3 1232.0 880.3 1233.5 880.4 1235.0 880.4 1236.5 880.4 1238.0 880.5 1239.5 880.5 1241.0 880.5 1242.5 880.6 1244.0 880.6 1245.5 880.6 1247.0 880.6 1248.5 880.7 1250.0 880.7 1251.5 880.7 1253.0 880.8 1254.5 880.8 1256.0 880.8 1257.5 880.8 1259.0 880.9 1260.5 880.9 1262.0 880.9 1263.5 881.0 1265.0 881.0 1266.5 881.0 1268.0 881.0 1269.5 881.1 1271.0 881.1 1272.5 881.1 1274.0 881.2 1275.5 881.2 1277.0 881.2 1278.5 881.2 1280.0 881.3 1281.5 881.3 1283.0 881.3 1284.5 881.3 1286.0 881.4 1287.5 881.4 1289.0 881.4 1290.5 881.5 1292.0 881.5 1293.5 881.5 1295.0 881.5 1296.5 881.6 1298.0 881.6 1299.5 881.6 1301.0 881.6 1302.5 881.7 1304.0 881.7 1305.5 881.7 1307.0 881.8 1308.5 881.8 1310.0 881.8 1311.5 881.8 1313.0 881.9 1314.5 881.9 1316.0 881.9" stroke="#8a8a1e"/>
<path d="M177.8 875.0L179.3 875.1 180.8 875.2 182.3 875.2 183.8 875.3 185.3 875.3 186.8 875.4 188.3 875.4 189.8 875.4 191.3 875.4 192.8 875.4 194.3 875.4 195.8 875.3 197.3 875.3 198.8 875.3 200.3 875.2 201.8 875.2 203.3 875.1 204.8 875.0 206.3 874.9 207.7 874.8 209.2 874.7 210.7 874.6 212.2 874.5 213.7 874.4 215.2 874.3 216.7 874.2 218.2 874.0 219.7 873.9 221.2 873.7 222.7 873.6 224.2 873.4 225.7 873.3 227.2 873.1 228.6 873.0 230.1 872.8 231.6 872.6 233.1 872.4 234.6 872.3 236.1 872.1 237.6 871.9 239.1 871.7 240.6 871.5 242.0 871.3 243.5 871.1 245.0 870.9 246.5 870.7 248.0 870.5 249.5 870.3 251.0 870.1 252.4 869.9 253.9 869.7 255.4 869.5 256.9 869.3 258.4 869.1 259.9 868.9 261.4 868.7 262.8 868.5 264.3 868.3 265.8 868.1 267.3 868.0 268.8 867.8 270.3 867.6 271.8 867.4 273.2 867.2 274.7 867.0 276.2 866.8 277.7 866.7 279.2 866.5 280.7 866.3 282.2 866.2 283.7 866.0 285.2 865.8 286.7 865.7 288.1 865.6 289.6 865.4 291.1 865.3 292.6 865.1 294.1 865.0 295.6 864.9 297.1 864.8 298.6 864.7 300.1 864.6 301.6 864.5 303.1 864.4 304.6 864.3 306.1 864.3 307.6 864.2 309.1 864.1 310.6 864.1 312.1 864.1 313.6 864.0 315.1 864.0 316.6 864.0 318.1 864.0 319.6 863.9 321.1 863.9 322.6 863.9 324.1 864.0 325.6 864.0 327.1 864.0 328.6 864.0 330.1 864.0 331.6 864.0 333.1 864.0 334.6 864.1 336.1 864.1 337.6 864.1 339.1 864.1 340.6 864.2 342.1 864.2 343.6 864.2 345.0 864.2 346.5 864.2 348.0 864.2 349.5 864.3 351.0 864.3 352.5 864.3 354.0 864.3 355.5 864.3 357.0 864.3 358.5 864.3 360.0 864.3 361.5 864.3 363.0 864.3 364.5 864.2 366.0 864.2 367.5 864.2 369.0 864.2 370.5 864.2 372.0 864.2 373.5 864.1 375.0 864.1 376.5 864.1 378.0 864.1 379.5 864.0 381.0 864.0 382.5 864.0 384.0 863.9 385.5 863.9 387.0 863.8 388.5 863.8 390.0 863.8 391.5 863.7 393.0 863.7 394.5 863.6 396.0 863.6 397.5 863.6 399.0 863.5 400.5 863.5 402.0 863.4 403.5 863.4 405.0 863.3 406.5 863.3 408.0 863.2 409.5 863.2 411.0 863.1 412.5 863.1 414.0 863.1 415.5 863.0 417.0 863.0 418.5 862.9 420.0 862.9 421.5 862.9 423.0 862.8 424.5 862.8 426.0 862.7 427.5 862.7 429.0 862.7 430.5 862.7 432.0 862.6 433.5 862.6 435.0 862.6 436.5 862.6 438.0 862.5 439.5 862.5 441.0 862.5 442.5 862.5 444.0 862.5 445.5 862.5 447.0 862.5 448.5 862.5 450.0 862.5 451.5 862.5 453.0 862.5 454.5 862.5 456.0 862.6 457.4 862.6 458.9 862.6 460.4 862.6 461.9 862.7 463.4 862.7 464.9 862.7 466.4 862.8 467.9 862.8 469.4 862.9 470.9 862.9 472.4 863.0 473.9 863.0 475.4 863.1 476.9 863.1 478.4 863.2 479.9 863.3 481.4 863.3 482.9 863.4 484.4 863.5 485.9 863.5 487.4 863.6 488.9 863.7 490.4 863.8 491.9 863.8 493.4 863.9 494.9 864.0 496.4 864.1 497.9 864.2 499.4 864.3 500.9 864.4 502.4 864.4 503.9 864.5 505.4 864.6 506.9 864.7 508.4 864.8 509.9 864.9 511.4 865.0 512.8 865.1 514.3 865.2 515.8 865.3 517.3 865.4 518.8 865.5 520.3 865.6 521.8 865.7 523.3 865.8 524.8 865.9 526.3 866.0 527.8 866.1 529.3 866.3 530.8 866.4 532.3 866.5 533.8 866.6 535.3 866.7 536.8 866.8 538.3 866.9 539.8 867.0 541.3 867.1 542.8 867.2 544.2 867.3 545.7 867.4 547.2 867.5 548.7 867.6 550.2 867.8 551.7 867.9 553.2 868.0 554.7 868.1 556.2 868.2 557.7 868.3 559.2 868.4 560.7 868.5 562.2 868.6 563.7 868.7 565.2 868.8 566.7 868.9 568.2 869.0 569.7 869.1 571.2 869.1 572.7 869.2 574.2 869.3 575.7 869.4 577.2 869.5 578.6 869.6 580.1 869.7 581.6 869.8 583.1 869.8 584.6 869.9 586.1 870.0 587.6 870.1 589.1 870.2 590.6 870.2 592.1 870.3 593.6 870.4 595.1 870.4 596.6 870.5 598.1 870.6 599.6 870.6 601.1 870.7 602.6 870.8 604.1 870.8 605.6 870.9 607.1 870.9 608.6 871.0 610.1 871.1 611.6 871.1 613.1 871.2 614.6 871.2 616.1 871.3 617.6 871.3 619.1 871.4 620.6 871.4 622.1 871.5 623.6 871.5 625.1 871.6 626.6 871.6 628.1 871.6 629.6 871.7 631.1 871.7 632.6 871.8 634.1 871.8 635.6 871.9 637.1 871.9 638.6 871.9 640.1 872.0 641.6 872.0 643.1 872.0 644.6 872.1 646.1 872.1 647.6 872.1 649.1 872.2 650.5 872.2 652.0 872.2 653.5 872.2 655.0 872.3 656.5 872.3 658.0 872.3 659.5 872.4 661.0 872.4 662.5 872.4 664.0 872.4 665.5 872.5 667.0 872.5 668.5 872.5 670.0 872.5 671.5 872.6 673.0 872.6 674.5 872.6 676.0 872.6 677.5 872.6 679.0 872.7 680.5 872.7 682.0 872.7 683.5 872.7 685.0 872.7 686.5 872.8 688.0 872.8 689.5 872.8 691.0 872.8 692.5 872.8 694.0 872.8 695.5 872.9 697.0 872.9 698.5 872.9 700.0 872.9 701.5 872.9 703.0 873.0 704.5 873.0 706.0 873.0 707.5 873.0 709.0 873.0 710.5 873.0 712.0 873.1 713.5 873.1 715.0 873.1 716.5 873.1 718.0 873.1 719.5 873.1 721.0 873.2 722.5 873.2 724.0 873.2 725.5 873.2 727.0 873.2 728.5 873.2 730.0 873.3 731.5 873.3 733.0 873.3 734.5 873.3 736.0 873.3 737.5 873.4 739.0 873.4 740.5 873.4 742.0 873.4 743.5 873.4 745.0 873.4 746.5 873.5 748.0 873.5 749.5 873.5 751.0 873.5 752.5 873.5 754.0 873.6 755.5 873.6 757.0 873.6 758.5 873.6 760.0 873.6 761.5 873.7 763.0 873.7 764.5 873.7 766.0 873.7 767.5 873.7 769.0 873.8 770.5 873.8 772.0 873.8 773.5 873.8 775.0 873.9 776.5 873.9 778.0 873.9 779.4 873.9 780.9 873.9 782.4 874.0 783.9 874.0 785.4 874.0 786.9 874.0 788.4 874.0 789.9 874.1 791.4 874.1 792.9 874.1 794.4 874.1 795.9 874.2 797.4 874.2 798.9 874.2 800.4 874.2 801.9 874.2 803.4 874.3 804.9 874.3 806.4 874.3 807.9 874.3 809.4 874.4 810.9 874.4 812.4 874.4 813.9 874.4 815.4 874.5 816.9 874.5 818.4 874.5 819.9 874.5 821.4 874.5 822.9 874.6 824.4 874.6 825.9 874.6 827.4 874.6 828.9 874.7 830.4 874.7 831.9 874.7 833.4 874.7 834.9 874.8 836.4 874.8 837.9 874.8 839.4 874.8 840.9 874.9 842.4 874.9 843.9 874.9 845.4 874.9 846.9 875.0 848.4 875.0 849.9 875.0 851.4 875.0 852.9 875.1 854.4 875.1 855.9 875.1 857.4 875.1 858.9 875.2 860.4 875.2 861.9 875.2 863.4 875.2 864.9 875.3 866.4 875.3 867.9 875.3 869.4 875.3 870.9 875.4 872.4 875.4 873.9 875.4 875.4 875.4 876.9 875.5 878.4 875.5 879.9 875.5 881.4 875.6 882.9 875.6 884.4 875.6 885.9 875.6 887.4 875.7 888.9 875.7 890.4 875.7 891.9 875.7 893.4 875.8 894.9 875.8 896.4 875.8 897.9 875.8 899.4 875.9 900.8 875.9 902.3 875.9 903.8 875.9 905.3 876.0 906.8 876.0 908.3 876.0 909.8 876.1 911.3 876.1 912.8 876.1 914.3 876.1 915.8 876.2 917.3 876.2 918.8 876.2 920.3 876.2 921.8 876.3 923.3 876.3 924.8 876.3 926.3 876.4 927.8 876.4 929.3 876.4 930.8 876.4 932.3 876.5 933.8 876.5 935.3 876.5 936.8 876.5 938.3 876.6 939.8 876.6 941.3 876.6 942.8 876.7 944.3 876.7 945.8 876.7 947.3 876.7 948.8 876.8 950.3 876.8 951.8 876.8 953.3 876.9 954.8 876.9 956.3 876.9 957.8 876.9 959.3 877.0 960.8 877.0 962.3 877.0 963.8 877.0 965.3 877.1 966.8 877.1 968.3 877.1 969.8 877.2 971.3 877.2 972.8 877.2 974.3 877.2 975.8 877.3 977.3 877.3 978.8 877.3 980.3 877.4 981.8 877.4 983.3 877.4 984.8 877.4 986.3 877.5 987.8 877.5 989.3 877.5 990.8 877.6 992.3 877.6 993.8 877.6 995.3 877.6 996.8 877.7 998.3 877.7 999.8 877.7 1001.3 877.8 1002.8 877.8 1004.3 877.8 1005.8 877.8 1007.3 877.9 1008.8 877.9 1010.3 877.9 1011.8 877.9 1013.3 878.0 1014.8 878.0 1016.3 878.0 1017.7 878.1 1019.2 878.1 1020.7 878.1 1022.2 878.1 1023.7 878.2 1025.2 878.2 1026.7 878.2 1028.2 878.3 1029.7 878.3 1031.2 878.3 1032.7 878.3 1034.2 878.4 1035.7 878.4 1037.2 878.4 1038.7 878.5 1040.2 878.5 1041.7 878.5 1043.2 878.5 1044.7 878.6 1046.2 878.6 1047.7 878.6 1049.2 878.7 1050.7 878.7 1052.2 878.7 1053.7 878.7 1055.2 878.8 1056.7 878.8 1058.2 878.8 1059.7 878.8 1061.2 878.9 1062.7 878.9 1064.2 878.9 1065.7 879.0 1067.2 879.0 1068.7 879.0 1070.2 879.0 1071.7 879.1 1073.2 879.1 1074.7 879.1 1076.2 879.1 1077.7 879.2 1079.2 879.2 1080.7 879.2 1082.2 879.3 1083.7 879.3 1085.2 879.3 1086.7 879.3 1088.2 879.4 1089.7 879.4 1091.2 879.4 1092.7 879.5 1094.2 879.5 1095.7 879.5 1097.2 879.5 1098.7 879.6 1100.2 879.6 1101.7 879.6 1103.2 879.6 1104.7 879.7 1106.2 879.7 1107.7 879.7 1109.2 879.7 1110.7 879.8 1112.2 879.8 1113.7 879.8 1115.2 879.9 1116.7 879.9 1118.2 879.9 1119.7 879.9 1121.2 880.0 1122.7 880.0 1124.2 880.0 1125.7 880.0 1127.2 880.1 1128.7 880.1 1130.2 880.1 1131.7 880.1 1133.2 880.2 1134.6 880.2 1136.1 880.2 1137.6 880.2 1139.1 880.3 1140.6 880.3 1142.1 880.3 1143.6 880.3 1145.1 880.4 1146.6 880.4 1148.1 880.4 1149.6 880.5 1151.1 880.5 1152.6 880.5 1154.1 880.5 1155.6 880.6 1157.1 880.6 1158.6 880.6 1160.1 880.6 1161.6 880.7 1163.1 880.7 1164.6 880.7 1166.1 880.7 1167.6 880.8 1169.1 880.8 1170.6 880.8 1172.1 880.8 1173.6 880.9 1175.1 880.9 1176.6 880.9 1178.1 880.9 1179.6 880.9 1181.1 881.0 1182.6 881.0 1184.1 881.0 1185.6 881.0 1187.1 881.1 1188.6 881.1 1190.1 881.1 1191.6 881.1 1193.1 881.2 1194.6 881.2 1196.1 881.2 1197.6 881.2 1199.1 881.3 1200.6 881.3 1202.1 881.3 1203.6 881.3 1205.1 881.3 1206.6 881.4 1208.1 881.4 1209.6 881.4 1211.1 881.4 1212.6 881.5 1214.1 881.5 1215.6 881.5 1217.1 881.5 1218.6 881.5 1220.1 881.6 1221.6 881.6 1223.1 881.6 1224.6 881.6 1226.1 881.7 1227.6 881.7 1229.1 881.7 1230.6 881.7 1232.1 881.7 1233.6 881.8 1235.1 881.8 1236.6 881.8 1238.1 881.8 1239.6 881.8 1241.1 881.9 1242.6 881.9 1244.1 881.9 1245.6 881.9 1247.1 882.0 1248.6 882.0 1250.1 882.0 1251.6 882.0 1253.1 882.0 1254.6 882.1 1256.1 882.1 1257.6 882.1 1259.0 882.1 1260.5 882.1 1262.0 882.2 1263.5 882.2 1265.0 882.2 1266.5 882.2 1268.0 882.2 1269.5 882.2 1271.0 882.3 1272.5 882.3 1274.0 882.3 1275.5 882.3 1277.0 882.3 1278.5 882.4 1280.0 882.4 1281.5 882.4 1283.0 882.4 1284.5 882.4 1286.0 882.4 1287.5 882.5 1289.0 882.5 1290.5 882.5 1292.0 882.5 1293.5 882.5 1295.0 882.6 1296.5 882.6 1298.0 882.6 1299.5 882.6 1301.0 882.6 1302.5 882.6 1304.0 882.7 1305.5 882.7 1307.0 882.7 1308.5 882.7 1310.0 882.7 1311.5 882.7 1313.0 882.7 1314.5 882.8 1316.0 882.8" stroke="#2a5a8e"/>
<path d="M177.8 878.6L179.3 878.6 180.8 878.6 182.3 878.6 183.8 878.5 185.3 878.5 186.8 878.5 188.3 878.5 189.8 878.4 191.3 878.4 192.8 878.3 194.3 878.3 195.8 878.2 197.3 878.2 198.8 878.1 200.3 878.0 201.8 878.0 203.3 877.9 204.7 877.8 206.2 877.7 207.7 877.6 209.2 877.5 210.7 877.4 212.2 877.3 213.7 877.2 215.2 877.1 216.7 877.0 218.2 876.9 219.7 876.8 221.2 876.7 222.7 876.5 224.2 876.4 225.7 876.3 227.2 876.2 228.7 876.0 230.1 875.9 231.6 875.8 233.1 875.6 234.6 875.5 236.1 875.3 237.6 875.2 239.1 875.1 240.6 874.9 242.1 874.8 243.6 874.6 245.1 874.5 246.6 874.3 248.0 874.2 249.5 874.0 251.0 873.9 252.5 873.7 254.0 873.6 255.5 873.4 257.0 873.3 258.5 873.1 260.0 873.0 261.5 872.8 263.0 872.7 264.5 872.5 265.9 872.4 267.4 872.3 268.9 872.1 270.4 872.0 271.9 871.8 273.4 871.7 274.9 871.5 276.4 871.4 277.9 871.3 279.4 871.1 280.9 871.0 282.4 870.9 283.8 870.7 285.3 870.6 286.8 870.5 288.3 870.4 289.8 870.2 291.3 870.1 292.8 870.0 294.3 869.9 295.8 869.8 297.3 869.7 298.8 869.6 300.3 869.5 301.8 869.4 303.3 869.3 304.8 869.2 306.3 869.2 307.8 869.1 309.3 869.0 310.8 868.9 312.3 868.9 313.8 868.8 315.3 868.7 316.7 868.7 318.2 868.6 319.7 868.6 321.2 868.5 322.7 868.5 324.2 868.5 325.7 868.4 327.2 868.4 328.7 868.4 330.2 868.3 331.7 868.3 333.2 868.3 334.7 868.3 336.2 868.3 337.7 868.2 339.2 868.2 340.7 868.2 342.2 868.2 343.7 868.2 345.2 868.2 346.7 868.2 348.2 868.2 349.7 868.2 351.2 868.2 352.7 868.2 354.2 868.2 355.7 868.2 357.2 868.2 358.7 868.2 360.2 868.2 361.7 868.2 363.2 868.2 364.7 868.2 366.2 868.2 367.7 868.1 369.2 868.1 370.7 868.1 372.2 868.1 373.7 868.1 375.2 868.1 376.7 868.1 378.2 868.1 379.7 868.1 381.2 868.1 382.7 868.1 384.2 868.1 385.7 868.1 387.2 868.1 388.7 868.0 390.2 868.0 391.7 868.0 393.2 868.0 394.7 868.0 396.2 867.9 397.7 867.9 399.2 867.9 400.7 867.9 402.2 867.9 403.7 867.8 405.2 867.8 406.7 867.8 408.1 867.8 409.6 867.7 411.1 867.7 412.6 867.7 414.1 867.7 415.6 867.6 417.1 867.6 418.6 867.6 420.1 867.6 421.6 867.6 423.1 867.5 424.6 867.5 426.1 867.5 427.6 867.5 429.1 867.5 430.6 867.5 432.1 867.5 433.6 867.5 435.1 867.4 436.6 867.4 438.1 867.4 439.6 867.4 441.1 867.4 442.6 867.4 444.1 867.4 445.6 867.4 447.1 867.4 448.6 867.5 450.1 867.5 451.6 867.5 453.1 867.5 454.6 867.5 456.1 867.6 457.6 867.6 459.1 867.6 460.6 867.6 462.1 867.7 463.6 867.7 465.1 867.7 466.6 867.8 468.1 867.8 469.6 867.9 471.1 867.9 472.6 868.0 474.1 868.0 475.6 868.1 477.1 868.1 478.6 868.2 480.1 868.2 481.6 868.3 483.1 868.3 484.6 868.4 486.1 868.5 487.6 868.5 489.0 868.6 490.5 868.7 492.0 868.7 493.5 868.8 495.0 868.9 496.5 869.0 498.0 869.0 499.5 869.1 501.0 869.2 502.5 869.3 504.0 869.3 505.5 869.4 507.0 869.5 508.5 869.6 510.0 869.6 511.5 869.7 513.0 869.8 514.5 869.9 516.0 870.0 517.5 870.1 519.0 870.2 520.5 870.2 522.0 870.3 523.5 870.4 525.0 870.5 526.5 870.6 528.0 870.7 529.5 870.8 530.9 870.8 532.4 870.9 533.9 871.0 535.4 871.1 536.9 871.2 538.4 871.3 539.9 871.4 541.4 871.5 542.9 871.5 544.4 871.6 545.9 871.7 547.4 871.8 548.9 871.9 550.4 872.0 551.9 872.0 553.4 872.1 554.9 872.2 556.4 872.3 557.9 872.4 559.4 872.5 560.9 872.5 562.4 872.6 563.9 872.7 565.4 872.8 566.9 872.8 568.4 872.9 569.8 873.0 571.3 873.1 572.8 873.1 574.3 873.2 575.8 873.3 577.3 873.3 578.8 873.4 580.3 873.5 581.8 873.5 583.3 873.6 584.8 873.7 586.3 873.7 587.8 873.8 589.3 873.8 590.8 873.9 592.3 873.9 593.8 874.0 595.3 874.0 596.8 874.1 598.3 874.1 599.8 874.2 601.3 874.2 602.8 874.3 604.3 874.3 605.8 874.4 607.3 874.4 608.8 874.4 610.3 874.5 611.8 874.5 613.3 874.6 614.8 874.6 616.3 874.6 617.8 874.7 619.3 874.7 620.8 874.7 622.3 874.8 623.8 874.8 625.3 874.8 626.8 874.9 628.3 874.9 629.8 874.9 631.3 874.9 632.8 875.0 634.2 875.0 635.7 875.0 637.2 875.0 638.7 875.1 640.2 875.1 641.7 875.1 643.2 875.1 644.7 875.2 646.2 875.2 647.7 875.2 649.2 875.2 650.7 875.2 652.2 875.3 653.7 875.3 655.2 875.3 656.7 875.3 658.2 875.3 659.7 875.3 661.2 875.3 662.7 875.4 664.2 875.4 665.7 875.4 667.2 875.4 668.7 875.4 670.2 875.4 671.7 875.4 673.2 875.4 674.7 875.5 676.2 875.5 677.7 875.5 679.2 875.5 680.7 875.5 682.2 875.5 683.7 875.5 685.2 875.5 686.7 875.5 688.2 875.5 689.7 875.6 691.2 875.6 692.7 875.6 694.2 875.6 695.7 875.6 697.2 875.6 698.7 875.6 700.2 875.6 701.7 875.6 703.2 875.6 704.7 875.6 706.2 875.6 707.7 875.7 709.2 875.7 710.7 875.7 712.2 875.7 713.7 875.7 715.2 875.7 716.7 875.7 718.2 875.7 719.7 875.7 721.2 875.7 722.7 875.7 724.2 875.8 725.7 875.8 727.2 875.8 728.7 875.8 730.2 875.8 731.6 875.8 733.1 875.8 734.6 875.8 736.1 875.8 737.6 875.9 739.1 875.9 740.6 875.9 742.1 875.9 743.6 875.9 745.1 875.9 746.6 875.9 748.1 875.9 749.6 876.0 751.1 876.0 752.6 876.0 754.1 876.0 755.6 876.0 757.1 876.0 758.6 876.0 760.1 876.0 761.6 876.1 763.1 876.1 764.6 876.1 766.1 876.1 767.6 876.1 769.1 876.1 770.6 876.2 772.1 876.2 773.6 876.2 775.1 876.2 776.6 876.2 778.1 876.2 779.6 876.2 781.1 876.3 782.6 876.3 784.1 876.3 785.6 876.3 787.1 876.3 788.6 876.3 790.1 876.4 791.6 876.4 793.1 876.4 794.6 876.4 796.1 876.4 797.6 876.5 799.1 876.5 800.6 876.5 802.1 876.5 803.6 876.5 805.1 876.5 806.6 876.6 808.1 876.6 809.6 876.6 811.1 876.6 812.6 876.6 814.1 876.7 815.6 876.7 817.1 876.7 818.6 876.7 820.1 876.7 821.6 876.8 823.1 876.8 824.6 876.8 826.0 876.8 827.5 876.8 829.0 876.9 830.5 876.9 832.0 876.9 833.5 876.9 835.0 876.9 836.5 877.0 838.0 877.0 839.5 877.0 841.0 877.0 842.5 877.1 844.0 877.1 845.5 877.1 847.0 877.1 848.5 877.1 850.0 877.2 851.5 877.2 853.0 877.2 854.5 877.2 856.0 877.3 857.5 877.3 859.0 877.3 860.5 877.3 862.0 877.3 863.5 877.4 865.0 877.4 866.5 877.4 868.0 877.4 869.5 877.5 871.0 877.5 872.5 877.5 874.0 877.5 875.5 877.6 877.0 877.6 878.5 877.6 880.0 877.6 881.5 877.6 883.0 877.7 884.5 877.7 886.0 877.7 887.5 877.7 889.0 877.8 890.5 877.8 892.0 877.8 893.5 877.8 895.0 877.9 896.5 877.9 898.0 877.9 899.5 877.9 901.0 878.0 902.5 878.0 904.0 878.0 905.5 878.0 907.0 878.1 908.5 878.1 910.0 878.1 911.5 878.1 913.0 878.2 914.5 878.2 915.9 878.2 917.4 878.2 918.9 878.3 920.4 878.3 921.9 878.3 923.4 878.3 924.9 878.4 926.4 878.4 927.9 878.4 929.4 878.5 930.9 878.5 932.4 878.5 933.9 878.5 935.4 878.6 936.9 878.6 938.4 878.6 939.9 878.6 941.4 878.7 942.9 878.7 944.4 878.7 945.9 878.7 947.4 878.8 948.9 878.8 950.4 878.8 951.9 878.8 953.4 878.9 954.9 878.9 956.4 878.9 957.9 879.0 959.4 879.0 960.9 879.0 962.4 879.0 963.9 879.1 965.4 879.1 966.9 879.1 968.4 879.1 969.9 879.2 971.4 879.2 972.9 879.2 974.4 879.3 975.9 879.3 977.4 879.3 978.9 879.3 980.4 879.4 981.9 879.4 983.4 879.4 984.9 879.4 986.4 879.5 987.9 879.5 989.4 879.5 990.9 879.5 992.4 879.6 993.9 879.6 995.4 879.6 996.9 879.7 998.4 879.7 999.9 879.7 1001.4 879.7 1002.8 879.8 1004.3 879.8 1005.8 879.8 1007.3 879.8 1008.8 879.9 1010.3 879.9 1011.8 879.9 1013.3 880.0 1014.8 880.0 1016.3 880.0 1017.8 880.0 1019.3 880.1 1020.8 880.1 1022.3 880.1 1023.8 880.1 1025.3 880.2 1026.8 880.2 1028.3 880.2 1029.8 880.3 1031.3 880.3 1032.8 880.3 1034.3 880.3 1035.8 880.4 1037.3 880.4 1038.8 880.4 1040.3 880.4 1041.8 880.5 1043.3 880.5 1044.8 880.5 1046.3 880.5 1047.8 880.6 1049.3 880.6 1050.8 880.6 1052.3 880.7 1053.8 880.7 1055.3 880.7 1056.8 880.7 1058.3 880.8 1059.8 880.8 1061.3 880.8 1062.8 880.8 1064.3 880.9 1065.8 880.9 1067.3 880.9 1068.8 880.9 1070.3 881.0 1071.8 881.0 1073.3 881.0 1074.8 881.0 1076.3 881.1 1077.8 881.1 1079.3 881.1 1080.8 881.1 1082.3 881.2 1083.8 881.2 1085.3 881.2 1086.8 881.2 1088.3 881.3 1089.7 881.3 1091.2 881.3 1092.7 881.3 1094.2 881.4 1095.7 881.4 1097.2 881.4 1098.7 881.4 1100.2 881.5 1101.7 881.5 1103.2 881.5 1104.7 881.5 1106.2 881.6 1107.7 881.6 1109.2 881.6 1110.7 881.6 1112.2 881.7 1113.7 881.7 1115.2 881.7 1116.7 881.7 1118.2 881.8 1119.7 881.8 1121.2 881.8 1122.7 881.8 1124.2 881.9 1125.7 881.9 1127.2 881.9 1128.7 881.9 1130.2 882.0 1131.7 882.0 1133.2 882.0 1134.7 882.0 1136.2 882.0 1137.7 882.1 1139.2 882.1 1140.7 882.1 1142.2 882.1 1143.7 882.2 1145.2 882.2 1146.7 882.2 1148.2 882.2 1149.7 882.2 1151.2 882.3 1152.7 882.3 1154.2 882.3 1155.7 882.3 1157.2 882.4 1158.7 882.4 1160.2 882.4 1161.7 882.4 1163.2 882.4 1164.7 882.5 1166.2 882.5 1167.7 882.5 1169.2 882.5 1170.7 882.5 1172.2 882.6 1173.7 882.6 1175.2 882.6 1176.7 882.6 1178.2 882.6 1179.6 882.7 1181.1 882.7 1182.6 882.7 1184.1 882.7 1185.6 882.7 1187.1 882.8 1188.6 882.8 1190.1 882.8 1191.6 882.8 1193.1 882.8 1194.6 882.8 1196.1 882.9 1197.6 882.9 1199.1 882.9 1200.6 882.9 1202.1 882.9 1203.6 883.0 1205.1 883.0 1206.6 883.0 1208.1 883.0 1209.6 883.0 1211.1 883.0 1212.6 883.1 1214.1 883.1 1215.6 883.1 1217.1 883.1 1218.6 883.1 1220.1 883.1 1221.6 883.2 1223.1 883.2 1224.6 883.2 1226.1 883.2 1227.6 883.2 1229.1 883.2 1230.6 883.2 1232.1 883.3 1233.6 883.3 1235.1 883.3 1236.6 883.3 1238.1 883.3 1239.6 883.3 1241.1 883.3 1242.6 883.4 1244.1 883.4 1245.6 883.4 1247.1 883.4 1248.6 883.4 1250.1 883.4 1251.6 883.4 1253.1 883.4 1254.6 883.5 1256.1 883.5 1257.6 883.5 1259.1 883.5 1260.6 883.5 1262.1 883.5 1263.6 883.5 1265.1 883.5 1266.6 883.6 1268.1 883.6 1269.6 883.6 1271.1 883.6 1272.6 883.6 1274.0 883.6 1275.5 883.6 1277.0 883.6 1278.5 883.6 1280.0 883.6 1281.5 883.6 1283.0 883.7 1284.5 883.7 1286.0 883.7 1287.5 883.7 1289.0 883.7 1290.5 883.7 1292.0 883.7 1293.5 883.7 1295.0 883.7 1296.5 883.7 1298.0 883.7 1299.5 883.7 1301.0 883.7 1302.5 883.8 1304.0 883.8 1305.5 883.8 1307.0 883.8 1308.5 883.8 1310.0 883.8 1311.5 883.8 1313.0 883.8 1314.5 883.8 1316.0 883.8" stroke="#2a8a8e"/>
</g>
<g stroke="#000" stroke-width="5.4" fill="none">
<line x1="172.1" y1="49.1" x2="1319.8" y2="49.1"/>
<line x1="172.1" y1="889.1" x2="1319.8" y2="889.1"/>
<line x1="174.8" y1="49.1" x2="174.8" y2="889.1"/>
<line x1="1317.1" y1="49.1" x2="1317.1" y2="889.1"/>
<line x1="155.3" y1="889.1" x2="174.8" y2="889.1"/>
<line x1="164.5" y1="805.1" x2="174.8" y2="805.1"/>
<line x1="155.3" y1="721.1" x2="174.8" y2="721.1"/>
<line x1="164.5" y1="637.1" x2="174.8" y2="637.1"/>
<line x1="155.3" y1="553.1" x2="174.8" y2="553.1"/>
<line x1="164.5" y1="469.1" x2="174.8" y2="469.1"/>
<line x1="155.3" y1="385.1" x2="174.8" y2="385.1"/>
<line x1="164.5" y1="301.1" x2="174.8" y2="301.1"/>
<line x1="155.3" y1="217.1" x2="174.8" y2="217.1"/>
<line x1="164.5" y1="133.1" x2="174.8" y2="133.1"/>
<line x1="155.3" y1="49.1" x2="174.8" y2="49.1"/>
<line x1="174.8" y1="889.1" x2="174.8" y2="908.5"/>
<line x1="365.2" y1="889.1" x2="365.2" y2="898.5"/>
<line x1="555.6" y1="889.1" x2="555.6" y2="908.5"/>
<line x1="746.0" y1="889.1" x2="746.0" y2="898.5"/>
<line x1="936.3" y1="889.1" x2="936.3" y2="908.5"/>
<line x1="1126.7" y1="889.1" x2="1126.7" y2="898.5"/>
<line x1="1317.1" y1="889.1" x2="1317.1" y2="908.5"/>
</g>
<g class="sans" font-size="40" fill="#000">
<text x="144.5" y="900.9" text-anchor="end">0</text>
<text x="144.5" y="732.9" text-anchor="end">100</text>
<text x="144.5" y="564.9" text-anchor="end">200</text>
<text x="144.5" y="396.9" text-anchor="end">300</text>
<text x="144.5" y="228.9" text-anchor="end">400</text>
<text x="144.5" y="60.9" text-anchor="end">500</text>
<text x="174.8" y="949.8" text-anchor="middle">350</text>
<text x="555.6" y="949.8" text-anchor="middle">400</text>
<text x="936.3" y="949.8" text-anchor="middle">450</text>
<text x="1317.1" y="949.8" text-anchor="middle">500</text>
</g>
<text class="sans" font-size="60.5" letter-spacing="0.45" x="508" y="1003">Wavelength(nm)</text>
<text class="sans" font-size="63" transform="translate(68.5,749.6) rotate(-90)">Intensity(a.u.)</text>
<g class="serif" font-size="41" fill="#000">
<text transform="translate(391,105.5) scale(1,1.06)">Excitation<tspan dx="4">:</tspan></text>
<text transform="translate(612.5,105.5) scale(1,1.06)" font-size="42">320 <tspan fill="#1a1ac8" dx="1">nm</tspan></text>
<text transform="translate(393.5,157) scale(1,1.06)">Emission: 367 <tspan fill="#1a1ac8">nm</tspan> 383 <tspan fill="#1a1ac8">nm</tspan></text>
</g>
<g class="serif" font-size="41" fill="#000" stroke-width="3.8" stroke-linecap="butt">
<line x1="943.5" y1="195.4" x2="1041" y2="195.4" stroke="#000000"/>
<text transform="translate(1050,209.6) scale(1,1.06)">Original</text>
<line x1="943.5" y1="248.2" x2="1041" y2="248.2" stroke="#d01428"/>
<text transform="translate(1050,262.2) scale(1,1.06)">50 <tspan fill="#1a1ac8"><tspan class="mu" dx="1.5">&#181;</tspan><tspan dx="2">L</tspan></tspan></text>
<line x1="943.5" y1="300.9" x2="1041" y2="300.9" stroke="#0c0cb4"/>
<text transform="translate(1050,314.8) scale(1,1.06)">100 <tspan fill="#1a1ac8"><tspan class="mu" dx="1.5">&#181;</tspan><tspan dx="2">L</tspan></tspan></text>
<line x1="943.5" y1="353.6" x2="1041" y2="353.6" stroke="#dc28dc"/>
<text transform="translate(1050,367.4) scale(1,1.06)">200 <tspan fill="#1a1ac8"><tspan class="mu" dx="1.5">&#181;</tspan><tspan dx="2">L</tspan></tspan></text>
<line x1="943.5" y1="406.4" x2="1041" y2="406.4" stroke="#1a7d1a"/>
<text transform="translate(1050,420.0) scale(1,1.06)">300 <tspan fill="#1a1ac8"><tspan class="mu" dx="1.5">&#181;</tspan><tspan dx="2">L</tspan></tspan></text>
<line x1="943.5" y1="459.1" x2="1041" y2="459.1" stroke="#0a0a6e"/>
<text transform="translate(1050,472.6) scale(1,1.06)">400 <tspan fill="#1a1ac8"><tspan class="mu" dx="1.5">&#181;</tspan><tspan dx="2">L</tspan></tspan></text>
<line x1="943.5" y1="511.9" x2="1041" y2="511.9" stroke="#6e22c8"/>
<text transform="translate(1050,525.2) scale(1,1.06)">500 <tspan fill="#1a1ac8"><tspan class="mu" dx="1.5">&#181;</tspan><tspan dx="2">L</tspan></tspan></text>
<line x1="943.5" y1="564.6" x2="1041" y2="564.6" stroke="#701470"/>
<text transform="translate(1050,577.8) scale(1,1.06)">600 <tspan fill="#1a1ac8"><tspan class="mu" dx="1.5">&#181;</tspan><tspan dx="2">L</tspan></tspan></text>
<line x1="943.5" y1="617.4" x2="1041" y2="617.4" stroke="#780a14"/>
<text transform="translate(1050,630.4) scale(1,1.06)">700 <tspan fill="#1a1ac8"><tspan class="mu" dx="1.5">&#181;</tspan><tspan dx="2">L</tspan></tspan></text>
<line x1="943.5" y1="670.1" x2="1041" y2="670.1" stroke="#8a8a1e"/>
<text transform="translate(1050,683.0) scale(1,1.06)">800 <tspan fill="#1a1ac8"><tspan class="mu" dx="1.5">&#181;</tspan><tspan dx="2">L</tspan></tspan></text>
<line x1="943.5" y1="722.9" x2="1041" y2="722.9" stroke="#2a5a8e"/>
<text transform="translate(1050,735.6) scale(1,1.06)">900 <tspan fill="#1a1ac8"><tspan class="mu" dx="1.5">&#181;</tspan><tspan dx="2">L</tspan></tspan></text>
<line x1="943.5" y1="775.6" x2="1041" y2="775.6" stroke="#2a8a8e"/>
<text transform="translate(1050,788.2) scale(1,1.06)">1000 <tspan fill="#1a1ac8"><tspan class="mu" dx="1.5">&#181;</tspan><tspan dx="2">L</tspan></tspan></text>
</g>
</svg>
</body></html>
